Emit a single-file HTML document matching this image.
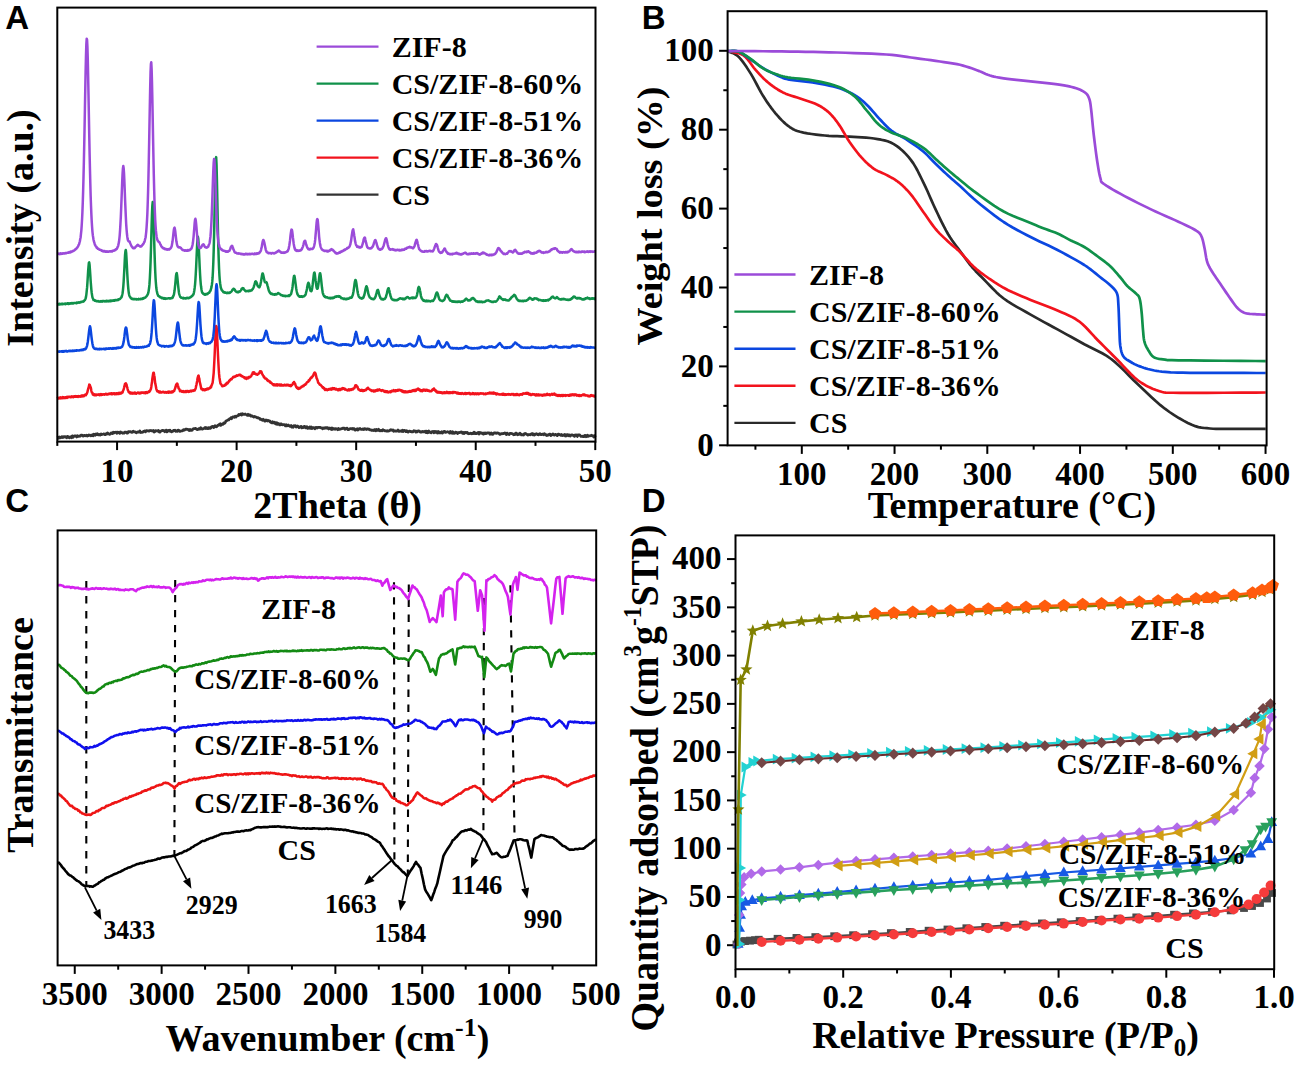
<!DOCTYPE html><html><head><meta charset="utf-8"><style>html,body{margin:0;padding:0;background:#fff;}svg{display:block;}</style></head><body>
<svg width="1299" height="1065" viewBox="0 0 1299 1065">
<rect width="1299" height="1065" fill="#fff"/>
<g id="A">
<line x1="57.3" y1="441.6" x2="57.3" y2="445.9" stroke="#000" stroke-width="2" />
<line x1="117.07" y1="441.6" x2="117.07" y2="450.1" stroke="#000" stroke-width="2" />
<line x1="176.85" y1="441.6" x2="176.85" y2="445.9" stroke="#000" stroke-width="2" />
<line x1="236.62" y1="441.6" x2="236.62" y2="450.1" stroke="#000" stroke-width="2" />
<line x1="296.4" y1="441.6" x2="296.4" y2="445.9" stroke="#000" stroke-width="2" />
<line x1="356.18" y1="441.6" x2="356.18" y2="450.1" stroke="#000" stroke-width="2" />
<line x1="415.95" y1="441.6" x2="415.95" y2="445.9" stroke="#000" stroke-width="2" />
<line x1="475.73" y1="441.6" x2="475.73" y2="450.1" stroke="#000" stroke-width="2" />
<line x1="535.5" y1="441.6" x2="535.5" y2="445.9" stroke="#000" stroke-width="2" />
<line x1="595.27" y1="441.6" x2="595.27" y2="450.1" stroke="#000" stroke-width="2" />
<text x="117.07" y="481.6" font-size="33" font-family="Liberation Serif" font-weight="bold" text-anchor="middle" >10</text>
<text x="236.62" y="481.6" font-size="33" font-family="Liberation Serif" font-weight="bold" text-anchor="middle" >20</text>
<text x="356.18" y="481.6" font-size="33" font-family="Liberation Serif" font-weight="bold" text-anchor="middle" >30</text>
<text x="475.73" y="481.6" font-size="33" font-family="Liberation Serif" font-weight="bold" text-anchor="middle" >40</text>
<text x="595.27" y="481.6" font-size="33" font-family="Liberation Serif" font-weight="bold" text-anchor="middle" >50</text>
<polyline fill="none" stroke="#333333" stroke-width="2.8" stroke-linejoin="round" points="57.3,437.68 58.02,437.31 58.73,438.15 59.45,437.05 60.17,437.82 60.89,437.46 61.6,436.84 62.32,437.59 63.04,436.69 63.76,437.34 64.47,436.63 65.19,436.6 65.91,437.14 66.62,437.81 67.34,436.48 68.06,436.6 68.78,437.27 69.49,437.79 70.21,437.06 70.93,436.67 71.65,437.66 72.36,435.92 73.08,437.33 73.8,436.24 74.52,435.92 75.23,435.81 75.95,436.1 76.67,436.95 77.38,435.75 78.1,436.41 78.82,436.45 79.54,435.91 80.25,436.17 80.97,435.23 81.69,435.17 82.41,435.37 83.12,436.16 83.84,435.65 84.56,435.39 85.27,435.81 85.99,435.52 86.71,435.18 87.43,436.01 88.14,435.77 88.86,434.89 89.58,435.42 90.3,435.26 91.01,435.83 91.73,435.5 92.45,434.64 93.16,435.82 93.88,434.21 94.6,434.68 95.32,435.23 96.03,434.07 96.75,434.62 97.47,433.74 98.19,434.81 98.9,434.92 99.62,434.51 100.34,434.99 101.06,433.91 101.77,434.53 102.49,434.29 103.21,434.2 103.92,433.91 104.64,434.54 105.36,434.66 106.08,433.75 106.79,434.02 107.51,432.87 108.23,433.96 108.95,433.8 109.66,434.36 110.38,433.98 111.1,432.95 111.81,433.07 112.53,433.51 113.25,432.29 113.97,433.01 114.68,432.42 115.4,432.26 116.12,432.09 116.84,433.3 117.55,432.11 118.27,432.29 118.99,432.52 119.71,433.35 120.42,431.9 121.14,432.53 121.86,432.68 122.57,433.25 123.29,433.1 124.01,433.15 124.73,432.07 125.44,432.28 126.16,432.15 126.88,433.07 127.6,433.17 128.31,431.68 129.03,431.7 129.75,431.77 130.46,431.74 131.18,432.16 131.9,432.32 132.62,431.7 133.33,431.2 134.05,431.92 134.77,431.8 135.49,432.12 136.2,432.78 136.92,432.28 137.64,431.93 138.35,432.09 139.07,432.16 139.79,431.01 140.51,432.5 141.22,432.25 141.94,432.39 142.66,432.22 143.38,431.46 144.09,431.44 144.81,430.88 145.53,431.8 146.25,430.74 146.96,430.72 147.68,430.96 148.4,430.86 149.11,431.16 149.83,430.63 150.55,430.52 151.27,430.77 151.98,430.67 152.7,431.12 153.42,430.49 154.14,432.01 154.85,431.52 155.57,430.67 156.29,430.84 157,430.99 157.72,431 158.44,430.55 159.16,431.84 159.87,432.09 160.59,431.12 161.31,431.13 162.03,430.4 162.74,430.41 163.46,430.83 164.18,430.67 164.9,431.67 165.61,430.45 166.33,430.19 167.05,431.84 167.76,431.06 168.48,430.36 169.2,431.06 169.92,430.11 170.63,431 171.35,431.79 172.07,431.57 172.79,431.25 173.5,430.45 174.22,430.62 174.94,430.25 175.65,431.32 176.37,430.87 177.09,431.28 177.81,430.4 178.52,430.14 179.24,431.13 179.96,431.38 180.68,431.07 181.39,430.92 182.11,430.87 182.83,430.66 183.54,429.67 184.26,430.13 184.98,429.77 185.7,429.11 186.41,429.04 187.13,429.42 187.85,429.32 188.57,430.03 189.28,430.44 190,429.45 190.72,430.27 191.44,430.29 192.15,430.16 192.87,429.03 193.59,428.7 194.3,428.65 195.02,428.52 195.74,428.47 196.46,429.16 197.17,429.59 197.89,429.41 198.61,428.69 199.33,428.94 200.04,429.13 200.76,427.78 201.48,428.74 202.19,429.13 202.91,428.83 203.63,428.7 204.35,428.14 205.06,427.54 205.78,428.57 206.5,427.68 207.22,428.45 207.93,428.69 208.65,427.59 209.37,427.53 210.08,428.44 210.8,427.97 211.52,426.91 212.24,426.6 212.95,426.41 213.67,427.53 214.39,427.12 215.11,425.7 215.82,426.69 216.54,426.73 217.26,425.92 217.98,425.13 218.69,425.25 219.41,424.27 220.13,423.83 220.84,425.31 221.56,424.5 222.28,424.05 223,424.31 223.71,422.95 224.43,423.27 225.15,422.72 225.87,421.15 226.58,420.75 227.3,420.36 228.02,419.8 228.73,419.96 229.45,418.9 230.17,418.72 230.89,417.74 231.6,418.67 232.32,417.2 233.04,416.92 233.76,416.95 234.47,417.33 235.19,416.26 235.91,416.95 236.62,416 237.34,415.86 238.06,415.64 238.78,414.53 239.49,415.09 240.21,414.43 240.93,413.91 241.65,415.14 242.36,413.81 243.08,414.15 243.8,414.41 244.52,414.27 245.23,414.02 245.95,414.53 246.67,414.77 247.38,415.35 248.1,414.29 248.82,415.28 249.54,414.88 250.25,415.1 250.97,416.16 251.69,415.85 252.41,416.11 253.12,416.63 253.84,417.08 254.56,416.4 255.27,416.97 255.99,417.04 256.71,417.32 257.43,417.91 258.14,417.75 258.86,418.16 259.58,418.33 260.3,419.43 261.01,419.26 261.73,419.84 262.45,420.23 263.17,419.27 263.88,420.07 264.6,421.03 265.32,421.11 266.03,420.02 266.75,420.17 267.47,420.93 268.19,420.44 268.9,420.92 269.62,420.79 270.34,422.04 271.06,422.42 271.77,422.8 272.49,421.64 273.21,422.83 273.92,422.91 274.64,422.15 275.36,423.66 276.08,423.99 276.79,422.82 277.51,424.32 278.23,423.5 278.95,423.83 279.66,424.92 280.38,424.81 281.1,423.78 281.81,424.44 282.53,424.77 283.25,424.63 283.97,424.55 284.68,424.94 285.4,425.85 286.12,424.76 286.84,425.9 287.55,425.75 288.27,425.05 288.99,425.68 289.71,426.26 290.42,426.12 291.14,425.38 291.86,427.09 292.57,426.8 293.29,427.19 294.01,425.69 294.73,426.04 295.44,425.69 296.16,427.08 296.88,426.23 297.6,426.03 298.31,426.62 299.03,427.56 299.75,427.45 300.46,426.51 301.18,426.37 301.9,427.81 302.62,427.25 303.33,427.54 304.05,426.5 304.77,426.5 305.49,427.7 306.2,427.29 306.92,426.71 307.64,428.33 308.35,427.84 309.07,428.18 309.79,426.92 310.51,428.34 311.22,426.95 311.94,428.42 312.66,427.72 313.38,427.54 314.09,427.96 314.81,428.67 315.53,427.52 316.25,427.3 316.96,428.05 317.68,427.56 318.4,427.36 319.11,427.49 319.83,427.32 320.55,427.63 321.27,427.86 321.98,427.88 322.7,428.73 323.42,427.92 324.14,428.33 324.85,427.79 325.57,428.12 326.29,427.57 327,428.02 327.72,427.63 328.44,428.95 329.16,428.66 329.87,428.04 330.59,428.57 331.31,429.42 332.03,427.94 332.74,429.24 333.46,428.56 334.18,428.69 334.9,429.32 335.61,428.54 336.33,428.76 337.05,429.1 337.76,429.65 338.48,428.51 339.2,429.41 339.92,429.2 340.63,429.09 341.35,428.69 342.07,428.6 342.79,428.09 343.5,428.24 344.22,428.15 344.94,429.38 345.65,428.52 346.37,428.37 347.09,428.24 347.81,429.62 348.52,429.69 349.24,429.35 349.96,428.67 350.68,428.61 351.39,428.72 352.11,429.03 352.83,428.51 353.54,429.04 354.26,428.73 354.98,430 355.7,430.04 356.41,429.29 357.13,428.78 357.85,430.11 358.57,428.95 359.28,429.07 360,428.46 360.72,429.17 361.44,429.37 362.15,429.44 362.87,428.93 363.59,429.51 364.3,428.64 365.02,429.13 365.74,428.85 366.46,429.43 367.17,428.82 367.89,428.81 368.61,429.35 369.33,429.25 370.04,429.91 370.76,429.84 371.48,430.27 372.19,430.13 372.91,430.26 373.63,430.58 374.35,429.73 375.06,429.65 375.78,430.86 376.5,429.39 377.22,430.45 377.93,430.33 378.65,429.28 379.37,430.73 380.08,430.87 380.8,430.42 381.52,430.64 382.24,430.81 382.95,429.63 383.67,430.35 384.39,430.34 385.11,430.96 385.82,430.94 386.54,431.01 387.26,430.6 387.98,431.18 388.69,430.83 389.41,430.88 390.13,430.08 390.84,429.75 391.56,429.96 392.28,430.4 393,429.97 393.71,431.31 394.43,430.84 395.15,430.99 395.87,431.02 396.58,431.15 397.3,430.83 398.02,429.99 398.73,431.44 399.45,431.38 400.17,430.97 400.89,431.06 401.6,431.31 402.32,430.27 403.04,431.51 403.76,430.66 404.47,430.37 405.19,430.75 405.91,431.61 406.63,430.69 407.34,431.69 408.06,432.14 408.78,431.3 409.49,431.13 410.21,431.33 410.93,431.73 411.65,431.91 412.36,431.67 413.08,431.74 413.8,430.75 414.52,430.91 415.23,431.13 415.95,432.04 416.67,431.27 417.38,431.76 418.1,430.78 418.82,430.88 419.54,431.27 420.25,432.02 420.97,432.07 421.69,432.06 422.41,431.39 423.12,431.81 423.84,431.73 424.56,431.76 425.27,431.15 425.99,432.56 426.71,431.33 427.43,432.75 428.14,432.69 428.86,431.06 429.58,431.87 430.3,432.54 431.01,432.82 431.73,431.91 432.45,431.6 433.17,431.51 433.88,432.85 434.6,431.55 435.32,432.23 436.03,431.46 436.75,432.17 437.47,432.95 438.19,431.5 438.9,432.75 439.62,432.21 440.34,432.91 441.06,432.6 441.77,431.76 442.49,432.98 443.21,432.26 443.92,431.45 444.64,431.43 445.36,432.32 446.08,432.27 446.79,432.02 447.51,431.75 448.23,432.13 448.95,432.1 449.66,433.06 450.38,431.57 451.1,432.93 451.81,433.11 452.53,431.83 453.25,433.3 453.97,432.94 454.68,433.29 455.4,432.21 456.12,432.38 456.84,432.43 457.55,433.54 458.27,432.82 458.99,432.43 459.71,432.57 460.42,432.31 461.14,431.92 461.86,432.04 462.57,433.37 463.29,432.4 464.01,433.59 464.73,432.37 465.44,432.42 466.16,432.88 466.88,432.32 467.6,432.67 468.31,433.74 469.03,433.62 469.75,433.51 470.46,433.2 471.18,433.73 471.9,433.8 472.62,433.11 473.33,433.44 474.05,432.25 474.77,433.49 475.49,433.01 476.2,433.57 476.92,433.39 477.64,432.76 478.36,432.35 479.07,433.95 479.79,432.53 480.51,433.17 481.22,432.96 481.94,432.89 482.66,433.7 483.38,434.15 484.09,432.88 484.81,433.61 485.53,432.99 486.25,433.47 486.96,433.19 487.68,432.8 488.4,432.81 489.11,432.9 489.83,434.18 490.55,433.45 491.27,432.97 491.98,434.22 492.7,434.4 493.42,433.43 494.14,432.89 494.85,433 495.57,432.83 496.29,433.3 497,432.86 497.72,433.14 498.44,433.19 499.16,433.77 499.87,434.35 500.59,434.12 501.31,433.53 502.03,433.54 502.74,433.76 503.46,433.51 504.18,433.45 504.9,432.97 505.61,433.37 506.33,434.63 507.05,433.13 507.76,433.83 508.48,434.07 509.2,434.5 509.92,433.35 510.63,433.47 511.35,433.44 512.07,433.73 512.79,433.83 513.5,434.76 514.22,434.58 514.94,434.64 515.65,433.12 516.37,433.16 517.09,434.39 517.81,434.74 518.52,434 519.24,434.22 519.96,433.18 520.68,433.89 521.39,434.87 522.11,434.71 522.83,434.77 523.55,435 524.26,433.71 524.98,433.48 525.7,433.57 526.41,434.25 527.13,434.55 527.85,435.03 528.57,434.65 529.28,434.54 530,434.76 530.72,434.22 531.44,434.41 532.15,433.5 532.87,434.85 533.59,433.88 534.3,435.13 535.02,434.65 535.74,434.05 536.46,433.75 537.17,433.99 537.89,434.7 538.61,434.82 539.33,433.78 540.04,433.72 540.76,434.55 541.48,434.67 542.19,434.34 542.91,434.06 543.63,434.75 544.35,433.7 545.06,434.24 545.78,434.54 546.5,435.46 547.22,434.91 547.93,435.35 548.65,434.63 549.37,434.21 550.09,434.25 550.8,435.55 551.52,435.1 552.24,434.4 552.95,433.9 553.67,434.78 554.39,435.11 555.11,434.67 555.82,434.39 556.54,435.14 557.26,435.62 557.98,434.38 558.69,434.05 559.41,434.61 560.13,434.79 560.84,435.28 561.56,434.44 562.28,435.55 563,435.47 563.71,435.08 564.43,434.57 565.15,435.97 565.87,434.81 566.58,435.76 567.3,434.72 568.02,434.73 568.73,435.73 569.45,434.92 570.17,436.13 570.89,435.34 571.6,434.81 572.32,434.91 573.04,435.28 573.76,435.76 574.47,436.3 575.19,434.88 575.91,435.35 576.63,435.06 577.34,436.45 578.06,434.98 578.78,434.85 579.49,434.89 580.21,435.52 580.93,436.46 581.65,436.46 582.36,436.21 583.08,436.72 583.8,436.63 584.52,435.57 585.23,435.34 585.95,436.72 586.67,436.41 587.38,435.15 588.1,436.32 588.82,435.83 589.54,435.85 590.25,435.8 590.97,435.54 591.69,435.27 592.41,435.79 593.12,435.95 593.84,437.06 594.56,435.59 595.28,437.14"/>
<polyline fill="none" stroke="#f2131d" stroke-width="2.5" stroke-linejoin="round" points="57.3,398.54 57.66,398.14 58.02,397.81 58.38,397.87 58.73,398.56 59.09,397.95 59.45,397.59 59.81,398.25 60.17,398.04 60.53,398.42 60.89,397.32 61.25,397.74 61.6,398.13 61.96,398.13 62.32,398.19 62.68,397.11 63.04,397.39 63.4,397.15 63.76,397.21 64.11,398.12 64.47,397.63 64.83,398.02 65.19,397.32 65.55,397.88 65.91,397.36 66.27,397.1 66.62,397.69 66.98,397.87 67.34,396.83 67.7,397.39 68.06,397.39 68.42,396.88 68.78,397.04 69.14,396.73 69.49,396.78 69.85,396.81 70.21,397.2 70.57,397.23 70.93,396.67 71.29,396.41 71.65,396.76 72,397.15 72.36,396.53 72.72,396.65 73.08,396.49 73.44,397.18 73.8,396.85 74.16,396.24 74.52,396.25 74.87,396.58 75.23,396.73 75.59,396.81 75.95,396.12 76.31,396.18 76.67,396.78 77.03,396.41 77.38,396.23 77.74,396.22 78.1,396.96 78.46,396.16 78.82,396.43 79.18,396.15 79.54,396.18 79.89,396.68 80.25,396.8 80.61,396 80.97,395.76 81.33,396.36 81.69,395.68 82.05,395.4 82.41,396.42 82.76,395.8 83.12,396.22 83.48,395.66 83.84,396.16 84.2,395.57 84.56,395.12 84.92,394.83 85.27,395.33 85.63,395.24 85.99,395.28 86.35,393.9 86.71,393.97 87.07,392.9 87.43,392.03 87.79,390.33 88.14,389.01 88.5,387.72 88.86,386.71 89.22,384.62 89.58,384.64 89.94,385.4 90.3,386.65 90.65,387.16 91.01,388.61 91.37,391.02 91.73,392.27 92.09,392.65 92.45,392.86 92.81,394.41 93.17,394.11 93.52,394.96 93.88,394.76 94.24,395.1 94.6,394.36 94.96,395.15 95.32,394.5 95.68,394.73 96.03,395.27 96.39,395.25 96.75,394.47 97.11,394.51 97.47,394.72 97.83,394.85 98.19,394.68 98.54,394.35 98.9,394.49 99.26,395.04 99.62,395.23 99.98,394.19 100.34,394.79 100.7,395.01 101.06,394.12 101.41,395.06 101.77,394.17 102.13,394.73 102.49,394.65 102.85,394.71 103.21,394.31 103.57,394.42 103.92,394.59 104.28,394.37 104.64,394.63 105,394.35 105.36,394.31 105.72,393.79 106.08,394.48 106.44,394.3 106.79,393.97 107.15,394.57 107.51,394.57 107.87,394.15 108.23,393.79 108.59,394.12 108.95,393.65 109.3,393.65 109.66,393.98 110.02,393.55 110.38,393.94 110.74,393.99 111.1,393.4 111.46,394.08 111.81,393.39 112.17,394.14 112.53,394.16 112.89,393.81 113.25,393.23 113.61,393.74 113.97,393.56 114.33,394.21 114.68,393.2 115.04,394.05 115.4,394.2 115.76,393.87 116.12,393.95 116.48,393.19 116.84,394.12 117.19,393.51 117.55,394.04 117.91,393.97 118.27,393.04 118.63,393.76 118.99,393.89 119.35,392.82 119.71,393.12 120.06,393.55 120.42,392.77 120.78,393.58 121.14,392.74 121.5,393.25 121.86,392.25 122.22,392.4 122.57,392.49 122.93,391.05 123.29,390.32 123.65,389.57 124.01,388.08 124.37,386.29 124.73,384.98 125.08,383.64 125.44,383.71 125.8,383.26 126.16,384.14 126.52,384.45 126.88,386.64 127.24,387.29 127.6,389.11 127.95,390.34 128.31,390.87 128.67,392.12 129.03,392.19 129.39,392.52 129.75,393.09 130.11,392.29 130.46,393.45 130.82,393.08 131.18,392.84 131.54,393.36 131.9,392.75 132.26,393.65 132.62,393.17 132.98,392.92 133.33,393.42 133.69,393.04 134.05,392.73 134.41,393.41 134.77,392.58 135.13,393.5 135.49,392.83 135.84,393.29 136.2,393.7 136.56,393.22 136.92,393.3 137.28,392.88 137.64,392.5 138,392.53 138.35,392.66 138.71,393.21 139.07,392.98 139.43,393.07 139.79,393.52 140.15,392.59 140.51,392.69 140.87,393.19 141.22,392.42 141.58,392.38 141.94,392.78 142.3,392.47 142.66,392.75 143.02,392.57 143.38,392.98 143.73,392.96 144.09,392.48 144.45,392.95 144.81,392.74 145.17,392.3 145.53,393.23 145.89,392.35 146.25,392.19 146.6,392.08 146.96,392.67 147.32,392.88 147.68,392.69 148.04,392.14 148.4,391.86 148.76,391.41 149.11,391.97 149.47,391.59 149.83,390.92 150.19,390.67 150.55,389.55 150.91,388.91 151.27,387.01 151.62,384.3 151.98,382.55 152.34,378.71 152.7,376.52 153.06,374.09 153.42,372.68 153.78,372.7 154.14,375.17 154.49,376.73 154.85,380.19 155.21,383.38 155.57,384.81 155.93,386.83 156.29,388.82 156.65,389.78 157,390.7 157.36,391.41 157.72,390.99 158.08,391.38 158.44,391.53 158.8,391.34 159.16,392.44 159.52,392.38 159.87,392.36 160.23,391.55 160.59,392.59 160.95,392.5 161.31,392.19 161.67,392.54 162.03,392.21 162.38,391.95 162.74,391.82 163.1,391.97 163.46,391.75 163.82,392.1 164.18,392.6 164.54,392.53 164.89,392.71 165.25,392.54 165.61,392 165.97,392.34 166.33,392.19 166.69,392.6 167.05,392.27 167.41,391.95 167.76,392.38 168.12,392.76 168.48,391.84 168.84,392.62 169.2,391.56 169.56,391.83 169.92,391.77 170.27,392.35 170.63,392.55 170.99,392.28 171.35,391.73 171.71,392.33 172.07,391.6 172.43,391.4 172.79,392.08 173.14,391.56 173.5,391.37 173.86,390.96 174.22,390.81 174.58,389.48 174.94,389.01 175.3,387.76 175.65,386.75 176.01,385.05 176.37,384.42 176.73,383.72 177.09,383.5 177.45,384.05 177.81,385.6 178.17,386.13 178.52,388.28 178.88,388.37 179.24,389.05 179.6,389.77 179.96,391.21 180.32,390.82 180.68,390.78 181.03,390.78 181.39,390.89 181.75,391.73 182.11,391.7 182.47,391.8 182.83,391.87 183.19,391.08 183.54,391.71 183.9,391.45 184.26,391.99 184.62,391.99 184.98,392.07 185.34,391.08 185.7,392.03 186.06,392.08 186.41,392.1 186.77,391.08 187.13,391.19 187.49,391.06 187.85,390.94 188.21,391.9 188.57,391.83 188.92,391.6 189.28,391.8 189.64,391.54 190,391.09 190.36,390.83 190.72,390.79 191.08,391.54 191.44,390.83 191.79,390.91 192.15,390.98 192.51,390.43 192.87,390.63 193.23,390.56 193.59,390.95 193.95,390.37 194.3,390.09 194.66,390.53 195.02,389.5 195.38,389.23 195.74,387.98 196.1,385.98 196.46,384.78 196.81,382.82 197.17,381.04 197.53,378.36 197.89,377.02 198.25,375.87 198.61,375.65 198.97,377.66 199.33,378.64 199.68,381.68 200.04,382.99 200.4,384.63 200.76,386.36 201.12,388.13 201.48,389.17 201.84,388.52 202.19,389.43 202.55,389.63 202.91,390.1 203.27,389.42 203.63,389.81 203.99,389.62 204.35,390.18 204.71,389.45 205.06,390.22 205.42,389.37 205.78,389.21 206.14,389.71 206.5,389.38 206.86,388.81 207.22,389.33 207.57,388.54 207.93,389.26 208.29,389 208.65,388.94 209.01,388.57 209.37,388.04 209.73,387.86 210.08,387.58 210.44,387.87 210.8,386.53 211.16,387.03 211.52,385.39 211.88,384.79 212.24,383.72 212.6,382.86 212.95,380.09 213.31,376.75 213.67,373.06 214.03,366.75 214.39,360.24 214.75,352.51 215.11,344.41 215.46,336.37 215.82,329.81 216.18,326.09 216.54,326.7 216.9,330.92 217.26,338.77 217.62,346.72 217.98,354.97 218.33,361.69 218.69,368.28 219.05,373.69 219.41,377.25 219.77,379.47 220.13,381.82 220.49,383.66 220.84,383.8 221.2,384.37 221.56,384.95 221.92,385.76 222.28,386.18 222.64,385.55 223,385.7 223.35,385.94 223.71,385.9 224.07,385.87 224.43,385.16 224.79,385.06 225.15,384.59 225.51,385.21 225.87,384.59 226.22,383.51 226.58,384.2 226.94,382.82 227.3,382.82 227.66,383.21 228.02,382.65 228.38,382.23 228.73,381.53 229.09,380.9 229.45,381.08 229.81,380.09 230.17,379.86 230.53,379.72 230.89,378.94 231.25,379.02 231.6,379.13 231.96,378.65 232.32,378.06 232.68,377.85 233.04,377.28 233.4,376.74 233.76,377.13 234.11,376.73 234.47,376.97 234.83,377.01 235.19,376.27 235.55,376.27 235.91,376.32 236.27,375.76 236.63,375.36 236.98,375.79 237.34,375.81 237.7,375.51 238.06,375.25 238.42,375.27 238.78,374.89 239.14,374.8 239.49,374.77 239.85,374.8 240.21,375.38 240.57,374.94 240.93,375.52 241.29,376.16 241.65,376.27 242,376.37 242.36,376.11 242.72,376.51 243.08,376.74 243.44,377.14 243.8,377.08 244.16,377.59 244.52,378.09 244.87,377.38 245.23,378.14 245.59,378.48 245.95,378.2 246.31,378.41 246.67,378.87 247.03,377.63 247.38,378.12 247.74,377.54 248.1,378.16 248.46,378.22 248.82,377.57 249.18,376.91 249.54,377.3 249.9,377.05 250.25,377 250.61,376.42 250.97,376.17 251.33,375.89 251.69,374.93 252.05,374.14 252.41,374.11 252.76,372.62 253.12,372.75 253.48,372.24 253.84,372.8 254.2,372.37 254.56,373.84 254.92,373.52 255.27,373.55 255.63,374.1 255.99,374.44 256.35,374.07 256.71,374.55 257.07,374.5 257.43,374.76 257.79,374.18 258.14,373.81 258.5,373.4 258.86,373.56 259.22,373.27 259.58,372.23 259.94,371.37 260.3,371.76 260.65,371.23 261.01,371.26 261.37,371.62 261.73,372.96 262.09,373.86 262.45,374.47 262.81,375 263.17,375.74 263.52,375.89 263.88,377.25 264.24,376.94 264.6,377.67 264.96,378.24 265.32,378.58 265.68,378.49 266.03,378.61 266.39,379.23 266.75,379.04 267.11,380.2 267.47,379.94 267.83,380.84 268.19,380.42 268.54,380.82 268.9,380.95 269.26,381.44 269.62,381.43 269.98,381.48 270.34,382.62 270.7,382.36 271.06,382.59 271.41,382.94 271.77,383.42 272.13,383.63 272.49,384.16 272.85,384.45 273.21,384.37 273.57,385.32 273.92,385.33 274.28,384.38 274.64,385.31 275,385.41 275.36,385.27 275.72,384.5 276.08,385.34 276.44,385.11 276.79,384.37 277.15,384.37 277.51,385.51 277.87,385.16 278.23,384.68 278.59,384.5 278.95,384.56 279.3,384.67 279.66,385.33 280.02,384.82 280.38,384.59 280.74,385.5 281.1,385.36 281.46,384.62 281.81,385.49 282.17,385.16 282.53,385.37 282.89,385.23 283.25,385.51 283.61,385.38 283.97,385.44 284.33,384.68 284.68,385.27 285.04,385.08 285.4,385.33 285.76,384.97 286.12,385.5 286.48,385.1 286.84,384.75 287.19,384.81 287.55,384.8 287.91,385.32 288.27,384.89 288.63,385.47 288.99,385.17 289.35,385.66 289.71,385.73 290.06,385.82 290.42,386.2 290.78,385.12 291.14,385.99 291.5,385.32 291.86,385.09 292.22,384.76 292.57,384.43 292.93,383.27 293.29,382.77 293.65,383.05 294.01,381.91 294.37,382.88 294.73,383.49 295.08,383.54 295.44,385.06 295.8,385.92 296.16,386.9 296.52,386.74 296.88,387.97 297.24,387.77 297.6,388.02 297.95,388.74 298.31,387.89 298.67,388.88 299.03,388.69 299.39,388.13 299.75,388.54 300.11,387.72 300.46,387.63 300.82,387.46 301.18,387.52 301.54,386.62 301.9,386.65 302.26,386.4 302.62,386.32 302.98,386.41 303.33,385.53 303.69,385.94 304.05,385.19 304.41,385.07 304.77,384.54 305.13,384.47 305.49,384.68 305.84,383.94 306.2,383.75 306.56,382.84 306.92,382.46 307.28,382.08 307.64,382.06 308,381.75 308.36,381.56 308.71,380.29 309.07,380.73 309.43,380.54 309.79,379.74 310.15,378.74 310.51,378.62 310.87,377.8 311.22,377.51 311.58,377.81 311.94,376.73 312.3,376.6 312.66,376.4 313.02,376 313.38,374.93 313.73,374.11 314.09,373.32 314.45,372.8 314.81,372.5 315.17,373 315.53,373.38 315.89,375.23 316.25,376.4 316.6,378.16 316.96,378.63 317.32,379.81 317.68,380.54 318.04,382.18 318.4,382.98 318.76,383.22 319.11,383.35 319.47,384.33 319.83,384.69 320.19,384.8 320.55,384.81 320.91,385.23 321.27,385.74 321.63,385.97 321.98,386.46 322.34,387.06 322.7,387.76 323.06,387.05 323.42,388.01 323.78,387.72 324.14,388.16 324.49,389.33 324.85,389.39 325.21,390.03 325.57,389.47 325.93,388.97 326.29,389.42 326.65,389.68 327,390.1 327.36,390.15 327.72,389.55 328.08,389.47 328.44,389.09 328.8,389.73 329.16,389.18 329.52,389.08 329.87,388.87 330.23,388.79 330.59,389.53 330.95,388.76 331.31,389.67 331.67,388.51 332.03,389.33 332.38,388.34 332.74,388.12 333.1,388.91 333.46,388.32 333.82,388.93 334.18,388.31 334.54,388.22 334.9,389.18 335.25,389.21 335.61,389.49 335.97,389.46 336.33,388.79 336.69,389.54 337.05,389.72 337.41,389.5 337.76,390.12 338.12,389.35 338.48,390.24 338.84,389.96 339.2,389.12 339.56,389.1 339.92,389.83 340.27,389.96 340.63,388.98 340.99,389.14 341.35,389.48 341.71,388.63 342.07,389.28 342.43,388.66 342.79,388.02 343.14,388.33 343.5,388.61 343.86,388.55 344.22,389 344.58,388.55 344.94,389.53 345.3,389.18 345.65,389.67 346.01,389.78 346.37,389.63 346.73,389.66 347.09,390.19 347.45,390.41 347.81,390.23 348.17,389.97 348.52,389.62 348.88,389.31 349.24,390.36 349.6,389.98 349.96,390.06 350.32,389.38 350.68,389.62 351.03,389.97 351.39,389.71 351.75,389.34 352.11,388.91 352.47,388.97 352.83,389.42 353.19,388.66 353.54,388.8 353.9,388.38 354.26,388.29 354.62,387.64 354.98,386.39 355.34,385.43 355.7,385.24 356.06,385.18 356.41,385.48 356.77,386.21 357.13,386.95 357.49,386.67 357.85,388.33 358.21,388.93 358.57,389.51 358.92,389.55 359.28,389.49 359.64,390.39 360,390.48 360.36,390.44 360.72,390.79 361.08,390.17 361.44,389.89 361.79,390.49 362.15,390.81 362.51,390.12 362.87,390.8 363.23,391.03 363.59,390.19 363.95,390.63 364.3,390.69 364.66,390.38 365.02,389.98 365.38,389.89 365.74,390.28 366.1,390.06 366.46,389.32 366.81,388.48 367.17,388.94 367.53,388.55 367.89,387.68 368.25,388.07 368.61,388.65 368.97,388.99 369.33,388.99 369.68,389.37 370.04,389.9 370.4,389.75 370.76,390.02 371.12,390.2 371.48,390.96 371.84,390.66 372.19,390.97 372.55,390.82 372.91,390.99 373.27,390.56 373.63,390.44 373.99,391.58 374.35,390.82 374.71,390.48 375.06,391.07 375.42,391.21 375.78,390.38 376.14,390.82 376.5,390.41 376.86,390.5 377.22,389.75 377.57,389.61 377.93,390.6 378.29,390.3 378.65,389.72 379.01,389.74 379.37,389.35 379.73,390.03 380.09,389.71 380.44,390.47 380.8,390.41 381.16,390.61 381.52,390.92 381.88,390.2 382.24,390.06 382.6,390.38 382.95,390.48 383.31,390.48 383.67,390.55 384.03,391.27 384.39,391.74 384.75,391.34 385.11,392 385.46,392.03 385.82,391.07 386.18,391.76 386.54,391.57 386.9,391.27 387.26,392.31 387.62,391.49 387.98,391.87 388.33,391.98 388.69,392.37 389.05,392.02 389.41,391.68 389.77,391.71 390.13,391.32 390.49,392.22 390.84,392.16 391.2,391.12 391.56,390.76 391.92,390.86 392.28,390.82 392.64,391.35 393,391.26 393.36,391.13 393.71,390.16 394.07,391.05 394.43,390.97 394.79,390.91 395.15,391.3 395.51,390.14 395.87,390.18 396.22,390.82 396.58,390.96 396.94,390.58 397.3,390.08 397.66,390.41 398.02,390.59 398.38,389.78 398.73,390.02 399.09,389.93 399.45,389.78 399.81,390.26 400.17,389.98 400.53,390.19 400.89,390.22 401.25,391.02 401.6,390.39 401.96,391.39 402.32,390.9 402.68,390.83 403.04,392 403.4,391.24 403.76,392.16 404.11,392.13 404.47,392.19 404.83,391.31 405.19,391.7 405.55,391.29 405.91,392.29 406.27,392.19 406.63,391.92 406.98,391.71 407.34,391.56 407.7,392.12 408.06,391.69 408.42,391.85 408.78,391.23 409.14,391.29 409.49,391.05 409.85,391.78 410.21,391.52 410.57,390.94 410.93,391.72 411.29,390.89 411.65,390.95 412,390.52 412.36,390.53 412.72,391.09 413.08,390.37 413.44,390.09 413.8,390.41 414.16,390.17 414.52,390.87 414.87,389.92 415.23,390.95 415.59,389.8 415.95,390.72 416.31,390.3 416.67,389.54 417.03,389.6 417.38,389.08 417.74,388.79 418.1,388.56 418.46,388.76 418.82,389.68 419.18,389.98 419.54,390.24 419.9,389.58 420.25,390.1 420.61,391.06 420.97,390.2 421.33,391.06 421.69,390.54 422.05,391.29 422.41,390.02 422.76,390.82 423.12,390.13 423.48,389.78 423.84,389.57 424.2,390.58 424.56,390.26 424.92,389.88 425.27,390.19 425.63,390.75 425.99,389.89 426.35,390.3 426.71,389.81 427.07,389.93 427.43,390.76 427.79,390.82 428.14,390.36 428.5,390.38 428.86,390.52 429.22,391.26 429.58,391.2 429.94,390.97 430.3,390.9 430.65,391.35 431.01,391.37 431.37,391.34 431.73,390.85 432.09,390.1 432.45,389.58 432.81,390 433.17,389.25 433.52,389.38 433.88,388.51 434.24,389.56 434.6,389.33 434.96,390.38 435.32,390.87 435.68,390.86 436.03,390.66 436.39,392.05 436.75,391.77 437.11,392.43 437.47,391.84 437.83,391.85 438.19,392.71 438.54,392.22 438.9,392.04 439.26,392.34 439.62,392.66 439.98,392 440.34,392.66 440.7,392.62 441.06,392.74 441.41,392.31 441.77,393.06 442.13,393.21 442.49,393.28 442.85,392.61 443.21,393.06 443.57,392.64 443.92,393.05 444.28,392.18 444.64,393.1 445,393.14 445.36,392.52 445.72,392.49 446.08,392.47 446.44,392.46 446.79,391.85 447.15,393.03 447.51,392.2 447.87,392.22 448.23,392.19 448.59,392.42 448.95,393.15 449.3,392.24 449.66,392.34 450.02,393.06 450.38,392.44 450.74,392.21 451.1,392.87 451.46,392.8 451.82,392.68 452.17,392.85 452.53,392.08 452.89,392.97 453.25,392.76 453.61,391.95 453.97,392.06 454.33,392.55 454.68,392.61 455.04,392.41 455.4,392.29 455.76,392.71 456.12,392.46 456.48,393.07 456.84,393.45 457.19,392.65 457.55,393.21 457.91,393.46 458.27,392.79 458.63,393.62 458.99,393.77 459.35,393.14 459.71,393.19 460.06,393.71 460.42,393.35 460.78,393.21 461.14,393.87 461.5,393.69 461.86,393.17 462.22,393.07 462.57,393.19 462.93,393.32 463.29,393.98 463.65,393.78 464.01,393.92 464.37,393.81 464.73,393.86 465.09,392.92 465.44,393.48 465.8,394.02 466.16,394 466.52,393.19 466.88,393.4 467.24,393.66 467.6,393.35 467.95,393.56 468.31,393.01 468.67,393.46 469.03,393.55 469.39,392.98 469.75,393.13 470.11,394.13 470.46,393.91 470.82,394.11 471.18,393.75 471.54,393.97 471.9,394.07 472.26,394.08 472.62,393.06 472.98,393.8 473.33,393.36 473.69,393.86 474.05,393.38 474.41,393.71 474.77,394.18 475.13,393.82 475.49,393.38 475.84,393.72 476.2,393.62 476.56,394.25 476.92,393.46 477.28,393.49 477.64,393.9 478,393.28 478.36,393.85 478.71,394.3 479.07,393.77 479.43,393.48 479.79,393.73 480.15,393.82 480.51,393.36 480.87,393.34 481.22,393.35 481.58,393.55 481.94,393.69 482.3,393.56 482.66,393.51 483.02,393.32 483.38,393.88 483.73,394.23 484.09,393.96 484.45,393.91 484.81,394.01 485.17,393.46 485.53,394.07 485.89,393.75 486.25,393.84 486.6,393.88 486.96,393.66 487.32,393.41 487.68,393.26 488.04,393.15 488.4,393.4 488.76,393.14 489.11,393.29 489.47,392.53 489.83,392.9 490.19,393.49 490.55,392.74 490.91,393.13 491.27,393.05 491.63,392.79 491.98,393.62 492.34,392.78 492.7,393.35 493.06,392.63 493.42,392.56 493.78,393.59 494.14,393.16 494.49,392.81 494.85,393.31 495.21,393.47 495.57,393.93 495.93,393.27 496.29,393.49 496.65,394.44 497,394.23 497.36,393.58 497.72,393.84 498.08,393.89 498.44,394.3 498.8,394.26 499.16,394.55 499.52,394.54 499.87,394.19 500.23,394.47 500.59,394.48 500.95,394.51 501.31,394.18 501.67,394.57 502.03,394.49 502.38,394.74 502.74,393.81 503.1,394.71 503.46,393.68 503.82,394.6 504.18,394.39 504.54,394.3 504.9,394.86 505.25,394.4 505.61,394.23 505.97,394.67 506.33,394.79 506.69,394.48 507.05,394.21 507.41,394.31 507.76,394.32 508.12,394.65 508.48,394.14 508.84,394.27 509.2,394.47 509.56,394.27 509.92,394.21 510.27,394.77 510.63,394.85 510.99,394.44 511.35,394.38 511.71,394.08 512.07,394.23 512.43,394.04 512.79,394.57 513.14,394.58 513.5,393.99 513.86,395 514.22,394.29 514.58,394.92 514.94,394.92 515.3,395.07 515.65,394.17 516.01,394.44 516.37,395.02 516.73,393.95 517.09,393.99 517.45,394.62 517.81,394.54 518.17,395.05 518.52,394.87 518.88,394.58 519.24,395.13 519.6,394.54 519.96,394.52 520.32,394.7 520.68,394.32 521.03,394.24 521.39,394.47 521.75,394.11 522.11,394.75 522.47,394.33 522.83,394.04 523.19,393.41 523.55,393.62 523.9,393.52 524.26,393.58 524.62,393.47 524.98,393.74 525.34,393.75 525.7,393.11 526.06,393.01 526.41,393.2 526.77,393.65 527.13,392.91 527.49,393.24 527.85,393.74 528.21,393.15 528.57,393.53 528.92,394.51 529.28,394.5 529.64,394.26 530,393.88 530.36,394.89 530.72,394.68 531.08,394.84 531.44,395.02 531.79,394.87 532.15,394.29 532.51,393.97 532.87,394.17 533.23,394.51 533.59,394.58 533.95,394.28 534.3,394.34 534.66,394.94 535.02,394.96 535.38,394.69 535.74,395.49 536.1,395.08 536.46,394.39 536.82,394.85 537.17,395.31 537.53,394.74 537.89,395.22 538.25,394.4 538.61,394.77 538.97,395.43 539.33,395.13 539.68,395.23 540.04,394.68 540.4,395.04 540.76,395.12 541.12,394.78 541.48,395.24 541.84,395.11 542.19,395.67 542.55,395.17 542.91,394.97 543.27,394.62 543.63,394.66 543.99,395.38 544.35,394.57 544.71,394.53 545.06,394.57 545.42,394.92 545.78,395.2 546.14,394.84 546.5,394.96 546.86,393.97 547.22,393.85 547.57,394.75 547.93,394.27 548.29,394.82 548.65,394.48 549.01,394.34 549.37,394.52 549.73,394.34 550.09,395.3 550.44,394.88 550.8,394.54 551.16,394.58 551.52,394.4 551.88,393.88 552.24,394.77 552.6,394.29 552.95,394.64 553.31,393.94 553.67,394.12 554.03,393.7 554.39,393.56 554.75,394.78 555.11,394.87 555.46,394.42 555.82,395.3 556.18,395.35 556.54,394.85 556.9,395.31 557.26,395.8 557.62,395.3 557.98,395.88 558.33,395.06 558.69,395.26 559.05,395.67 559.41,395.09 559.77,395.21 560.13,395.9 560.49,395.44 560.84,395.82 561.2,395.18 561.56,395.1 561.92,395.33 562.28,395.13 562.64,396.08 563,395.27 563.36,395.61 563.71,395.08 564.07,395.59 564.43,395.41 564.79,395.44 565.15,395.04 565.51,395.11 565.87,395.96 566.22,395.39 566.58,395.26 566.94,395.19 567.3,395.29 567.66,395.22 568.02,394.96 568.38,395.69 568.73,395.27 569.09,395 569.45,395.61 569.81,394.82 570.17,394.96 570.53,395.56 570.89,394.62 571.25,394.92 571.6,395.3 571.96,395.18 572.32,394.34 572.68,394.52 573.04,394.94 573.4,394.52 573.76,395.22 574.11,394.35 574.47,395.27 574.83,394.78 575.19,394.49 575.55,394.81 575.91,394.49 576.27,395.25 576.63,394.8 576.98,395.66 577.34,395.37 577.7,395.19 578.06,395.12 578.42,395.62 578.78,395.2 579.14,396.03 579.49,395.16 579.85,395.64 580.21,395.66 580.57,395.31 580.93,395.85 581.29,395.31 581.65,395.54 582,395.31 582.36,394.88 582.72,394.85 583.08,394.39 583.44,394.44 583.8,395.25 584.16,394.68 584.52,395.21 584.87,394.69 585.23,395.38 585.59,395.28 585.95,395.58 586.31,395.45 586.67,395.26 587.03,395.62 587.38,395.58 587.74,395.5 588.1,396.23 588.46,395.72 588.82,395.87 589.18,396.47 589.54,396.28 589.9,396.37 590.25,396.29 590.61,395.34 590.97,395.44 591.33,395.07 591.69,395.8 592.05,395.77 592.41,395.44 592.76,395.59 593.12,395.98 593.48,396.13 593.84,395.68 594.2,396.47 594.56,395.94 594.92,396.32 595.28,395.82"/>
<polyline fill="none" stroke="#0b47e0" stroke-width="2.5" stroke-linejoin="round" points="57.3,351.65 57.66,351.52 58.02,351.4 58.38,351.53 58.73,351.45 59.09,351.79 59.45,351.59 59.81,351.33 60.17,351.46 60.53,351.54 60.89,351.44 61.25,351.29 61.6,351.2 61.96,351.14 62.32,351.8 62.68,351.61 63.04,351.12 63.4,351.54 63.76,351.71 64.11,351.39 64.47,351.05 64.83,351.3 65.19,351.24 65.55,351.05 65.91,351.27 66.27,350.88 66.62,351.49 66.98,351.28 67.34,351.24 67.7,351.44 68.06,351.22 68.42,350.91 68.78,350.89 69.14,350.79 69.49,350.69 69.85,351.19 70.21,351.21 70.57,350.81 70.93,350.71 71.29,351 71.65,351.12 72,351.16 72.36,350.6 72.72,351.01 73.08,351.02 73.44,350.93 73.8,350.61 74.16,350.49 74.52,350.91 74.87,350.53 75.23,350.54 75.59,350.64 75.95,350.49 76.31,350.78 76.67,350.34 77.03,350.17 77.38,350.51 77.74,350.52 78.1,350.62 78.46,350.51 78.82,350.61 79.18,350.6 79.54,350.25 79.89,350.22 80.25,349.94 80.61,349.99 80.97,350.14 81.33,349.74 81.69,350.11 82.05,349.69 82.41,349.82 82.76,350.12 83.12,349.43 83.48,349.31 83.84,349.49 84.2,349.21 84.56,349.45 84.92,348.79 85.27,349.17 85.63,348.9 85.99,348.47 86.35,347.65 86.71,346.74 87.07,345.84 87.43,344.11 87.79,341.9 88.14,339.16 88.5,336.1 88.86,332.92 89.22,329.88 89.58,327.6 89.94,326.19 90.3,327.13 90.65,329.53 91.01,332.72 91.37,335.88 91.73,338.86 92.09,341.42 92.45,343.69 92.81,345.36 93.17,346.85 93.52,347.58 93.88,348.07 94.24,348.49 94.6,348.71 94.96,348.64 95.32,348.89 95.68,348.45 96.03,348.96 96.39,348.96 96.75,348.79 97.11,349.01 97.47,349.31 97.83,349 98.19,349.13 98.54,348.9 98.9,348.94 99.26,349.32 99.62,348.72 99.98,348.84 100.34,349.18 100.7,349.01 101.06,348.75 101.41,349.15 101.77,348.94 102.13,349.07 102.49,348.95 102.85,349.01 103.21,349.02 103.57,348.89 103.92,348.68 104.28,348.71 104.64,349.19 105,348.94 105.36,348.62 105.72,349.12 106.08,348.68 106.44,348.55 106.79,348.84 107.15,348.62 107.51,348.77 107.87,348.79 108.23,348.54 108.59,348.77 108.95,348.42 109.3,348.68 109.66,348.71 110.02,348.33 110.38,348.54 110.74,348.28 111.1,348.52 111.46,348.79 111.81,348.54 112.17,348.63 112.53,348.64 112.89,348.16 113.25,348.74 113.61,348.53 113.97,348.06 114.33,348.54 114.68,348.21 115.04,348.03 115.4,348.55 115.76,348.25 116.12,348.37 116.48,347.89 116.84,348.31 117.19,347.77 117.55,347.86 117.91,347.91 118.27,347.61 118.63,347.97 118.99,347.64 119.35,347.64 119.71,347.85 120.06,347.56 120.42,347.78 120.78,347.47 121.14,347.49 121.5,347.06 121.86,347 122.22,346.54 122.57,345.41 122.93,344.89 123.29,343.31 123.65,341.85 124.01,339.56 124.37,336.99 124.73,333.55 125.08,330.81 125.44,328.67 125.8,327.55 126.16,327.64 126.52,328.85 126.88,331.85 127.24,334.44 127.6,337.62 127.95,340.31 128.31,341.87 128.67,344.01 129.03,344.97 129.39,345.47 129.75,345.96 130.11,346.5 130.46,347.02 130.82,347.01 131.18,346.8 131.54,346.83 131.9,346.96 132.26,347.5 132.62,347.12 132.98,347.41 133.33,347.26 133.69,347.56 134.05,347.36 134.41,347.21 134.77,347.74 135.13,347.51 135.49,347.62 135.84,347.7 136.2,347.8 136.56,347.14 136.92,347.37 137.28,347.23 137.64,347.46 138,347.71 138.35,347.65 138.71,347.1 139.07,347.19 139.43,347.62 139.79,347.5 140.15,347.28 140.51,347.32 140.87,347.08 141.22,347.53 141.58,347.19 141.94,347.49 142.3,347.28 142.66,346.87 143.02,347.01 143.38,346.89 143.73,347.32 144.09,347.06 144.45,346.62 144.81,346.65 145.17,346.72 145.53,346.72 145.89,346.72 146.25,346.49 146.6,346.37 146.96,346.01 147.32,346.27 147.68,345.95 148.04,345.55 148.4,345.64 148.76,345.73 149.11,344.73 149.47,344.33 149.83,344.03 150.19,342.79 150.55,341.36 150.91,339.45 151.27,336.36 151.62,332.64 151.98,327.57 152.34,321.85 152.7,315.21 153.06,307.96 153.42,302.93 153.78,300.22 154.14,300.87 154.49,304.62 154.85,310.44 155.21,317.12 155.57,323.42 155.93,329.06 156.29,334.06 156.65,337.68 157,340.32 157.36,341.95 157.72,342.91 158.08,344.06 158.44,344.61 158.8,344.84 159.16,345.22 159.52,345.25 159.87,345.57 160.23,345.62 160.59,345.5 160.95,345.79 161.31,345.87 161.67,346.41 162.03,346.11 162.38,346.08 162.74,346.04 163.1,346.07 163.46,346.18 163.82,346.06 164.18,345.99 164.54,346.6 164.89,346.32 165.25,346.32 165.61,346.41 165.97,346.23 166.33,346.13 166.69,346.05 167.05,346.21 167.41,346.2 167.76,346.48 168.12,346.34 168.48,346.58 168.84,346.14 169.2,346.51 169.56,346.24 169.92,345.85 170.27,345.87 170.63,346.1 170.99,346.32 171.35,345.81 171.71,346.02 172.07,345.68 172.43,345.87 172.79,345.16 173.14,345.25 173.5,345.27 173.86,344.45 174.22,343.88 174.58,342.9 174.94,341.81 175.3,340.24 175.65,338.36 176.01,335.3 176.37,332.24 176.73,328.69 177.09,325.77 177.45,323.57 177.81,322.52 178.17,323.08 178.52,325.81 178.88,329.14 179.24,332.27 179.6,335.07 179.96,338.28 180.32,340.48 180.68,341.72 181.03,342.73 181.39,343.57 181.75,344.34 182.11,344.93 182.47,345.01 182.83,345.38 183.19,345 183.54,345.17 183.9,345.54 184.26,345.52 184.62,345.39 184.98,345.61 185.34,345.4 185.7,345.22 186.06,345.47 186.41,345.22 186.77,345.62 187.13,345.41 187.49,345.51 187.85,345.56 188.21,345.3 188.57,345.41 188.92,345.06 189.28,345.66 189.64,345.36 190,345.6 190.36,344.89 190.72,345.21 191.08,345.21 191.44,344.84 191.79,344.57 192.15,344.49 192.51,344.34 192.87,344.61 193.23,343.93 193.59,344.19 193.95,343.59 194.3,343.24 194.66,342.66 195.02,341.73 195.38,340.48 195.74,338.52 196.1,335.63 196.46,332.26 196.81,327.25 197.17,321.98 197.53,315.84 197.89,309.75 198.25,304.42 198.61,302.09 198.97,302.76 199.33,305.93 199.68,311.28 200.04,317.63 200.4,323.92 200.76,328.62 201.12,332.8 201.48,336.39 201.84,338.87 202.19,340.58 202.55,341.39 202.91,342.55 203.27,342.49 203.63,343.17 203.99,342.93 204.35,343.04 204.71,343.22 205.06,343.25 205.42,343.61 205.78,343.68 206.14,343.42 206.5,343.95 206.86,343.53 207.22,343.34 207.57,343.31 207.93,343.63 208.29,343.68 208.65,343.06 209.01,342.85 209.37,343.24 209.73,342.72 210.08,343.05 210.44,342.51 210.8,342.35 211.16,341.85 211.52,341.79 211.88,341.06 212.24,340.29 212.6,339.73 212.95,337.77 213.31,336.15 213.67,332.72 214.03,329.01 214.39,323.38 214.75,316.88 215.11,308.35 215.46,300.18 215.82,292.06 216.18,286.47 216.54,284.23 216.9,286.19 217.26,291.79 217.62,299.75 217.98,308.21 218.33,316.23 218.69,322.84 219.05,328.21 219.41,332.65 219.77,335.46 220.13,337.21 220.49,339.04 220.84,339.39 221.2,340.25 221.56,340.39 221.92,341.2 222.28,341.45 222.64,341.15 223,341.58 223.35,341.68 223.71,341.34 224.07,341.39 224.43,341.5 224.79,341.77 225.15,341.23 225.51,341.56 225.87,341.46 226.22,341.31 226.58,341.34 226.94,341.48 227.3,340.94 227.66,341.34 228.02,340.89 228.38,341.09 228.73,341.06 229.09,340.48 229.45,340.85 229.81,340.82 230.17,340.2 230.53,339.84 230.89,339.76 231.25,340.19 231.6,339.28 231.96,339.58 232.32,338.63 232.68,338.53 233.04,337.53 233.4,337.02 233.76,336.93 234.11,336.27 234.47,336.5 234.83,337.22 235.19,337.58 235.55,338.25 235.91,338.87 236.27,338.68 236.63,339.21 236.98,339.89 237.34,340.04 237.7,339.73 238.06,340.15 238.42,340.03 238.78,340.21 239.14,340.01 239.49,339.97 239.85,340.66 240.21,340.19 240.57,340.59 240.93,340.07 241.29,340.32 241.65,340.08 242,340.28 242.36,340.11 242.72,340.46 243.08,340.08 243.44,340.48 243.8,340.31 244.16,340.03 244.52,340.2 244.87,340.29 245.23,340.58 245.59,340.17 245.95,340.07 246.31,340.59 246.67,340.52 247.03,340.4 247.38,340.07 247.74,339.99 248.1,340.04 248.46,339.9 248.82,339.89 249.18,340.23 249.54,340.18 249.9,340.3 250.25,340.19 250.61,339.96 250.97,340.45 251.33,340.44 251.69,340.38 252.05,340.4 252.41,340.52 252.76,340.74 253.12,340.68 253.48,340.58 253.84,340.38 254.2,340.33 254.56,340.42 254.92,340.82 255.27,340.42 255.63,340.43 255.99,340.46 256.35,340.28 256.71,340.89 257.07,340.2 257.43,340.63 257.79,340.85 258.14,340.39 258.5,340.64 258.86,340.47 259.22,340.37 259.58,340.33 259.94,340.26 260.3,340.74 260.65,340.69 261.01,340.78 261.37,340.17 261.73,340.58 262.09,340.24 262.45,340.31 262.81,339.98 263.17,339.4 263.52,339.25 263.88,337.73 264.24,337.15 264.6,335.9 264.96,334.19 265.32,332.79 265.68,331.89 266.03,330.77 266.39,331.25 266.75,332.28 267.11,333.46 267.47,335.31 267.83,336.66 268.19,338.14 268.54,339.35 268.9,340.28 269.26,340.71 269.62,341.41 269.98,341.7 270.34,341.74 270.7,342.21 271.06,342.13 271.41,342.71 271.77,342.53 272.13,342.81 272.49,342.78 272.85,342.78 273.21,342.64 273.57,342.62 273.92,343.19 274.28,342.94 274.64,342.96 275,342.98 275.36,343.2 275.72,342.82 276.08,342.79 276.44,343.26 276.79,343.02 277.15,343.16 277.51,343.31 277.87,343.37 278.23,343.36 278.59,342.79 278.95,343.04 279.3,343.37 279.66,343.36 280.02,342.89 280.38,342.92 280.74,342.99 281.1,342.89 281.46,343.08 281.81,343.4 282.17,343.2 282.53,343.16 282.89,342.91 283.25,343.12 283.61,343.55 283.97,343.33 284.33,343.16 284.68,343.18 285.04,343.39 285.4,343.35 285.76,342.91 286.12,343.26 286.48,343.02 286.84,343.11 287.19,342.89 287.55,342.95 287.91,342.9 288.27,342.89 288.63,342.58 288.99,342.66 289.35,342.85 289.71,342.4 290.06,342.37 290.42,342.58 290.78,342.04 291.14,341.73 291.5,341.17 291.86,340.85 292.22,339.31 292.57,338.33 292.93,336.79 293.29,334.35 293.65,332.38 294.01,330.64 294.37,329.04 294.73,328.31 295.08,328.63 295.44,330.39 295.8,332.33 296.16,334.69 296.52,336.38 296.88,338.16 297.24,339.68 297.6,340.81 297.95,341.22 298.31,341.74 298.67,342.21 299.03,342.68 299.39,342.33 299.75,342.98 300.11,342.88 300.46,342.7 300.82,342.95 301.18,342.75 301.54,342.6 301.9,343.09 302.26,342.84 302.62,342.95 302.98,342.92 303.33,343.2 303.69,343.07 304.05,342.52 304.41,342.86 304.77,342.68 305.13,342.55 305.49,342.61 305.84,342.02 306.2,341.65 306.56,341.39 306.92,340.38 307.28,339.61 307.64,338.76 308,338.16 308.36,337.43 308.71,337.22 309.07,337.16 309.43,337.43 309.79,338.59 310.15,339.22 310.51,339.97 310.87,340.38 311.22,340.07 311.58,340.01 311.94,339.5 312.3,339.36 312.66,338.01 313.02,337.09 313.38,336.71 313.73,336.03 314.09,335.57 314.45,336.41 314.81,337.19 315.17,337.94 315.53,338.54 315.89,339.75 316.25,340.13 316.6,340.58 316.96,340.92 317.32,340.53 317.68,339.96 318.04,338.44 318.4,337.14 318.76,335.42 319.11,332.87 319.47,331.2 319.83,328.48 320.19,326.82 320.55,326.26 320.91,326.87 321.27,328.98 321.63,331.05 321.98,333.44 322.34,335.64 322.7,337.32 323.06,339.04 323.42,340.6 323.78,341.39 324.14,342.01 324.49,341.99 324.85,342.22 325.21,342.3 325.57,342.77 325.93,342.75 326.29,342.89 326.65,343.01 327,343.16 327.36,343.08 327.72,343.44 328.08,343.06 328.44,343.59 328.8,343.34 329.16,342.97 329.52,343.11 329.87,343.21 330.23,343.05 330.59,343.07 330.95,342.8 331.31,342.68 331.67,342.97 332.03,342.58 332.38,342.88 332.74,343.01 333.1,342.98 333.46,343.05 333.82,343.57 334.18,343.44 334.54,343.95 334.9,343.58 335.25,344.03 335.61,344.34 335.97,344.08 336.33,344.79 336.69,344.35 337.05,344.81 337.41,344.61 337.76,345.2 338.12,345 338.48,345.21 338.84,345.03 339.2,345.18 339.56,345.18 339.92,344.91 340.27,344.82 340.63,345.22 340.99,344.67 341.35,345.14 341.71,344.55 342.07,344.38 342.43,344.28 342.79,344.68 343.14,344.73 343.5,344.33 343.86,344.51 344.22,344.28 344.58,344.77 344.94,344.67 345.3,344.35 345.65,344.32 346.01,344.79 346.37,344.34 346.73,344.88 347.09,344.48 347.45,344.43 347.81,344.69 348.17,344.57 348.52,344.83 348.88,344.65 349.24,345.3 349.6,345 349.96,345.45 350.32,345.04 350.68,345.52 351.03,345.65 351.39,345.19 351.75,344.83 352.11,344.89 352.47,344.78 352.83,344.03 353.19,343.59 353.54,342.33 353.9,341.33 354.26,339.93 354.62,337.87 354.98,336.06 355.34,333.8 355.7,332.91 356.06,331.89 356.41,332.95 356.77,334.35 357.13,336.14 357.49,337.78 357.85,339.39 358.21,340.91 358.57,342.31 358.92,342.9 359.28,343.64 359.64,343.23 360,343.48 360.36,343.59 360.72,343.17 361.08,342.89 361.44,342.39 361.79,342.35 362.15,342.47 362.51,343.02 362.87,343.15 363.23,342.89 363.59,343.48 363.95,342.85 364.3,343.07 364.66,342.93 365.02,341.85 365.38,341.4 365.74,340.14 366.1,338.59 366.46,337.78 366.81,337.23 367.17,337.05 367.53,337.99 367.89,338.66 368.25,340.37 368.61,341.31 368.97,342.31 369.33,343.63 369.68,344.06 370.04,344.93 370.4,345.49 370.76,345.61 371.12,345.68 371.48,345.48 371.84,345.86 372.19,345.57 372.55,345.93 372.91,345.51 373.27,345.74 373.63,345.47 373.99,345.37 374.35,345.46 374.71,344.99 375.06,344.88 375.42,345.29 375.78,344.67 376.14,344.74 376.5,344.34 376.86,343.5 377.22,342.58 377.57,341.77 377.93,341.59 378.29,340.51 378.65,340.59 379.01,340.87 379.37,341.18 379.73,342.24 380.09,342.88 380.44,343.93 380.8,344.58 381.16,345.02 381.52,345.29 381.88,345.69 382.24,345.7 382.6,345.72 382.95,345.79 383.31,346.17 383.67,345.81 384.03,345.93 384.39,345.14 384.75,345.6 385.11,345.08 385.46,345.09 385.82,344.69 386.18,344.43 386.54,343.6 386.9,343.27 387.26,341.97 387.62,341.03 387.98,339.85 388.33,339.26 388.69,338.91 389.05,338.89 389.41,339.98 389.77,340.42 390.13,341.91 390.49,342.77 390.84,343.98 391.2,344.89 391.56,345.43 391.92,345.39 392.28,345.77 392.64,346.15 393,346.47 393.36,345.79 393.71,346.13 394.07,346.08 394.43,346.05 394.79,345.58 395.15,345.79 395.51,345.45 395.87,345.73 396.22,345.09 396.58,345.79 396.94,345.49 397.3,345.56 397.66,345.4 398.02,345.54 398.38,345.89 398.73,345.84 399.09,345.42 399.45,345.5 399.81,345.29 400.17,345.26 400.53,345.23 400.89,345.28 401.25,345.74 401.6,345.79 401.96,345.71 402.32,345.57 402.68,345.66 403.04,345.94 403.4,346.1 403.76,346.05 404.11,346.01 404.47,345.72 404.83,346.01 405.19,346.14 405.55,346.06 405.91,345.5 406.27,345.85 406.63,345.47 406.98,345.2 407.34,345.58 407.7,345.16 408.06,344.96 408.42,344.24 408.78,344.42 409.14,344.19 409.49,343.93 409.85,343.71 410.21,343.86 410.57,344.09 410.93,344.3 411.29,344.59 411.65,345.23 412,345.52 412.36,345.84 412.72,345.62 413.08,346.21 413.44,345.99 413.8,346.31 414.16,345.71 414.52,346.26 414.87,346.02 415.23,345.47 415.59,345.59 415.95,344.74 416.31,344.1 416.67,343.44 417.03,342.2 417.38,341.07 417.74,339.91 418.1,338.3 418.46,337.09 418.82,336.14 419.18,336.4 419.54,337.08 419.9,338.15 420.25,339.7 420.61,341.02 420.97,342.02 421.33,342.91 421.69,344.21 422.05,345.04 422.41,345.23 422.76,345.81 423.12,346.28 423.48,346.47 423.84,346.09 424.2,346.56 424.56,346.33 424.92,346.48 425.27,347.03 425.63,346.81 425.99,346.99 426.35,346.93 426.71,346.88 427.07,346.82 427.43,346.95 427.79,347.31 428.14,347.17 428.5,346.95 428.86,346.81 429.22,346.92 429.58,347.2 429.94,346.99 430.3,347.09 430.65,347.13 431.01,346.58 431.37,346.9 431.73,346.38 432.09,346.88 432.45,346.41 432.81,346.49 433.17,347.01 433.52,346.65 433.88,346.59 434.24,347.07 434.6,346.85 434.96,346.95 435.32,346.42 435.68,346.19 436.03,346.06 436.39,345.14 436.75,344.72 437.11,343.3 437.47,342.85 437.83,341.58 438.19,341.33 438.54,340.89 438.9,341.41 439.26,342.69 439.62,343.26 439.98,344.42 440.34,344.85 440.7,345.61 441.06,345.97 441.41,346.67 441.77,347.15 442.13,347.07 442.49,347.05 442.85,347.45 443.21,347.37 443.57,347.09 443.92,346.46 444.28,346.52 444.64,345.95 445,345.74 445.36,344.64 445.72,344.09 446.08,343.32 446.44,342.52 446.79,342.28 447.15,342.43 447.51,343.01 447.87,343.43 448.23,344.15 448.59,345.4 448.95,345.5 449.3,346.67 449.66,347.05 450.02,347.34 450.38,347.53 450.74,347.94 451.1,348.18 451.46,348.16 451.82,348.25 452.17,347.8 452.53,348.03 452.89,347.93 453.25,348.52 453.61,348.49 453.97,347.98 454.33,348.31 454.68,348.31 455.04,347.95 455.4,348.19 455.76,348.45 456.12,348.38 456.48,348.13 456.84,348.47 457.19,348.14 457.55,348.32 457.91,348.23 458.27,348.62 458.63,348.39 458.99,348.5 459.35,348.4 459.71,348.19 460.06,348.59 460.42,348.41 460.78,348.38 461.14,348.08 461.5,347.99 461.86,348.25 462.22,348.4 462.57,348.33 462.93,347.95 463.29,347.7 463.65,347.83 464.01,347.9 464.37,347.17 464.73,347.31 465.09,346.63 465.44,346.46 465.8,346.08 466.16,346.17 466.52,346.3 466.88,346.91 467.24,347.17 467.6,346.91 467.95,347.25 468.31,347.92 468.67,347.58 469.03,347.8 469.39,347.97 469.75,347.81 470.11,347.96 470.46,348.08 470.82,348.09 471.18,348.51 471.54,348.03 471.9,347.99 472.26,348.49 472.62,348.17 472.98,348.44 473.33,348.3 473.69,348.4 474.05,348.07 474.41,347.95 474.77,348.37 475.13,348.17 475.49,348.23 475.84,348.3 476.2,348.35 476.56,348.01 476.92,348.06 477.28,348.43 477.64,348.14 478,347.95 478.36,348.15 478.71,347.84 479.07,348.13 479.43,347.53 479.79,347.96 480.15,347.63 480.51,347.31 480.87,347.52 481.22,346.86 481.58,346.67 481.94,346.42 482.3,346.72 482.66,346.92 483.02,347 483.38,346.98 483.73,347.44 484.09,347.11 484.45,347.39 484.81,347.72 485.17,348.01 485.53,347.81 485.89,347.85 486.25,347.88 486.6,347.55 486.96,347.86 487.32,347.62 487.68,347.23 488.04,347.14 488.4,347.3 488.76,346.85 489.11,346.62 489.47,347 489.83,346.68 490.19,346.63 490.55,346.71 490.91,346.87 491.27,346.35 491.63,346.53 491.98,346.41 492.34,346.76 492.7,346.95 493.06,347.33 493.42,347.32 493.78,347.36 494.14,347.3 494.49,347.44 494.85,347.2 495.21,347.51 495.57,347.31 495.93,347.13 496.29,346.35 496.65,346.36 497,346.01 497.36,345.41 497.72,345.27 498.08,344.85 498.44,344.32 498.8,343.96 499.16,343.49 499.52,343.46 499.87,342.99 500.23,343.69 500.59,344.17 500.95,344.68 501.31,345.03 501.67,345.43 502.03,346.28 502.38,346.83 502.74,346.75 503.1,346.94 503.46,347.12 503.82,347.16 504.18,347.66 504.54,347.94 504.9,347.86 505.25,347.59 505.61,347.85 505.97,347.43 506.33,347.97 506.69,347.62 507.05,347.39 507.41,347.82 507.76,347.46 508.12,347.54 508.48,347.36 508.84,347.59 509.2,347.62 509.56,347.73 509.92,347.11 510.27,347.55 510.63,346.91 510.99,346.82 511.35,346.89 511.71,346.43 512.07,346.11 512.43,345.91 512.79,345.24 513.14,345.18 513.5,344.27 513.86,344.21 514.22,343.72 514.58,343.15 514.94,342.55 515.3,343.01 515.65,342.59 516.01,343.16 516.37,343.42 516.73,343.5 517.09,344.2 517.45,344.52 517.81,344.65 518.17,344.74 518.52,345.05 518.88,345.36 519.24,345.37 519.6,346.1 519.96,346.49 520.32,346.66 520.68,347.06 521.03,346.87 521.39,347.53 521.75,347.05 522.11,347.45 522.47,347.3 522.83,347.58 523.19,347.78 523.55,347.83 523.9,347.68 524.26,347.62 524.62,347.52 524.98,347.68 525.34,347.61 525.7,347.55 526.06,347.93 526.41,347.78 526.77,347.72 527.13,347.55 527.49,347.89 527.85,347.52 528.21,347.54 528.57,347.72 528.92,347.77 529.28,347.91 529.64,347.69 530,347.76 530.36,347.66 530.72,347.44 531.08,347.36 531.44,346.83 531.79,346.87 532.15,346.71 532.51,347.31 532.87,347.24 533.23,347.24 533.59,347.06 533.95,347.2 534.3,347.15 534.66,347.55 535.02,347.87 535.38,347.45 535.74,347.32 536.1,347.45 536.46,347.61 536.82,348.01 537.17,347.96 537.53,347.73 537.89,347.49 538.25,347.5 538.61,347.54 538.97,347.97 539.33,347.76 539.68,348.12 540.04,348.07 540.4,347.99 540.76,347.76 541.12,348 541.48,347.51 541.84,347.5 542.19,347.81 542.55,347.77 542.91,347.55 543.27,347.58 543.63,347.41 543.99,348.03 544.35,347.88 544.71,348.03 545.06,348.05 545.42,347.65 545.78,347.85 546.14,347.58 546.5,347.85 546.86,347.83 547.22,347.27 547.57,347.1 547.93,347.13 548.29,347.23 548.65,346.9 549.01,346.42 549.37,346.76 549.73,346.51 550.09,346.12 550.44,345.75 550.8,346.38 551.16,346.25 551.52,346.1 551.88,346.47 552.24,346.85 552.6,347.17 552.95,346.96 553.31,347.09 553.67,346.74 554.03,346.66 554.39,346.97 554.75,346.42 555.11,346.04 555.46,346.25 555.82,345.88 556.18,345.99 556.54,346.32 556.9,346.61 557.26,346.86 557.62,347.11 557.98,347.09 558.33,346.96 558.69,347.52 559.05,347.11 559.41,347.45 559.77,347.42 560.13,347.62 560.49,347.65 560.84,347.3 561.2,347.57 561.56,347.56 561.92,347.36 562.28,347.08 562.64,347.54 563,347.25 563.36,346.79 563.71,346.83 564.07,347.27 564.43,346.68 564.79,346.76 565.15,347.03 565.51,347.09 565.87,347.01 566.22,347.16 566.58,346.74 566.94,346.85 567.3,347.54 567.66,347.47 568.02,346.98 568.38,347.02 568.73,347.16 569.09,347.64 569.45,347.12 569.81,347.38 570.17,347.48 570.53,347.15 570.89,347.18 571.25,346.51 571.6,346.2 571.96,345.86 572.32,346.16 572.68,345.57 573.04,346.15 573.4,346.03 573.76,345.79 574.11,346.36 574.47,346.01 574.83,346.32 575.19,346.05 575.55,346.49 575.91,346.49 576.27,346.41 576.63,345.65 576.98,346.13 577.34,345.81 577.7,345.89 578.06,345.59 578.42,345.64 578.78,345.63 579.14,345.83 579.49,345.4 579.85,345.47 580.21,345.9 580.57,345.8 580.93,345.95 581.29,345.77 581.65,346.39 582,346 582.36,346.68 582.72,346.79 583.08,346.67 583.44,346.54 583.8,347.02 584.16,346.81 584.52,347.04 584.87,346.89 585.23,347.56 585.59,347.31 585.95,347.21 586.31,347.06 586.67,347.54 587.03,347.64 587.38,347.65 587.74,347.14 588.1,347.34 588.46,347.3 588.82,347.63 589.18,347.2 589.54,347.52 589.9,347.79 590.25,347.64 590.61,347.11 590.97,347.16 591.33,347.19 591.69,347.59 592.05,347.53 592.41,347.47 592.76,347.43 593.12,347.39 593.48,347.54 593.84,347.56 594.2,347.75 594.56,347.62 594.92,347.66 595.28,347.74"/>
<polyline fill="none" stroke="#10914a" stroke-width="2.5" stroke-linejoin="round" points="57.3,304.26 57.66,304.44 58.02,303.97 58.38,304.54 58.73,304.1 59.09,304.42 59.45,303.84 59.81,304.38 60.17,303.93 60.53,304.35 60.89,304.29 61.25,304.18 61.6,303.88 61.96,303.67 62.32,303.77 62.68,304.25 63.04,303.7 63.4,304.03 63.76,303.96 64.11,303.98 64.47,303.63 64.83,303.58 65.19,303.52 65.55,304.12 65.91,303.67 66.27,303.84 66.62,303.75 66.98,303.49 67.34,303.35 67.7,303.29 68.06,303.85 68.42,303.32 68.78,303.88 69.14,303.44 69.49,303.66 69.85,303.23 70.21,303.65 70.57,303.25 70.93,303.31 71.29,303.39 71.65,303.07 72,303.14 72.36,303.5 72.72,303.11 73.08,303.15 73.44,303.38 73.8,302.98 74.16,302.92 74.52,302.91 74.87,302.99 75.23,302.94 75.59,303.1 75.95,302.95 76.31,303.19 76.67,302.58 77.03,302.96 77.38,303.04 77.74,302.58 78.1,302.39 78.46,302.63 78.82,302.35 79.18,302.53 79.54,302.65 79.89,302.16 80.25,302.11 80.61,302.29 80.97,301.99 81.33,301.95 81.69,302 82.05,301.66 82.41,301.51 82.76,301.57 83.12,301.49 83.48,301.63 83.84,301.14 84.2,300.52 84.56,300.26 84.92,300.11 85.27,299.26 85.63,298.4 85.99,296.91 86.35,294.62 86.71,291.07 87.07,287.7 87.43,282.58 87.79,276.89 88.14,271.17 88.5,266.65 88.86,262.94 89.22,262.33 89.58,264.83 89.94,269.8 90.3,274.99 90.65,280.76 91.01,285.34 91.37,289.81 91.73,293.01 92.09,295.36 92.45,297.39 92.81,298.35 93.17,298.96 93.52,300.09 93.88,300.11 94.24,300.16 94.6,300.23 94.96,300.84 95.32,300.86 95.68,300.62 96.03,301.01 96.39,301.27 96.75,301.18 97.11,301.01 97.47,301.24 97.83,301.34 98.19,301.4 98.54,301.06 98.9,301.54 99.26,301.65 99.62,301.51 99.98,301.6 100.34,301.26 100.7,301.63 101.06,301.12 101.41,301.15 101.77,301.4 102.13,301.6 102.49,301.02 102.85,301.1 103.21,300.96 103.57,301.23 103.92,301.01 104.28,301.03 104.64,301.4 105,301.27 105.36,301.5 105.72,301.1 106.08,301.28 106.44,300.79 106.79,301.42 107.15,300.9 107.51,301.05 107.87,301.05 108.23,301.33 108.59,300.98 108.95,301.31 109.3,301.02 109.66,300.71 110.02,301.11 110.38,300.64 110.74,301.16 111.1,300.75 111.46,300.56 111.81,301.04 112.17,300.55 112.53,300.57 112.89,300.49 113.25,300.67 113.61,300.18 113.97,300.38 114.33,300.18 114.68,300.59 115.04,299.97 115.4,300.34 115.76,300.05 116.12,300.13 116.48,300.14 116.84,300.17 117.19,299.69 117.55,299.68 117.91,299.5 118.27,299.98 118.63,299.29 118.99,299.15 119.35,299.26 119.71,299.11 120.06,299.11 120.42,298.26 120.78,298.04 121.14,297.54 121.5,297.21 121.86,296.21 122.22,294.84 122.57,293.23 122.93,290.28 123.29,286.61 123.65,281.7 124.01,275.14 124.37,268.69 124.73,261.17 125.08,254.61 125.44,251.12 125.8,249.91 126.16,252.86 126.52,258.76 126.88,265.73 127.24,273.25 127.6,279.56 127.95,284.57 128.31,288.81 128.67,292.11 129.03,294.25 129.39,295.63 129.75,296.53 130.11,296.93 130.46,297.49 130.82,298.11 131.18,298.32 131.54,298.67 131.9,298.9 132.26,299.08 132.62,298.65 132.98,298.65 133.33,299.3 133.69,299.14 134.05,298.92 134.41,299.31 134.77,299.04 135.13,299.05 135.49,299.16 135.84,299.28 136.2,299.4 136.56,298.98 136.92,299.44 137.28,299.35 137.64,299.23 138,299.36 138.35,299.42 138.71,298.85 139.07,299.14 139.43,299.25 139.79,299.23 140.15,299.15 140.51,298.77 140.87,299.26 141.22,299.08 141.58,298.63 141.94,298.69 142.3,298.98 142.66,298.36 143.02,298.4 143.38,298.67 143.73,298.5 144.09,297.89 144.45,298.08 144.81,297.64 145.17,297.66 145.53,297.5 145.89,296.79 146.25,296.55 146.6,296.18 146.96,295.78 147.32,295.07 147.68,294.43 148.04,293.66 148.4,292.34 148.76,290.19 149.11,287.8 149.47,284.15 149.83,278.49 150.19,271.15 150.55,262.25 150.91,251.05 151.27,238.45 151.62,225.78 151.98,213.67 152.34,205.6 152.7,202.08 153.06,205.37 153.42,214.31 153.78,225.94 154.14,238.86 154.49,251.13 154.85,262.13 155.21,271.31 155.57,278.67 155.93,283.52 156.29,287.81 156.65,290.21 157,292.08 157.36,293.8 157.72,294.59 158.08,295.46 158.44,296.01 158.8,296.24 159.16,296.31 159.52,296.48 159.87,297.1 160.23,297.45 160.59,297.32 160.95,297.34 161.31,297.44 161.67,297.68 162.03,298.16 162.38,297.77 162.74,298.01 163.1,298.11 163.46,298.49 163.82,298.74 164.18,298.11 164.54,298.22 164.89,298.83 165.25,298.88 165.61,298.33 165.97,298.49 166.33,298.63 166.69,298.5 167.05,298.57 167.41,298.62 167.76,298.46 168.12,298.3 168.48,298.31 168.84,298.34 169.2,298.26 169.56,298.6 169.92,298.6 170.27,298.24 170.63,298.54 170.99,298.42 171.35,298.04 171.71,298.01 172.07,297.62 172.43,297.89 172.79,297.28 173.14,296.38 173.5,295.63 173.86,294.78 174.22,292.78 174.58,290.57 174.94,287.09 175.3,283.78 175.65,279.82 176.01,275.7 176.37,273.64 176.73,272.98 177.09,275.13 177.45,278.5 177.81,282.41 178.17,285.85 178.52,289.09 178.88,292.15 179.24,294.06 179.6,295.15 179.96,296.11 180.32,296.99 180.68,297.05 181.03,297.69 181.39,297.59 181.75,297.74 182.11,297.95 182.47,298.1 182.83,298.3 183.19,297.86 183.54,298.37 183.9,298.05 184.26,298.11 184.62,298.36 184.98,298.4 185.34,298.34 185.7,298.52 186.06,298.02 186.41,298.07 186.77,298.28 187.13,297.96 187.49,297.85 187.85,297.84 188.21,298.17 188.57,298.14 188.92,297.97 189.28,298.03 189.64,297.78 190,297.3 190.36,297.14 190.72,297.24 191.08,296.58 191.44,296.73 191.79,296.1 192.15,295.76 192.51,295.7 192.87,294.97 193.23,294.88 193.59,293.96 193.95,292.43 194.3,290.49 194.66,287.95 195.02,284.79 195.38,280.26 195.74,274.38 196.1,267.69 196.46,259.74 196.81,251.8 197.17,243.91 197.53,238.5 197.89,236.69 198.25,238.67 198.61,243.78 198.97,251.38 199.33,259.06 199.68,266.83 200.04,273.75 200.4,279.57 200.76,284.03 201.12,287.05 201.48,289.46 201.84,291.43 202.19,292.54 202.55,293.06 202.91,293.2 203.27,293.79 203.63,294.15 203.99,294.06 204.35,294 204.71,294.73 205.06,294.71 205.42,294.16 205.78,294.36 206.14,294.41 206.5,294.1 206.86,293.83 207.22,294.16 207.57,294 207.93,293.56 208.29,293.08 208.65,293.01 209.01,292.47 209.37,292.69 209.73,291.59 210.08,291.2 210.44,290.86 210.8,289.57 211.16,288.43 211.52,286.87 211.88,284.78 212.24,281.94 212.6,277.72 212.95,271 213.31,262.45 213.67,251.64 214.03,237.37 214.39,220.77 214.75,202.42 215.11,184.28 215.46,169.1 215.82,158.55 216.18,157.1 216.54,164.75 216.9,178.94 217.26,196.6 217.62,214.68 217.98,232.19 218.33,246.81 218.69,258.7 219.05,268.18 219.41,275.27 219.77,280.22 220.13,283.24 220.49,285.67 220.84,287.87 221.2,288.46 221.56,289.85 221.92,290.2 222.28,290.68 222.64,291.09 223,291.57 223.35,292.21 223.71,291.85 224.07,292.53 224.43,292.31 224.79,292.33 225.15,292.83 225.51,292.63 225.87,292.58 226.22,292.79 226.58,293.1 226.94,293.14 227.3,292.95 227.66,292.55 228.02,293.06 228.38,292.92 228.73,293.09 229.09,293.07 229.45,292.56 229.81,292.82 230.17,292.66 230.53,292.08 230.89,291.92 231.25,291.62 231.6,291.2 231.96,290.73 232.32,289.98 232.68,289.49 233.04,289.45 233.4,288.76 233.76,288.84 234.11,289.23 234.47,289.57 234.83,289.73 235.19,290.73 235.55,291.13 235.91,291.64 236.27,291.75 236.63,291.97 236.98,292.14 237.34,291.82 237.7,292.13 238.06,291.92 238.42,292.2 238.78,291.63 239.14,291.8 239.49,291.48 239.85,291.58 240.21,290.93 240.57,290.86 240.93,290.35 241.29,289.79 241.65,288.68 242,288.71 242.36,288.21 242.72,288.08 243.08,288.26 243.44,288.26 243.8,289.35 244.16,289.64 244.52,290.04 244.87,290.34 245.23,290.94 245.59,291.14 245.95,291.32 246.31,290.94 246.67,291.06 247.03,291 247.38,290.88 247.74,291.01 248.1,290.77 248.46,291.27 248.82,290.82 249.18,290.66 249.54,290.6 249.9,291 250.25,290.55 250.61,290.66 250.97,290.52 251.33,290.54 251.69,290.36 252.05,289.58 252.41,289.4 252.76,289.08 253.12,288.15 253.48,287.67 253.84,286.61 254.2,285.22 254.56,284.42 254.92,283.03 255.27,281.69 255.63,281.38 255.99,281.62 256.35,282.05 256.71,282.98 257.07,283.98 257.43,285.31 257.79,286.02 258.14,286.36 258.5,286.92 258.86,287.13 259.22,287.49 259.58,286.95 259.94,285.86 260.3,285.33 260.65,283.21 261.01,281.71 261.37,279.39 261.73,277.3 262.09,275.05 262.45,273.48 262.81,273.54 263.17,274.66 263.52,276.32 263.88,277.97 264.24,279.66 264.6,281.37 264.96,282.21 265.32,282.1 265.68,282.5 266.03,282.44 266.39,282.16 266.75,282.72 267.11,284.05 267.47,285.63 267.83,286.65 268.19,288.18 268.54,289.5 268.9,290.86 269.26,291.35 269.62,292.28 269.98,292.76 270.34,293.23 270.7,293.1 271.06,293.85 271.41,294.03 271.77,293.84 272.13,294.12 272.49,293.78 272.85,294.38 273.21,294.21 273.57,294.42 273.92,294.56 274.28,294.26 274.64,294.69 275,294.2 275.36,294.07 275.72,294.36 276.08,294.55 276.44,294.41 276.79,294.27 277.15,293.75 277.51,293.82 277.87,293.36 278.23,292.97 278.59,293.34 278.95,293.63 279.3,293.64 279.66,294.09 280.02,294.18 280.38,294.5 280.74,294.86 281.1,295.14 281.46,295.27 281.81,295.14 282.17,295.18 282.53,295.5 282.89,295.83 283.25,295.91 283.61,295.61 283.97,295.67 284.33,295.89 284.68,295.68 285.04,296 285.4,296.22 285.76,295.73 286.12,296.01 286.48,296.1 286.84,296.11 287.19,296.07 287.55,296.05 287.91,295.72 288.27,296.07 288.63,296.08 288.99,295.39 289.35,295.91 289.71,295.4 290.06,294.93 290.42,294.57 290.78,294.56 291.14,293.7 291.5,292.2 291.86,290.87 292.22,288.96 292.57,286.71 292.93,283.4 293.29,280.77 293.65,277.81 294.01,276.1 294.37,275.84 294.73,277.29 295.08,279.84 295.44,282.55 295.8,285.41 296.16,288.13 296.52,290.27 296.88,292.11 297.24,293.5 297.6,294.55 297.95,294.97 298.31,295.61 298.67,295.88 299.03,296.47 299.39,296.28 299.75,296.73 300.11,296.48 300.46,296.34 300.82,296.66 301.18,296.37 301.54,296.4 301.9,296.33 302.26,296.75 302.62,296.91 302.98,296.47 303.33,296.37 303.69,296.32 304.05,296.13 304.41,296.15 304.77,295.62 305.13,294.97 305.49,294.77 305.84,293.6 306.2,291.91 306.56,290.89 306.92,288.92 307.28,286.64 307.64,284.91 308,283.67 308.36,282.71 308.71,283.16 309.07,284.32 309.43,286.21 309.79,288.05 310.15,289.66 310.51,290.96 310.87,291.02 311.22,291.2 311.58,290.89 311.94,289.49 312.3,287.29 312.66,284.65 313.02,281.24 313.38,278.34 313.73,275.1 314.09,273.05 314.45,272.56 314.81,273.89 315.17,277.05 315.53,280.14 315.89,282.71 316.25,285.56 316.6,287.62 316.96,288.72 317.32,288.81 317.68,288.44 318.04,286.45 318.4,284.19 318.76,281.54 319.11,278.2 319.47,275.29 319.83,273.4 320.19,273.26 320.55,274.96 320.91,277.89 321.27,280.92 321.63,284.42 321.98,287.53 322.34,290.11 322.7,292.53 323.06,293.78 323.42,294.68 323.78,295.47 324.14,296.33 324.49,296.23 324.85,296.86 325.21,296.59 325.57,296.87 325.93,296.9 326.29,297.53 326.65,297.17 327,297.32 327.36,297.29 327.72,297.5 328.08,297.9 328.44,297.95 328.8,298.14 329.16,298.21 329.52,297.98 329.87,298.27 330.23,297.72 330.59,298.33 330.95,298 331.31,297.84 331.67,298.22 332.03,298.28 332.38,297.91 332.74,297.64 333.1,298.11 333.46,297.93 333.82,297.7 334.18,297.83 334.54,297.03 334.9,296.89 335.25,296.79 335.61,296.58 335.97,296.95 336.33,296.8 336.69,296.36 337.05,296.32 337.41,296.27 337.76,296.5 338.12,296.48 338.48,296.63 338.84,296.18 339.2,296.64 339.56,296.38 339.92,296.57 340.27,296.77 340.63,297.08 340.99,297.93 341.35,298.25 341.71,298.31 342.07,298.16 342.43,298.33 342.79,298.44 343.14,298.68 343.5,299.02 343.86,298.6 344.22,298.97 344.58,299.09 344.94,298.65 345.3,298.93 345.65,299.17 346.01,299 346.37,298.88 346.73,299.14 347.09,298.88 347.45,298.62 347.81,298.57 348.17,298.84 348.52,298.66 348.88,298.57 349.24,298.2 349.6,297.8 349.96,297.73 350.32,297.8 350.68,297.94 351.03,297.36 351.39,297.73 351.75,297.41 352.11,296.7 352.47,295.56 352.83,294.96 353.19,293.11 353.54,291.24 353.9,288.71 354.26,286.09 354.62,283.15 354.98,281.29 355.34,280.04 355.7,280.15 356.06,281.36 356.41,283.44 356.77,286.1 357.13,288.6 357.49,291.34 357.85,293.17 358.21,294.67 358.57,295.82 358.92,296.76 359.28,297.14 359.64,297.31 360,297.92 360.36,297.8 360.72,298.21 361.08,298.01 361.44,298.56 361.79,298.32 362.15,298.13 362.51,298.47 362.87,297.65 363.23,297.87 363.59,297.16 363.95,295.89 364.3,295.17 364.66,293.59 365.02,292.12 365.38,290.07 365.74,288.23 366.1,287.29 366.46,286.19 366.81,287.11 367.17,287.87 367.53,289.65 367.89,291.29 368.25,293.45 368.61,294.54 368.97,295.84 369.33,296.34 369.68,297.29 370.04,297.69 370.4,297.65 370.76,298.2 371.12,298.58 371.48,298.41 371.84,298.86 372.19,298.7 372.55,298.84 372.91,299.26 373.27,299.27 373.63,299.25 373.99,298.71 374.35,298.56 374.71,298.33 375.06,297.72 375.42,296.71 375.78,295.96 376.14,294.4 376.5,293.4 376.86,291.7 377.22,290.33 377.57,290.19 377.93,289.9 378.29,291.09 378.65,291.91 379.01,293.97 379.37,295.03 379.73,296.37 380.09,296.92 380.44,298.02 380.8,298.38 381.16,298.66 381.52,299.3 381.88,298.9 382.24,299.3 382.6,299.07 382.95,299.61 383.31,299.61 383.67,298.95 384.03,299.15 384.39,298.99 384.75,298.91 385.11,298.55 385.46,297.74 385.82,297.42 386.18,295.91 386.54,294.63 386.9,293.64 387.26,291.56 387.62,290.04 387.98,289 388.33,288.24 388.69,288.31 389.05,289.81 389.41,290.96 389.77,292.84 390.13,294.08 390.49,295.97 390.84,296.66 391.2,298.06 391.56,298.54 391.92,299.28 392.28,299.49 392.64,299.63 393,299.73 393.36,300.08 393.71,299.89 394.07,299.71 394.43,300.33 394.79,300.29 395.15,300.23 395.51,300.28 395.87,299.92 396.22,300.05 396.58,300.26 396.94,300.29 397.3,300.16 397.66,299.51 398.02,299.72 398.38,299.46 398.73,299.16 399.09,298.79 399.45,298.58 399.81,298.64 400.17,298.53 400.53,298.3 400.89,298.38 401.25,298.57 401.6,298.81 401.96,298.79 402.32,298.59 402.68,299.16 403.04,298.84 403.4,299.26 403.76,299.26 404.11,298.64 404.47,298.91 404.83,299.12 405.19,298.62 405.55,298.58 405.91,298.2 406.27,297.71 406.63,297.51 406.98,297.15 407.34,297.05 407.7,297.25 408.06,297.33 408.42,297.85 408.78,297.94 409.14,297.95 409.49,298.51 409.85,298.34 410.21,298.24 410.57,298.36 410.93,298.1 411.29,297.76 411.65,297.87 412,297.64 412.36,298.14 412.72,297.68 413.08,298.24 413.44,297.63 413.8,297.59 414.16,297.96 414.52,297.68 414.87,297.86 415.23,297.51 415.59,297.84 415.95,297.38 416.31,296.79 416.67,296.04 417.03,294.82 417.38,293 417.74,291.2 418.1,288.88 418.46,287.41 418.82,286.91 419.18,287.51 419.54,288.22 419.9,290.18 420.25,291.79 420.61,294.01 420.97,296.05 421.33,297.22 421.69,298.46 422.05,298.67 422.41,299.36 422.76,299.72 423.12,300.43 423.48,300.1 423.84,300.81 424.2,300.45 424.56,300.96 424.92,300.76 425.27,300.68 425.63,301.18 425.99,300.83 426.35,301.06 426.71,300.65 427.07,301.21 427.43,301.34 427.79,300.75 428.14,301.2 428.5,300.88 428.86,300.8 429.22,300.96 429.58,301.17 429.94,301.37 430.3,301.39 430.65,301.38 431.01,301.1 431.37,301.1 431.73,300.72 432.09,301.06 432.45,300.86 432.81,300.61 433.17,300.82 433.52,300.11 433.88,299.65 434.24,299.12 434.6,298.38 434.96,297.74 435.32,296.76 435.68,295.05 436.03,294.05 436.39,293.09 436.75,292.54 437.11,292.56 437.47,293.38 437.83,294.13 438.19,295.43 438.54,296.92 438.9,297.86 439.26,299.11 439.62,299.42 439.98,300.31 440.34,300.24 440.7,300.35 441.06,300.76 441.41,300.78 441.77,300.78 442.13,301.08 442.49,300.67 442.85,300.9 443.21,300.86 443.57,300.36 443.92,300.04 444.28,299.84 444.64,298.97 445,297.88 445.36,296.91 445.72,296.01 446.08,295.39 446.44,294.71 446.79,295 447.15,295.13 447.51,295.6 447.87,296.43 448.23,297.45 448.59,297.69 448.95,298.31 449.3,299.05 449.66,299.61 450.02,300.47 450.38,300.69 450.74,300.79 451.1,300.83 451.46,300.91 451.82,301.09 452.17,301.69 452.53,301.62 452.89,301.32 453.25,301.69 453.61,301.32 453.97,301.66 454.33,301.56 454.68,301.42 455.04,301.88 455.4,301.88 455.76,301.74 456.12,301.51 456.48,301.87 456.84,301.71 457.19,301.88 457.55,301.48 457.91,302.05 458.27,301.42 458.63,301.58 458.99,301.7 459.35,301.56 459.71,301.47 460.06,301.89 460.42,302.09 460.78,301.62 461.14,301.56 461.5,301.82 461.86,301.47 462.22,301.55 462.57,301.68 462.93,301.4 463.29,301.05 463.65,300.79 464.01,300.84 464.37,300.81 464.73,300.36 465.09,299.35 465.44,299.22 465.8,298.9 466.16,298.56 466.52,298.98 466.88,299.12 467.24,299.69 467.6,299.68 467.95,300.45 468.31,300.59 468.67,300.49 469.03,300.28 469.39,300.46 469.75,300.06 470.11,300.23 470.46,299.96 470.82,299.56 471.18,299.5 471.54,298.51 471.9,298.69 472.26,298.53 472.62,297.9 472.98,298 473.33,297.9 473.69,298.5 474.05,298.96 474.41,299.15 474.77,299.87 475.13,300.08 475.49,300.72 475.84,300.74 476.2,301.49 476.56,301.31 476.92,301.15 477.28,301.31 477.64,301.83 478,301.98 478.36,301.85 478.71,301.55 479.07,302.07 479.43,301.98 479.79,301.57 480.15,301.77 480.51,301.98 480.87,301.52 481.22,301.55 481.58,301.77 481.94,302.13 482.3,302.2 482.66,301.71 483.02,302.1 483.38,301.99 483.73,301.99 484.09,301.74 484.45,301.92 484.81,301.6 485.17,301.69 485.53,301.28 485.89,300.86 486.25,300.92 486.6,300.74 486.96,300.49 487.32,300.42 487.68,300.47 488.04,300.55 488.4,300.37 488.76,300.54 489.11,300.86 489.47,301.02 489.83,301.12 490.19,301.44 490.55,301.23 490.91,301.58 491.27,301.49 491.63,301.89 491.98,301.88 492.34,301.95 492.7,301.77 493.06,301.58 493.42,302.05 493.78,301.74 494.14,301.62 494.49,301.53 494.85,301.56 495.21,301.72 495.57,301.72 495.93,301.37 496.29,301.38 496.65,300.79 497,300.63 497.36,300.13 497.72,299.55 498.08,298.93 498.44,298.47 498.8,297.73 499.16,296.75 499.52,296.42 499.87,296.8 500.23,297.02 500.59,297.56 500.95,298.11 501.31,298.69 501.67,298.83 502.03,298.98 502.38,299.37 502.74,299.21 503.1,299.85 503.46,299.5 503.82,299.56 504.18,299.75 504.54,299.67 504.9,299.36 505.25,299.56 505.61,299.56 505.97,300.21 506.33,300.32 506.69,300.28 507.05,300.31 507.41,300.3 507.76,300.47 508.12,300.58 508.48,300.61 508.84,300.41 509.2,300.2 509.56,299.6 509.92,299.25 510.27,298.78 510.63,298.83 510.99,297.85 511.35,297.43 511.71,297.12 512.07,297.18 512.43,296.74 512.79,295.97 513.14,295.94 513.5,295.63 513.86,295.07 514.22,294.82 514.58,295.29 514.94,295.27 515.3,295.58 515.65,296.8 516.01,297.26 516.37,298.01 516.73,298.85 517.09,299.21 517.45,299.52 517.81,300.13 518.17,300.38 518.52,300.3 518.88,300.67 519.24,301.03 519.6,300.79 519.96,301.07 520.32,301.06 520.68,300.77 521.03,300.67 521.39,301.13 521.75,301.09 522.11,300.87 522.47,300.8 522.83,301.26 523.19,301.29 523.55,300.81 523.9,301.04 524.26,301.01 524.62,300.82 524.98,300.59 525.34,300.75 525.7,300.92 526.06,300.82 526.41,300.65 526.77,300.23 527.13,300.09 527.49,299.89 527.85,299.63 528.21,299.21 528.57,299.17 528.92,298.22 529.28,298.51 529.64,297.82 530,298.25 530.36,297.98 530.72,298.48 531.08,298.64 531.44,298.7 531.79,299.46 532.15,299.62 532.51,299.29 532.87,299.6 533.23,299.25 533.59,299.4 533.95,298.51 534.3,298.51 534.66,298.21 535.02,298.38 535.38,298.46 535.74,298.55 536.1,298.45 536.46,298.5 536.82,298.98 537.17,298.71 537.53,299.04 537.89,299.6 538.25,299.59 538.61,300.15 538.97,299.68 539.33,300.07 539.68,300.01 540.04,299.95 540.4,300.09 540.76,300.14 541.12,300.37 541.48,300.45 541.84,300.52 542.19,300.37 542.55,300.67 542.91,300.54 543.27,300.86 543.63,300.29 543.99,300.52 544.35,300.49 544.71,300.39 545.06,300.72 545.42,300.25 545.78,300.69 546.14,300.3 546.5,300.26 546.86,300.41 547.22,300.33 547.57,300.07 547.93,299.85 548.29,300.36 548.65,299.83 549.01,299.49 549.37,299.67 549.73,299.33 550.09,298.89 550.44,298.52 550.8,298.47 551.16,297.67 551.52,297.29 551.88,297.29 552.24,296.64 552.6,296.63 552.95,296.62 553.31,297.27 553.67,297.61 554.03,297.78 554.39,297.99 554.75,298 555.11,298.4 555.46,298.08 555.82,298.16 556.18,297.62 556.54,297.68 556.9,297.1 557.26,297.31 557.62,298.06 557.98,298.18 558.33,298.52 558.69,298.72 559.05,298.98 559.41,298.99 559.77,299.11 560.13,299.51 560.49,299.57 560.84,299.25 561.2,299.47 561.56,299.06 561.92,299.33 562.28,298.95 562.64,299.14 563,298.97 563.36,299.13 563.71,298.86 564.07,299.15 564.43,299.31 564.79,299.04 565.15,299.24 565.51,299.58 565.87,299.55 566.22,299.66 566.58,299.83 566.94,299.72 567.3,299.51 567.66,299.68 568.02,299.96 568.38,299.77 568.73,299.89 569.09,299.59 569.45,299.61 569.81,299.92 570.17,299.73 570.53,299.49 570.89,298.94 571.25,299.08 571.6,298.4 571.96,298.7 572.32,298.34 572.68,297.76 573.04,297.04 573.4,297.12 573.76,296.46 574.11,296.89 574.47,296.81 574.83,296.68 575.19,297.56 575.55,297.52 575.91,298.03 576.27,298.11 576.63,298.14 576.98,298.45 577.34,298.02 577.7,298.52 578.06,298.12 578.42,297.9 578.78,298.13 579.14,297.98 579.49,298.05 579.85,298.52 580.21,298.27 580.57,298.41 580.93,298.62 581.29,298.71 581.65,299.26 582,299.33 582.36,299.38 582.72,299.51 583.08,299.16 583.44,299.41 583.8,299.03 584.16,299.44 584.52,299.27 584.87,299.1 585.23,298.59 585.59,298.31 585.95,298.69 586.31,298.22 586.67,298.08 587.03,298.14 587.38,297.6 587.74,298.06 588.1,298.03 588.46,298.43 588.82,298.37 589.18,298.33 589.54,298.98 589.9,298.57 590.25,298.91 590.61,298.95 590.97,298.49 591.33,298.73 591.69,298.44 592.05,298.25 592.41,298.21 592.76,298.73 593.12,298.37 593.48,298.55 593.84,298.65 594.2,298.42 594.56,299.03 594.92,299.11 595.28,299.28"/>
<polyline fill="none" stroke="#9b4bd9" stroke-width="2.5" stroke-linejoin="round" points="57.3,253.73 57.66,253.56 58.02,253.76 58.38,253.58 58.73,253.96 59.09,254 59.45,254.12 59.81,253.54 60.17,253.39 60.53,253.86 60.89,253.59 61.25,253.92 61.6,253.51 61.96,253.42 62.32,253.21 62.68,253.79 63.04,253.44 63.4,253.35 63.76,253.31 64.11,253.49 64.47,253.49 64.83,253.19 65.19,252.93 65.55,253.04 65.91,253.32 66.27,252.93 66.62,253.04 66.98,252.91 67.34,252.77 67.7,252.78 68.06,252.48 68.42,252.62 68.78,252.75 69.14,252.12 69.49,252.23 69.85,252.49 70.21,252.45 70.57,251.67 70.93,251.98 71.29,251.86 71.65,251.88 72,251.48 72.36,251.09 72.72,251.05 73.08,251.16 73.44,250.99 73.8,250.42 74.16,250.51 74.52,250.29 74.87,250.04 75.23,249.32 75.59,249.31 75.95,248.91 76.31,248.74 76.67,248.16 77.03,247.58 77.38,247.48 77.74,246.67 78.1,246.41 78.46,245.37 78.82,244.72 79.18,243.94 79.54,242.3 79.89,241.3 80.25,239.05 80.61,237.39 80.97,233.85 81.33,230.62 81.69,225.62 82.05,219.47 82.41,212.09 82.76,202.89 83.12,191.64 83.48,178.23 83.84,163.3 84.2,146.1 84.56,128.04 84.92,108.23 85.27,88.86 85.63,70.51 85.99,55.51 86.35,43.87 86.71,38.65 87.07,39.88 87.43,47.04 87.79,60.09 88.14,76.33 88.5,94.96 88.86,114.41 89.22,133.87 89.58,152.24 89.94,168.22 90.3,182.92 90.65,195.66 91.01,205.83 91.37,214.4 91.73,221.64 92.09,227.13 92.45,231.85 92.81,235.22 93.17,237.42 93.52,239.72 93.88,241.25 94.24,242.3 94.6,243.66 94.96,244.88 95.32,245.2 95.68,246.05 96.03,246.71 96.39,246.75 96.75,247.8 97.11,247.63 97.47,248.13 97.83,248.74 98.19,248.55 98.54,249.07 98.9,249.14 99.26,249.61 99.62,249.49 99.98,249.77 100.34,249.98 100.7,250.04 101.06,250.18 101.41,250.39 101.77,250.73 102.13,250.57 102.49,251.15 102.85,250.95 103.21,250.92 103.57,250.98 103.92,251.47 104.28,250.98 104.64,251.52 105,251.11 105.36,251.75 105.72,251.41 106.08,251.57 106.44,251.78 106.79,251.27 107.15,251.26 107.51,251.71 107.87,251.65 108.23,251.74 108.59,251.43 108.95,251.57 109.3,251.34 109.66,251.5 110.02,251.36 110.38,251.54 110.74,251.31 111.1,251.24 111.46,251.45 111.81,251 112.17,251.44 112.53,251.13 112.89,250.83 113.25,250.62 113.61,250.76 113.97,250.6 114.33,250.59 114.68,250.16 115.04,249.97 115.4,250.07 115.76,249.37 116.12,249.56 116.48,249.13 116.84,248.77 117.19,248.21 117.55,247.06 117.91,246.58 118.27,245.28 118.63,243.44 118.99,241.9 119.35,238.85 119.71,235.29 120.06,230.39 120.42,224.18 120.78,217.65 121.14,208.98 121.5,199.98 121.86,190.76 122.22,181.29 122.57,173.58 122.93,168.31 123.29,165.89 123.65,168.16 124.01,173.11 124.37,181.15 124.73,190.32 125.08,199.69 125.44,208.15 125.8,216.26 126.16,223.66 126.52,228.86 126.88,233.24 127.24,236.42 127.6,238.87 127.95,240.3 128.31,241.02 128.67,241.21 129.03,241.48 129.39,241.62 129.75,241.77 130.11,242.94 130.46,243.78 130.82,244.56 131.18,245.58 131.54,245.98 131.9,246.87 132.26,246.94 132.62,247.65 132.98,247.88 133.33,248.18 133.69,248.17 134.05,248.19 134.41,247.68 134.77,247.88 135.13,247.42 135.49,246.97 135.84,246.6 136.2,246.43 136.56,245.99 136.92,245.58 137.28,245.2 137.64,244.79 138,244.91 138.35,245.45 138.71,245.5 139.07,245.88 139.43,245.95 139.79,246.13 140.15,246.58 140.51,246.21 140.87,246.54 141.22,246.02 141.58,246.16 141.94,245.5 142.3,245.15 142.66,244.86 143.02,244.15 143.38,243.93 143.73,243.28 144.09,242.3 144.45,242.01 144.81,240.57 145.17,238.91 145.53,237.75 145.89,234.81 146.25,231.58 146.6,227.09 146.96,221.42 147.32,214.4 147.68,204.82 148.04,193.01 148.4,178.7 148.76,162.31 149.11,144.46 149.47,124.5 149.83,105.32 150.19,87.18 150.55,72.21 150.91,64.07 151.27,62.21 151.62,69.02 151.98,81.84 152.34,98.88 152.7,118.1 153.06,138.01 153.42,156.4 153.78,173.79 154.14,188.52 154.49,201.17 154.85,211.24 155.21,219.7 155.57,225.85 155.93,230.71 156.29,234.1 156.65,236.64 157,238.7 157.36,239.91 157.72,240.62 158.08,241.04 158.44,241.84 158.8,241.73 159.16,241.83 159.52,242.39 159.87,243.21 160.23,244.06 160.59,244.61 160.95,245.36 161.31,246.24 161.67,246.72 162.03,247 162.38,247.42 162.74,247.97 163.1,247.93 163.46,248.01 163.82,248.56 164.18,248.85 164.54,248.6 164.89,249.03 165.25,249.28 165.61,248.84 165.97,248.93 166.33,249.25 166.69,249.19 167.05,249.67 167.41,249.73 167.76,249.36 168.12,249.61 168.48,249.48 168.84,249.12 169.2,249.61 169.56,248.96 169.92,248.74 170.27,248.76 170.63,248.09 170.99,247.85 171.35,246.95 171.71,246.1 172.07,244.02 172.43,242.1 172.79,239.31 173.14,236.05 173.5,232.58 173.86,229.77 174.22,228.05 174.58,227.7 174.94,229.26 175.3,231.76 175.65,234.8 176.01,238.18 176.37,241.3 176.73,243.08 177.09,244.92 177.45,245.89 177.81,246.66 178.17,246.97 178.52,247.29 178.88,247.48 179.24,247.23 179.6,247.35 179.96,247.35 180.32,247.46 180.68,247.88 181.03,247.97 181.39,248.71 181.75,249.05 182.11,249.66 182.47,249.56 182.83,250.1 183.19,250.14 183.54,250.32 183.9,250.34 184.26,250.17 184.62,250.65 184.98,250.71 185.34,250.58 185.7,250.25 186.06,250.58 186.41,250.76 186.77,250.81 187.13,250.61 187.49,250.07 187.85,250.6 188.21,250.39 188.57,250.04 188.92,250.4 189.28,250.23 189.64,250.16 190,249.55 190.36,249.58 190.72,249.18 191.08,248.77 191.44,248.59 191.79,247.74 192.15,246.45 192.51,245.02 192.87,243.09 193.23,239.93 193.59,236.53 193.95,232.04 194.3,227.79 194.66,222.83 195.02,219.95 195.38,218.81 195.74,220.08 196.1,223.37 196.46,227.35 196.81,231.74 197.17,236.04 197.53,239.54 197.89,242.5 198.25,244.78 198.61,245.61 198.97,246.81 199.33,247.81 199.68,247.56 200.04,248.18 200.4,247.58 200.76,247.77 201.12,247.49 201.48,246.55 201.84,246.01 202.19,245.21 202.55,244.92 202.91,244.38 203.27,244.34 203.63,244.39 203.99,245.07 204.35,245.94 204.71,246.42 205.06,247.06 205.42,246.96 205.78,247.4 206.14,247.43 206.5,247.41 206.86,247.64 207.22,247.05 207.57,247.08 207.93,246.89 208.29,246.55 208.65,245.28 209.01,244.61 209.37,243.59 209.73,242.25 210.08,239.41 210.44,236.72 210.8,232.16 211.16,226.73 211.52,220.03 211.88,211.02 212.24,201.5 212.6,190.78 212.95,179.98 213.31,170.22 213.67,162.92 214.03,159.02 214.39,159.53 214.75,165.29 215.11,173.68 215.46,183.83 215.82,195.2 216.18,205.64 216.54,214.6 216.9,223.12 217.26,229.59 217.62,234.35 217.98,238.14 218.33,241.68 218.69,243.8 219.05,244.85 219.41,246.47 219.77,247.34 220.13,247.9 220.49,248.57 220.84,249.11 221.2,249.02 221.56,249.69 221.92,250.03 222.28,249.85 222.64,250.33 223,250.53 223.35,250.82 223.71,250.78 224.07,250.72 224.43,250.84 224.79,251.16 225.15,250.98 225.51,251.59 225.87,251.69 226.22,251.32 226.58,251.7 226.94,251.73 227.3,251.37 227.66,251.83 228.02,251.77 228.38,251.35 228.73,251.01 229.09,250.82 229.45,250.7 229.81,249.87 230.17,249.34 230.53,247.98 230.89,247.02 231.25,246.37 231.6,246.23 231.96,245.7 232.32,246.11 232.68,247.43 233.04,247.99 233.4,249.42 233.76,249.95 234.11,250.85 234.47,251.77 234.83,252.4 235.19,252.42 235.55,252.7 235.91,252.59 236.27,252.95 236.63,252.99 236.98,253.47 237.34,253.5 237.7,253.62 238.06,253.51 238.42,253.69 238.78,253.35 239.14,253.58 239.49,253.57 239.85,253.62 240.21,253.99 240.57,253.67 240.93,253.79 241.29,253.81 241.65,254.26 242,254.14 242.36,254.07 242.72,254.03 243.08,254.41 243.44,254.42 243.8,254.08 244.16,254.15 244.52,254.36 244.87,253.93 245.23,253.93 245.59,253.81 245.95,254.09 246.31,254.27 246.67,253.83 247.03,254.02 247.38,254.4 247.74,254.04 248.1,253.96 248.46,254.27 248.82,254.3 249.18,253.93 249.54,253.74 249.9,254.09 250.25,254.15 250.61,254.27 250.97,254.07 251.33,253.81 251.69,253.94 252.05,253.77 252.41,253.86 252.76,253.86 253.12,254.15 253.48,254.13 253.84,254.12 254.2,253.79 254.56,254.1 254.92,253.5 255.27,254.02 255.63,253.79 255.99,253.92 256.35,253.56 256.71,253.92 257.07,253.2 257.43,253.72 257.79,253.63 258.14,253.24 258.5,253.46 258.86,252.9 259.22,253.09 259.58,252.64 259.94,252.22 260.3,251.53 260.65,251.17 261.01,250.06 261.37,248.23 261.73,247.16 262.09,244.7 262.45,242.83 262.81,241.1 263.17,240.07 263.52,240.11 263.88,240.97 264.24,242.33 264.6,244.07 264.96,245.84 265.32,247.57 265.68,249.36 266.03,250.55 266.39,251.3 266.75,252.27 267.11,252.28 267.47,252.5 267.83,252.73 268.19,252.68 268.54,253.31 268.9,253.12 269.26,253.14 269.62,253.09 269.98,253 270.34,253.07 270.7,253.21 271.06,253.18 271.41,253.57 271.77,253.28 272.13,253.03 272.49,252.92 272.85,252.99 273.21,253.1 273.57,253.39 273.92,253.45 274.28,252.96 274.64,253.29 275,252.98 275.36,252.95 275.72,252.8 276.08,252.26 276.44,252.02 276.79,252.13 277.15,251.8 277.51,251.22 277.87,251.27 278.23,250.98 278.59,250.58 278.95,250.55 279.3,251.15 279.66,251.55 280.02,251.58 280.38,251.75 280.74,252.3 281.1,252.17 281.46,252.79 281.81,252.79 282.17,252.6 282.53,252.73 282.89,252.58 283.25,252.53 283.61,252.47 283.97,252.85 284.33,252.52 284.68,252.63 285.04,252.28 285.4,252.49 285.76,252.23 286.12,252.13 286.48,251.79 286.84,251.71 287.19,251.19 287.55,251.38 287.91,250.67 288.27,249.85 288.63,248.89 288.99,247.06 289.35,245.28 289.71,242.74 290.06,240.21 290.42,236.37 290.78,233.45 291.14,231.1 291.5,229.62 291.86,229.82 292.22,231.34 292.57,234.11 292.93,237.64 293.29,240.46 293.65,243.48 294.01,245.42 294.37,247.4 294.73,248.48 295.08,249.48 295.44,250.15 295.8,250.08 296.16,250.73 296.52,250.19 296.88,250.89 297.24,250.35 297.6,250.75 297.95,250.65 298.31,250.91 298.67,250.58 299.03,250.47 299.39,250.83 299.75,250.6 300.11,250.65 300.46,250.34 300.82,249.85 301.18,250.12 301.54,249.37 301.9,249.03 302.26,247.99 302.62,247.23 302.98,246.35 303.33,245.06 303.69,243.52 304.05,242.02 304.41,241.19 304.77,240.74 305.13,240.74 305.49,241.91 305.84,243.23 306.2,244.69 306.56,245.58 306.92,246.74 307.28,247.6 307.64,248.05 308,248.65 308.36,249.18 308.71,249.23 309.07,249.03 309.43,249.44 309.79,248.99 310.15,249.4 310.51,248.91 310.87,248.81 311.22,248.88 311.58,249 311.94,248.73 312.3,249.03 312.66,248.86 313.02,248.11 313.38,247.98 313.73,247.25 314.09,246.12 314.45,244.38 314.81,242.73 315.17,239.88 315.53,235.63 315.89,231.66 316.25,227.16 316.6,222.85 316.96,219.9 317.32,219.08 317.68,219.68 318.04,223.44 318.4,227.36 318.76,231.71 319.11,236.59 319.47,239.81 319.83,242.69 320.19,244.84 320.55,246.61 320.91,247.54 321.27,248.35 321.63,248.93 321.98,249.53 322.34,249.72 322.7,249.84 323.06,250.17 323.42,250.49 323.78,250.58 324.14,250.43 324.49,250.93 324.85,250.93 325.21,250.85 325.57,250.86 325.93,250.81 326.29,250.73 326.65,251.34 327,251.21 327.36,250.91 327.72,251.51 328.08,251.48 328.44,250.83 328.8,251.19 329.16,250.7 329.52,250.67 329.87,250.59 330.23,249.94 330.59,249.74 330.95,249.62 331.31,249.18 331.67,249.5 332.03,249.48 332.38,250.07 332.74,249.81 333.1,250.54 333.46,250.49 333.82,251.09 334.18,251.4 334.54,251.79 334.9,252.39 335.25,252.41 335.61,253.08 335.97,252.78 336.33,253.31 336.69,253.61 337.05,253.21 337.41,253.13 337.76,253.37 338.12,253.01 338.48,253.18 338.84,252.61 339.2,252.49 339.56,252.72 339.92,252.12 340.27,252.39 340.63,252.17 340.99,251.52 341.35,251.59 341.71,251.69 342.07,250.94 342.43,251.27 342.79,251.04 343.14,250.84 343.5,250.55 343.86,250.02 344.22,250.43 344.58,249.64 344.94,249.92 345.3,249.68 345.65,249.19 346.01,249.23 346.37,248.82 346.73,248.83 347.09,248.1 347.45,248.47 347.81,247.81 348.17,247.98 348.52,247.58 348.88,247.57 349.24,246.84 349.6,246.45 349.96,245.27 350.32,244.43 350.68,242.57 351.03,241.09 351.39,238.53 351.75,235.65 352.11,233.34 352.47,231.08 352.83,229.83 353.19,229.3 353.54,231.1 353.9,233.3 354.26,235.73 354.62,237.78 354.98,240.62 355.34,242.14 355.7,243.74 356.06,245.01 356.41,245.43 356.77,245.79 357.13,246.76 357.49,246.52 357.85,246.48 358.21,246.62 358.57,247.29 358.92,247.19 359.28,246.92 359.64,246.99 360,247.62 360.36,247.51 360.72,247.44 361.08,246.99 361.44,246.88 361.79,246.73 362.15,245.28 362.51,244.49 362.87,242.87 363.23,241.95 363.59,239.68 363.95,238.82 364.3,237.81 364.66,237.61 365.02,237.87 365.38,239.71 365.74,241.24 366.1,242.92 366.46,244.2 366.81,245.71 367.17,246.89 367.53,247.12 367.89,248.12 368.25,248.09 368.61,248.16 368.97,248.22 369.33,248.39 369.68,248.49 370.04,248.38 370.4,248.53 370.76,248.18 371.12,248.07 371.48,248.26 371.84,247.51 372.19,247.08 372.55,246.86 372.91,246.21 373.27,245.22 373.63,244.35 373.99,242.83 374.35,242.15 374.71,240.69 375.06,240.24 375.42,240.06 375.78,240.74 376.14,241.95 376.5,243.05 376.86,244.78 377.22,245.7 377.57,247.02 377.93,247.88 378.29,248.62 378.65,248.63 379.01,249.03 379.37,249.54 379.73,249.62 380.09,249.78 380.44,249.16 380.8,249.16 381.16,248.96 381.52,249.21 381.88,248.95 382.24,248.51 382.6,248.1 382.95,247.26 383.31,246.45 383.67,245.67 384.03,244.27 384.39,242.93 384.75,241.47 385.11,240.04 385.46,239.1 385.82,238.37 386.18,238.21 386.54,239.34 386.9,240.82 387.26,242.54 387.62,244.32 387.98,245.68 388.33,246.93 388.69,247.89 389.05,248.52 389.41,249.39 389.77,249.03 390.13,249.11 390.49,249.65 390.84,249.41 391.2,249.41 391.56,249.48 391.92,249.31 392.28,249.22 392.64,249.1 393,249.78 393.36,249.94 393.71,249.61 394.07,249.86 394.43,249.87 394.79,249.77 395.15,250.4 395.51,250.37 395.87,249.93 396.22,249.89 396.58,250.13 396.94,250.13 397.3,249.85 397.66,249.78 398.02,249.7 398.38,250.16 398.73,250.3 399.09,250.38 399.45,249.91 399.81,250.27 400.17,250.54 400.53,250.33 400.89,250.12 401.25,249.86 401.6,249.74 401.96,250.14 402.32,249.6 402.68,250.04 403.04,249.85 403.4,249.62 403.76,249.81 404.11,249.73 404.47,249.38 404.83,248.88 405.19,249.06 405.55,248.76 405.91,248.44 406.27,248.69 406.63,248.39 406.98,247.82 407.34,247.73 407.7,247.64 408.06,247.62 408.42,247.28 408.78,247.21 409.14,247.36 409.49,246.85 409.85,247.21 410.21,246.95 410.57,247.44 410.93,247.55 411.29,247.28 411.65,247.68 412,247.55 412.36,247.97 412.72,248.25 413.08,248.28 413.44,247.92 413.8,247.33 414.16,246.77 414.52,246.16 414.87,244.71 415.23,243.42 415.59,242.19 415.95,241.11 416.31,240.03 416.67,239.79 417.03,240.76 417.38,241.86 417.74,243.8 418.1,244.97 418.46,246.5 418.82,247.85 419.18,249.15 419.54,249.36 419.9,249.92 420.25,250.26 420.61,250.59 420.97,250.88 421.33,251.08 421.69,251.46 422.05,251.31 422.41,251.43 422.76,251.44 423.12,251.74 423.48,251.81 423.84,251.44 424.2,251.73 424.56,251.19 424.92,251.61 425.27,251.21 425.63,251.25 425.99,251.01 426.35,250.95 426.71,250.91 427.07,251.5 427.43,251.2 427.79,251.48 428.14,251.3 428.5,251.29 428.86,250.97 429.22,250.83 429.58,250.84 429.94,251.04 430.3,250.99 430.65,250.73 431.01,251.38 431.37,251.33 431.73,251.16 432.09,251.3 432.45,251.16 432.81,251.36 433.17,250.8 433.52,250.1 433.88,249.34 434.24,248.49 434.6,247.46 434.96,246.39 435.32,245.58 435.68,244.61 436.03,243.97 436.39,244.12 436.75,244.62 437.11,245.35 437.47,246.62 437.83,248.02 438.19,249.27 438.54,250.44 438.9,251.42 439.26,251.82 439.62,252.11 439.98,252.24 440.34,252.92 440.7,252.84 441.06,252.56 441.41,252.28 441.77,252.77 442.13,252 442.49,252.02 442.85,251.01 443.21,250.78 443.57,249.91 443.92,249.67 444.28,248.81 444.64,248.53 445,248.82 445.36,249.78 445.72,250.61 446.08,251.12 446.44,251.84 446.79,252.16 447.15,252.64 447.51,252.89 447.87,253.79 448.23,253.33 448.59,253.87 448.95,253.8 449.3,253.76 449.66,253.99 450.02,254.37 450.38,253.92 450.74,253.88 451.1,254.21 451.46,254.23 451.82,254.12 452.17,253.86 452.53,254.31 452.89,253.72 453.25,253.7 453.61,253.66 453.97,253.75 454.33,253.62 454.68,253.56 455.04,253.56 455.4,253.58 455.76,253.2 456.12,252.86 456.48,253.42 456.84,252.9 457.19,253.2 457.55,253.2 457.91,253.65 458.27,253.92 458.63,253.6 458.99,253.84 459.35,254.35 459.71,254.33 460.06,254 460.42,254.46 460.78,254.58 461.14,254.32 461.5,254.13 461.86,254.44 462.22,254.12 462.57,253.87 462.93,253.71 463.29,253.65 463.65,253.19 464.01,253.1 464.37,252.97 464.73,252.81 465.09,252.68 465.44,253.06 465.8,252.77 466.16,253.19 466.52,253.86 466.88,254.02 467.24,254.21 467.6,254.2 467.95,254.09 468.31,254.27 468.67,254.09 469.03,253.73 469.39,253.77 469.75,253.6 470.11,254.09 470.46,253.65 470.82,253.67 471.18,253.73 471.54,253.38 471.9,253.75 472.26,253.76 472.62,253.7 472.98,253.71 473.33,253.29 473.69,253.17 474.05,253.63 474.41,253.63 474.77,253.44 475.13,253.44 475.49,253.27 475.84,253.67 476.2,253.31 476.56,253.46 476.92,253.1 477.28,253.16 477.64,253.47 478,253.86 478.36,254.2 478.71,254.05 479.07,254.44 479.43,254.33 479.79,254.65 480.15,254.5 480.51,254.21 480.87,253.86 481.22,253.55 481.58,253.71 481.94,253.42 482.3,252.89 482.66,252.62 483.02,252.64 483.38,253.17 483.73,252.56 484.09,253.19 484.45,253.12 484.81,253.33 485.17,253.55 485.53,253.72 485.89,254.08 486.25,253.98 486.6,254.77 486.96,254.37 487.32,254.53 487.68,255.01 488.04,255.06 488.4,255.23 488.76,255.18 489.11,255.36 489.47,254.75 489.83,254.72 490.19,254.86 490.55,255.23 490.91,254.76 491.27,255 491.63,255.13 491.98,254.66 492.34,254.86 492.7,255.06 493.06,254.88 493.42,254.54 493.78,254.48 494.14,254.19 494.49,254.49 494.85,254.13 495.21,253.77 495.57,253.12 495.93,252.93 496.29,252.16 496.65,251.66 497,250.55 497.36,250.06 497.72,249.11 498.08,248.3 498.44,248.03 498.8,248.22 499.16,248.37 499.52,249.21 499.87,249.16 500.23,250.37 500.59,250.77 500.95,251.06 501.31,251.72 501.67,251.62 502.03,252.16 502.38,252.82 502.74,253.27 503.1,253.27 503.46,253.96 503.82,253.91 504.18,253.63 504.54,253.77 504.9,253.79 505.25,254.14 505.61,253.94 505.97,253.83 506.33,253.86 506.69,253.43 507.05,253.79 507.41,253.45 507.76,252.89 508.12,252.39 508.48,251.85 508.84,251.63 509.2,251.1 509.56,251.32 509.92,251.24 510.27,251.14 510.63,251.39 510.99,251.12 511.35,251.43 511.71,251.85 512.07,251.89 512.43,252.19 512.79,252.54 513.14,252.25 513.5,252.03 513.86,251.09 514.22,250.62 514.58,250.05 514.94,249.94 515.3,249.77 515.65,250.36 516.01,250.66 516.37,251.47 516.73,251.95 517.09,252.48 517.45,252.69 517.81,253.31 518.17,253.51 518.52,253.69 518.88,253.62 519.24,253.67 519.6,253.58 519.96,253.42 520.32,253.7 520.68,253.78 521.03,253.44 521.39,253.85 521.75,253.77 522.11,253.64 522.47,253.46 522.83,253.06 523.19,252.65 523.55,252.51 523.9,252.63 524.26,252.62 524.62,251.87 524.98,251.72 525.34,251.93 525.7,251.93 526.06,252.1 526.41,251.72 526.77,252.15 527.13,251.66 527.49,251.91 527.85,251.38 528.21,251.32 528.57,251.3 528.92,252.05 529.28,252.05 529.64,252.51 530,252.25 530.36,252.82 530.72,253.14 531.08,253.45 531.44,253.51 531.79,252.98 532.15,253.2 532.51,253.64 532.87,253.3 533.23,253.57 533.59,253.04 533.95,252.82 534.3,253.39 534.66,252.82 535.02,252.92 535.38,252.66 535.74,252.67 536.1,252.76 536.46,252.6 536.82,252.36 537.17,251.73 537.53,251.92 537.89,251.16 538.25,251.24 538.61,251.44 538.97,250.81 539.33,250.83 539.68,251.02 540.04,250.94 540.4,251.53 540.76,251.78 541.12,251.68 541.48,252.5 541.84,252.11 542.19,252.69 542.55,252.53 542.91,252.42 543.27,252.36 543.63,252.96 543.99,252.75 544.35,252.41 544.71,252.52 545.06,252.52 545.42,252.38 545.78,252.02 546.14,251.8 546.5,251.96 546.86,252.29 547.22,252.12 547.57,252.06 547.93,252.13 548.29,251.73 548.65,251.7 549.01,251.72 549.37,251.05 549.73,251.26 550.09,250.41 550.44,250.5 550.8,250.25 551.16,249.68 551.52,249.96 551.88,249.37 552.24,248.95 552.6,248.93 552.95,248.97 553.31,248.84 553.67,248.56 554.03,248.59 554.39,248.91 554.75,248.29 555.11,248.14 555.46,248.36 555.82,248.42 556.18,248.71 556.54,248.69 556.9,249.17 557.26,250.3 557.62,250.75 557.98,251.05 558.33,251.19 558.69,251.75 559.05,251.82 559.41,252.2 559.77,252.56 560.13,252.08 560.49,252.03 560.84,252.49 561.2,252.09 561.56,252.18 561.92,252.34 562.28,252.72 562.64,252.26 563,252.25 563.36,252.36 563.71,252.13 564.07,252.29 564.43,252.49 564.79,252.22 565.15,252.53 565.51,252.09 565.87,252.01 566.22,252.35 566.58,252.2 566.94,252.49 567.3,251.87 567.66,252.25 568.02,252.1 568.38,251.75 568.73,251.39 569.09,251.47 569.45,251.25 569.81,250.66 570.17,250.23 570.53,249.95 570.89,249.55 571.25,249.23 571.6,249.09 571.96,249.51 572.32,249.94 572.68,250.59 573.04,251.06 573.4,251.1 573.76,251.23 574.11,251.37 574.47,251.81 574.83,251.98 575.19,251.71 575.55,252.06 575.91,252.3 576.27,251.89 576.63,252.28 576.98,251.93 577.34,252.08 577.7,252.23 578.06,251.77 578.42,251.86 578.78,252.3 579.14,251.65 579.49,251.82 579.85,251.93 580.21,252.11 580.57,252.02 580.93,252.22 581.29,252.03 581.65,251.55 582,251.59 582.36,251.56 582.72,251.82 583.08,251.53 583.44,251.87 583.8,251.93 584.16,251.62 584.52,252.07 584.87,251.75 585.23,252.12 585.59,251.69 585.95,251.86 586.31,251.79 586.67,251.59 587.03,251.94 587.38,251.38 587.74,251.54 588.1,251.58 588.46,251.96 588.82,251.68 589.18,251.35 589.54,251.52 589.9,251.72 590.25,251.85 590.61,251.35 590.97,251.81 591.33,251.52 591.69,251.6 592.05,251.52 592.41,251.52 592.76,251.89 593.12,251.83 593.48,251.82 593.84,251.68 594.2,251.64 594.56,251.24 594.92,251.15 595.28,251.7"/>
<rect x="57.3" y="7.6" width="538.2" height="434" fill="none" stroke="#000" stroke-width="2"/>
<line x1="316.6" y1="46.6" x2="378.5" y2="46.6" stroke="#9b4bd9" stroke-width="2.4" />
<text x="391.7" y="56.9" font-size="30" font-family="Liberation Serif" font-weight="bold" text-anchor="start" >ZIF-8</text>
<line x1="316.6" y1="83.6" x2="378.5" y2="83.6" stroke="#10914a" stroke-width="2.4" />
<text x="391.7" y="93.9" font-size="30" font-family="Liberation Serif" font-weight="bold" text-anchor="start" >CS/ZIF-8-60%</text>
<line x1="316.6" y1="120.6" x2="378.5" y2="120.6" stroke="#0b47e0" stroke-width="2.4" />
<text x="391.7" y="130.9" font-size="30" font-family="Liberation Serif" font-weight="bold" text-anchor="start" >CS/ZIF-8-51%</text>
<line x1="316.6" y1="157.6" x2="378.5" y2="157.6" stroke="#f2131d" stroke-width="2.4" />
<text x="391.7" y="167.9" font-size="30" font-family="Liberation Serif" font-weight="bold" text-anchor="start" >CS/ZIF-8-36%</text>
<line x1="316.6" y1="194.6" x2="378.5" y2="194.6" stroke="#333333" stroke-width="2.4" />
<text x="391.7" y="204.9" font-size="30" font-family="Liberation Serif" font-weight="bold" text-anchor="start" >CS</text>
<text x="337.7" y="518" font-size="38" font-family="Liberation Serif" font-weight="bold" text-anchor="middle" >2Theta (&#952;)</text>
<text transform="translate(33,228) rotate(-90)" font-size="38" font-family="Liberation Serif" font-weight="bold" text-anchor="middle" >Intensity (a.u.)</text>
<text x="5.2" y="28.9" font-size="33" font-family="Liberation Sans" font-weight="bold" text-anchor="start" >A</text>
</g>
<g id="B">
<line x1="755.42" y1="445.4" x2="755.42" y2="449.7" stroke="#000" stroke-width="2" />
<line x1="801.8" y1="445.4" x2="801.8" y2="453.9" stroke="#000" stroke-width="2" />
<line x1="848.17" y1="445.4" x2="848.17" y2="449.7" stroke="#000" stroke-width="2" />
<line x1="894.55" y1="445.4" x2="894.55" y2="453.9" stroke="#000" stroke-width="2" />
<line x1="940.92" y1="445.4" x2="940.92" y2="449.7" stroke="#000" stroke-width="2" />
<line x1="987.3" y1="445.4" x2="987.3" y2="453.9" stroke="#000" stroke-width="2" />
<line x1="1033.67" y1="445.4" x2="1033.67" y2="449.7" stroke="#000" stroke-width="2" />
<line x1="1080.05" y1="445.4" x2="1080.05" y2="453.9" stroke="#000" stroke-width="2" />
<line x1="1126.42" y1="445.4" x2="1126.42" y2="449.7" stroke="#000" stroke-width="2" />
<line x1="1172.8" y1="445.4" x2="1172.8" y2="453.9" stroke="#000" stroke-width="2" />
<line x1="1219.17" y1="445.4" x2="1219.17" y2="449.7" stroke="#000" stroke-width="2" />
<line x1="1265.55" y1="445.4" x2="1265.55" y2="453.9" stroke="#000" stroke-width="2" />
<text x="801.8" y="485.3" font-size="33" font-family="Liberation Serif" font-weight="bold" text-anchor="middle" >100</text>
<text x="894.55" y="485.3" font-size="33" font-family="Liberation Serif" font-weight="bold" text-anchor="middle" >200</text>
<text x="987.3" y="485.3" font-size="33" font-family="Liberation Serif" font-weight="bold" text-anchor="middle" >300</text>
<text x="1080.05" y="485.3" font-size="33" font-family="Liberation Serif" font-weight="bold" text-anchor="middle" >400</text>
<text x="1172.8" y="485.3" font-size="33" font-family="Liberation Serif" font-weight="bold" text-anchor="middle" >500</text>
<text x="1265.55" y="485.3" font-size="33" font-family="Liberation Serif" font-weight="bold" text-anchor="middle" >600</text>
<line x1="719.1" y1="445.3" x2="727.6" y2="445.3" stroke="#000" stroke-width="2" />
<line x1="723.3" y1="405.85" x2="727.6" y2="405.85" stroke="#000" stroke-width="2" />
<line x1="719.1" y1="366.4" x2="727.6" y2="366.4" stroke="#000" stroke-width="2" />
<line x1="723.3" y1="326.95" x2="727.6" y2="326.95" stroke="#000" stroke-width="2" />
<line x1="719.1" y1="287.5" x2="727.6" y2="287.5" stroke="#000" stroke-width="2" />
<line x1="723.3" y1="248.05" x2="727.6" y2="248.05" stroke="#000" stroke-width="2" />
<line x1="719.1" y1="208.6" x2="727.6" y2="208.6" stroke="#000" stroke-width="2" />
<line x1="723.3" y1="169.15" x2="727.6" y2="169.15" stroke="#000" stroke-width="2" />
<line x1="719.1" y1="129.7" x2="727.6" y2="129.7" stroke="#000" stroke-width="2" />
<line x1="723.3" y1="90.25" x2="727.6" y2="90.25" stroke="#000" stroke-width="2" />
<line x1="719.1" y1="50.8" x2="727.6" y2="50.8" stroke="#000" stroke-width="2" />
<text x="713.7" y="455.5" font-size="33" font-family="Liberation Serif" font-weight="bold" text-anchor="end" >0</text>
<text x="713.7" y="376.6" font-size="33" font-family="Liberation Serif" font-weight="bold" text-anchor="end" >20</text>
<text x="713.7" y="297.7" font-size="33" font-family="Liberation Serif" font-weight="bold" text-anchor="end" >40</text>
<text x="713.7" y="218.8" font-size="33" font-family="Liberation Serif" font-weight="bold" text-anchor="end" >60</text>
<text x="713.7" y="139.9" font-size="33" font-family="Liberation Serif" font-weight="bold" text-anchor="end" >80</text>
<text x="713.7" y="61" font-size="33" font-family="Liberation Serif" font-weight="bold" text-anchor="end" >100</text>
<polyline fill="none" stroke="#2a2a2a" stroke-width="2.7" stroke-linejoin="round" points="727.6,51.2 728.77,51.66 730.37,52.19 732.28,52.88 734.35,53.8 736.47,55.04 738.5,56.7 740.48,58.83 742.53,61.38 744.61,64.26 746.72,67.36 748.82,70.61 750.9,73.9 752.96,77.37 755.01,81.11 757.06,85 759.1,88.89 761.15,92.63 763.2,96.1 765.25,99.31 767.3,102.39 769.35,105.32 771.4,108.11 773.45,110.77 775.5,113.3 777.55,115.7 779.6,117.99 781.65,120.14 783.7,122.13 785.75,123.96 787.8,125.6 789.71,127.02 791.44,128.21 793.17,129.24 795.08,130.14 797.33,130.98 800.1,131.8 803.5,132.59 807.42,133.31 811.68,133.96 816.11,134.54 820.55,135.06 824.8,135.5 828.91,135.84 833.01,136.06 837.11,136.22 841.2,136.35 845.3,136.49 849.4,136.7 853.56,136.92 857.78,137.11 862,137.32 866.16,137.6 870.18,137.97 874,138.5 877.61,139.09 881.05,139.7 884.36,140.41 887.57,141.32 890.71,142.52 893.8,144.1 896.87,146.09 899.91,148.43 902.87,151.06 905.73,153.92 908.45,156.95 911,160.1 913.33,163.38 915.46,166.86 917.46,170.51 919.38,174.31 921.31,178.24 923.3,182.3 925.35,186.56 927.4,191.06 929.44,195.7 931.49,200.37 933.54,204.97 935.6,209.4 937.67,213.73 939.74,218.07 941.82,222.33 943.89,226.46 945.96,230.37 948,234 950.02,237.28 952.03,240.27 954.02,243.04 956.01,245.69 958,248.31 960,251 962,253.77 964,256.54 966,259.28 968,261.96 970,264.55 972,267 973.91,269.21 975.71,271.19 977.52,273.06 979.43,274.98 981.55,277.08 984,279.5 986.75,282.32 989.73,285.46 992.92,288.78 996.31,292.14 999.91,295.43 1003.7,298.5 1007.77,301.37 1012.13,304.13 1016.7,306.81 1021.37,309.44 1026.03,312.03 1030.6,314.6 1035.08,317.14 1039.57,319.63 1044.06,322.08 1048.54,324.51 1053.02,326.95 1057.5,329.4 1061.97,331.87 1066.44,334.33 1070.9,336.8 1075.36,339.27 1079.83,341.73 1084.3,344.2 1088.78,346.54 1093.26,348.74 1097.74,350.93 1102.23,353.27 1106.72,355.91 1111.2,359 1115.68,362.65 1120.17,366.76 1124.66,371.16 1129.14,375.7 1133.62,380.2 1138.1,384.5 1142.57,388.7 1147.04,392.96 1151.5,397.19 1155.96,401.28 1160.43,405.15 1164.9,408.7 1169.48,412 1174.18,415.13 1178.89,418.03 1183.47,420.65 1187.82,422.93 1191.8,424.8 1195.32,426.17 1198.44,427.08 1201.33,427.64 1204.12,427.98 1206.96,428.22 1210,428.5 1213.05,428.75 1215.95,428.86 1218.91,428.88 1222.1,428.85 1225.74,428.81 1230,428.8 1235.45,428.82 1242.06,428.82 1249.1,428.82 1255.86,428.81 1261.63,428.8 1265.7,428.8"/>
<polyline fill="none" stroke="#f2131d" stroke-width="2.7" stroke-linejoin="round" points="727.6,51.2 729.37,51.53 731.86,51.9 734.78,52.38 737.88,53.06 740.87,54.04 743.5,55.4 745.76,57.28 747.87,59.64 749.87,62.29 751.83,65.06 753.79,67.76 755.8,70.2 757.82,72.42 759.81,74.57 761.79,76.66 763.81,78.67 765.91,80.62 768.1,82.5 770.39,84.33 772.76,86.12 775.19,87.84 777.7,89.47 780.27,91 782.9,92.4 785.63,93.64 788.45,94.71 791.34,95.68 794.27,96.6 797.2,97.52 800.1,98.5 803.04,99.5 806.04,100.47 809.06,101.44 812,102.45 814.8,103.53 817.4,104.7 819.77,105.95 821.96,107.25 824.01,108.62 825.96,110.07 827.85,111.62 829.7,113.3 831.49,115.09 833.18,116.99 834.81,118.98 836.4,121.08 837.98,123.29 839.6,125.6 841.21,128.06 842.78,130.69 844.35,133.42 845.95,136.2 847.62,138.98 849.4,141.7 851.31,144.43 853.31,147.22 855.39,150.01 857.51,152.73 859.62,155.32 861.7,157.7 863.75,159.89 865.8,161.95 867.84,163.87 869.89,165.65 871.94,167.3 874,168.8 876.06,170.09 878.13,171.16 880.2,172.08 882.27,172.96 884.34,173.87 886.4,174.9 888.46,176 890.51,177.09 892.56,178.21 894.6,179.42 896.65,180.77 898.7,182.3 900.75,184.01 902.8,185.85 904.85,187.83 906.9,189.95 908.95,192.2 911,194.6 913.05,197.2 915.1,200 917.15,202.95 919.2,205.96 921.25,208.97 923.3,211.9 925.35,214.81 927.4,217.79 929.44,220.75 931.49,223.65 933.54,226.42 935.6,229 937.67,231.37 939.74,233.58 941.82,235.66 943.89,237.65 945.96,239.59 948,241.5 949.97,243.28 951.85,244.89 953.72,246.44 955.65,248.06 957.72,249.87 960,252 962.42,254.5 964.9,257.29 967.52,260.26 970.35,263.35 973.45,266.46 976.9,269.5 980.79,272.58 985.1,275.77 989.68,278.99 994.39,282.13 999.11,285.1 1003.7,287.8 1008.18,290.19 1012.66,292.34 1017.14,294.32 1021.63,296.2 1026.12,298.04 1030.6,299.9 1035.15,301.76 1039.77,303.57 1044.39,305.34 1048.93,307.09 1053.33,308.83 1057.5,310.6 1061.43,312.29 1065.17,313.86 1068.76,315.44 1072.23,317.13 1075.64,319.04 1079,321.3 1082.29,323.98 1085.47,327 1088.57,330.24 1091.63,333.6 1094.7,336.96 1097.8,340.2 1100.9,343.31 1103.97,346.37 1107.03,349.44 1110.13,352.54 1113.31,355.71 1116.6,359 1120.03,362.55 1123.57,366.37 1127.18,370.26 1130.83,374.03 1134.49,377.51 1138.1,380.5 1141.7,383.01 1145.31,385.2 1148.92,387.09 1152.51,388.71 1156.08,390.07 1159.6,391.2 1162.31,392.02 1164.06,392.48 1165.79,392.69 1168.4,392.74 1172.83,392.75 1180,392.8 1191.5,392.86 1206.9,392.83 1224.12,392.75 1241.06,392.65 1255.62,392.55 1265.7,392.5"/>
<polyline fill="none" stroke="#0b47e0" stroke-width="2.7" stroke-linejoin="round" points="727.6,51.2 728.77,51.16 730.37,51.02 732.28,50.9 734.35,50.89 736.47,51.09 738.5,51.6 740.48,52.49 742.53,53.68 744.61,55.09 746.72,56.61 748.82,58.14 750.9,59.6 752.96,61.03 755.01,62.51 757.06,64.01 759.1,65.48 761.15,66.89 763.2,68.2 765.25,69.4 767.3,70.53 769.35,71.59 771.4,72.6 773.45,73.56 775.5,74.5 777.41,75.41 779.14,76.27 780.87,77.09 782.78,77.87 785.03,78.61 787.8,79.3 791.2,79.91 795.12,80.42 799.39,80.89 803.82,81.36 808.25,81.88 812.5,82.5 816.68,83.2 820.95,83.94 825.21,84.74 829.37,85.59 833.34,86.51 837,87.5 840.36,88.57 843.48,89.7 846.41,90.9 849.16,92.17 851.78,93.5 854.3,94.9 856.65,96.35 858.8,97.85 860.81,99.41 862.76,101.06 864.7,102.82 866.7,104.7 868.76,106.76 870.81,109 872.86,111.34 874.9,113.72 876.95,116.06 879,118.3 881.02,120.47 883.01,122.63 885,124.76 887.02,126.82 889.11,128.78 891.3,130.6 893.58,132.2 895.93,133.6 898.34,134.9 900.82,136.2 903.37,137.6 906,139.2 908.79,141.04 911.76,143.03 914.8,145.12 917.81,147.26 920.68,149.41 923.3,151.5 925.64,153.56 927.77,155.62 929.76,157.69 931.68,159.74 933.6,161.78 935.6,163.8 937.67,165.8 939.74,167.79 941.82,169.76 943.89,171.71 945.96,173.63 948,175.5 949.97,177.26 951.85,178.9 953.72,180.51 955.65,182.17 957.72,183.97 960,186 962.42,188.24 964.9,190.61 967.52,193.12 970.35,195.78 973.45,198.57 976.9,201.5 980.79,204.69 985.1,208.17 989.68,211.78 994.39,215.39 999.11,218.84 1003.7,222 1008.18,224.84 1012.66,227.48 1017.14,229.97 1021.63,232.35 1026.12,234.68 1030.6,237 1035.08,239.26 1039.57,241.41 1044.06,243.5 1048.54,245.59 1053.02,247.74 1057.5,250 1062.1,252.42 1066.85,254.96 1071.6,257.56 1076.19,260.15 1080.48,262.65 1084.3,265 1087.62,267.22 1090.57,269.37 1093.2,271.44 1095.6,273.41 1097.84,275.27 1100,277 1102.03,278.56 1103.87,279.96 1105.56,281.25 1107.11,282.48 1108.58,283.71 1110,285 1111.38,286.29 1112.7,287.52 1113.92,288.75 1115.04,290.04 1116,291.44 1116.8,293 1117.37,294.62 1117.74,296.22 1117.96,297.94 1118.1,299.89 1118.23,302.2 1118.4,305 1118.6,308.52 1118.78,312.7 1118.94,317.25 1119.1,321.85 1119.25,326.2 1119.4,330 1119.53,333.25 1119.63,336.21 1119.73,338.92 1119.85,341.42 1120.03,343.77 1120.3,346 1120.64,348.11 1121.01,350.04 1121.44,351.83 1121.95,353.46 1122.56,354.94 1123.3,356.3 1124.19,357.47 1125.21,358.45 1126.33,359.28 1127.53,360.03 1128.76,360.75 1130,361.5 1131.22,362.26 1132.46,362.99 1133.73,363.69 1135.07,364.37 1136.51,365.03 1138.1,365.7 1139.83,366.37 1141.67,367.05 1143.62,367.71 1145.67,368.35 1147.8,368.95 1150,369.5 1152.19,370 1154.37,370.46 1156.63,370.88 1159.07,371.26 1161.79,371.6 1164.9,371.9 1167.91,372.14 1170.64,372.34 1173.65,372.49 1177.51,372.61 1182.77,372.71 1190,372.8 1200.56,372.88 1214.29,372.93 1229.42,372.96 1244.2,372.97 1256.88,372.99 1265.7,373"/>
<polyline fill="none" stroke="#10914a" stroke-width="2.7" stroke-linejoin="round" points="727.6,51.2 728.77,51.16 730.37,51.04 732.28,50.93 734.35,50.93 736.47,51.12 738.5,51.6 740.48,52.42 742.53,53.5 744.61,54.79 746.72,56.2 748.82,57.66 750.9,59.1 752.96,60.6 755.01,62.24 757.06,63.93 759.1,65.59 761.15,67.14 763.2,68.5 765.25,69.65 767.3,70.67 769.35,71.58 771.4,72.4 773.45,73.16 775.5,73.9 777.41,74.59 779.14,75.2 780.87,75.75 782.78,76.27 785.03,76.78 787.8,77.3 791.2,77.79 795.12,78.22 799.39,78.64 803.82,79.1 808.25,79.64 812.5,80.3 816.68,81.07 820.95,81.9 825.21,82.82 829.37,83.83 833.34,84.95 837,86.2 840.36,87.57 843.48,89.04 846.41,90.62 849.16,92.32 851.78,94.14 854.3,96.1 856.65,98.24 858.8,100.57 860.81,103.02 862.76,105.54 864.7,108.05 866.7,110.5 868.76,112.97 870.81,115.52 872.86,118.07 874.9,120.53 876.95,122.8 879,124.8 881.02,126.49 883.01,127.94 885,129.2 887.02,130.34 889.11,131.42 891.3,132.5 893.58,133.49 895.93,134.34 898.34,135.12 900.82,135.93 903.37,136.86 906,138 908.79,139.37 911.76,140.9 914.8,142.55 917.81,144.28 920.68,146.04 923.3,147.8 925.64,149.57 927.77,151.4 929.76,153.27 931.68,155.15 933.6,157.03 935.6,158.9 937.67,160.76 939.74,162.64 941.82,164.52 943.89,166.38 945.96,168.21 948,170 949.97,171.69 951.85,173.29 953.72,174.86 955.65,176.46 957.72,178.15 960,180 962.42,181.98 964.9,184.04 967.52,186.19 970.35,188.46 973.45,190.86 976.9,193.4 980.79,196.22 985.1,199.33 989.68,202.57 994.39,205.78 999.11,208.81 1003.7,211.5 1008.33,213.87 1013.16,216.04 1017.99,218.04 1022.63,219.86 1026.9,221.51 1030.6,223 1033.61,224.27 1036.06,225.3 1038.14,226.16 1040.03,226.93 1041.92,227.68 1044,228.5 1046.25,229.34 1048.5,230.13 1050.75,230.91 1053,231.7 1055.25,232.56 1057.5,233.5 1059.74,234.56 1061.97,235.7 1064.21,236.91 1066.44,238.13 1068.67,239.34 1070.9,240.5 1073.13,241.58 1075.36,242.59 1077.59,243.59 1079.83,244.63 1082.06,245.75 1084.3,247 1086.56,248.41 1088.84,249.94 1091.12,251.56 1093.39,253.22 1095.62,254.88 1097.8,256.5 1099.93,258.07 1102.04,259.61 1104.12,261.16 1106.14,262.72 1108.11,264.33 1110,266 1111.83,267.77 1113.6,269.63 1115.31,271.53 1116.95,273.43 1118.52,275.27 1120,277 1121.36,278.63 1122.58,280.2 1123.73,281.72 1124.86,283.19 1126.03,284.61 1127.3,286 1128.73,287.37 1130.29,288.7 1131.88,290 1133.43,291.24 1134.83,292.41 1136,293.5 1136.91,294.38 1137.64,295.04 1138.22,295.62 1138.71,296.3 1139.15,297.2 1139.6,298.5 1140.03,300.21 1140.41,302.2 1140.74,304.44 1141.04,306.85 1141.32,309.39 1141.6,312 1141.87,314.81 1142.11,317.89 1142.33,321.09 1142.55,324.28 1142.77,327.3 1143,330 1143.21,332.38 1143.39,334.56 1143.57,336.56 1143.79,338.44 1144.09,340.24 1144.5,342 1145.04,343.7 1145.69,345.32 1146.41,346.85 1147.18,348.3 1147.99,349.69 1148.8,351 1149.57,352.27 1150.32,353.48 1151.09,354.63 1151.96,355.67 1152.97,356.61 1154.2,357.4 1155.66,358.03 1157.3,358.5 1159.1,358.86 1161.01,359.13 1162.99,359.37 1165,359.6 1166.23,359.8 1166.54,359.94 1166.92,360.04 1168.36,360.11 1171.86,360.19 1178.4,360.3 1189.68,360.44 1205.26,360.59 1222.89,360.74 1240.33,360.89 1255.35,361.01 1265.7,361.1"/>
<polyline fill="none" stroke="#9b4bd9" stroke-width="2.7" stroke-linejoin="round" points="727.6,51.2 728.65,51.17 729.76,51.12 731.24,51.06 733.4,51.01 736.55,50.99 741,51 747.13,51.05 754.77,51.13 763.4,51.23 772.5,51.35 781.54,51.47 790,51.6 797.92,51.72 805.73,51.84 813.48,51.96 821.23,52.11 829.05,52.28 837,52.5 845.38,52.76 854.21,53.05 863.1,53.37 871.68,53.72 879.57,54.1 886.4,54.5 891.88,54.93 896.27,55.39 899.97,55.88 903.39,56.39 906.93,56.93 911,57.5 915.68,58.12 920.67,58.79 925.79,59.48 930.84,60.18 935.64,60.86 940,61.5 943.89,62.07 947.45,62.57 950.76,63.06 953.9,63.57 956.95,64.14 960,64.8 963.04,65.58 966,66.45 968.88,67.37 971.66,68.33 974.34,69.28 976.9,70.2 979.3,71.12 981.53,72.07 983.65,73.01 985.73,73.92 987.83,74.76 990,75.5 992.1,76.11 994.03,76.61 995.99,77.04 998.13,77.44 1000.65,77.84 1003.7,78.3 1007.42,78.8 1011.69,79.31 1016.33,79.84 1021.14,80.36 1025.96,80.89 1030.6,81.4 1035.2,81.9 1039.95,82.4 1044.7,82.89 1049.3,83.39 1053.62,83.89 1057.5,84.4 1060.92,84.9 1063.97,85.39 1066.74,85.88 1069.29,86.4 1071.69,86.97 1074,87.6 1076.23,88.3 1078.32,89.05 1080.26,89.84 1082.03,90.69 1083.62,91.57 1085,92.5 1086.13,93.44 1087.02,94.38 1087.72,95.37 1088.29,96.44 1088.8,97.64 1089.3,99 1089.75,100.42 1090.09,101.84 1090.36,103.39 1090.61,105.18 1090.88,107.34 1091.2,110 1091.57,113.25 1091.95,117.02 1092.35,121.16 1092.77,125.51 1093.22,129.95 1093.7,134.3 1094.23,138.74 1094.8,143.43 1095.4,148.19 1096.01,152.85 1096.62,157.24 1097.2,161.2 1097.76,164.78 1098.31,168.11 1098.85,171.19 1099.39,173.96 1099.94,176.41 1100.5,178.5 1100.87,180.02 1101.02,180.96 1101.17,181.57 1101.56,182.11 1102.42,182.84 1104,184 1106.37,185.62 1109.37,187.49 1112.84,189.55 1116.63,191.72 1120.6,193.93 1124.6,196.1 1128.72,198.29 1133.1,200.55 1137.66,202.85 1142.3,205.15 1146.94,207.41 1151.5,209.6 1156.09,211.74 1160.81,213.86 1165.53,215.94 1170.12,217.96 1174.45,219.89 1178.4,221.7 1182.01,223.39 1185.4,224.98 1188.54,226.48 1191.37,227.9 1193.87,229.23 1196,230.5 1197.65,231.6 1198.82,232.5 1199.66,233.33 1200.3,234.2 1200.87,235.21 1201.5,236.5 1202.15,238.07 1202.7,239.83 1203.17,241.75 1203.61,243.78 1204.05,245.88 1204.5,248 1204.94,250.24 1205.34,252.65 1205.74,255.12 1206.16,257.57 1206.63,259.9 1207.2,262 1207.86,263.84 1208.57,265.48 1209.35,267 1210.18,268.46 1211.07,269.94 1212,271.5 1212.96,273.07 1213.94,274.59 1214.98,276.11 1216.1,277.73 1217.33,279.5 1218.7,281.5 1220.28,283.84 1222.07,286.49 1223.96,289.3 1225.88,292.12 1227.72,294.8 1229.4,297.2 1230.91,299.35 1232.31,301.38 1233.65,303.27 1234.94,305.01 1236.21,306.59 1237.5,308 1238.76,309.21 1239.95,310.24 1241.13,311.1 1242.34,311.83 1243.61,312.45 1245,313 1246.51,313.43 1248.12,313.71 1249.8,313.89 1251.52,314 1253.26,314.09 1255,314.2 1256.87,314.32 1258.91,314.41 1260.97,314.48 1262.9,314.53 1264.53,314.57 1265.7,314.6"/>
<rect x="727.6" y="11.2" width="539" height="434.2" fill="none" stroke="#000" stroke-width="2"/>
<line x1="734.4" y1="274.5" x2="795.5" y2="274.5" stroke="#9b4bd9" stroke-width="2.4" />
<text x="809" y="284.8" font-size="30" font-family="Liberation Serif" font-weight="bold" text-anchor="start" >ZIF-8</text>
<line x1="734.4" y1="311.6" x2="795.5" y2="311.6" stroke="#10914a" stroke-width="2.4" />
<text x="809" y="321.9" font-size="30" font-family="Liberation Serif" font-weight="bold" text-anchor="start" >CS/ZIF-8-60%</text>
<line x1="734.4" y1="348.7" x2="795.5" y2="348.7" stroke="#0b47e0" stroke-width="2.4" />
<text x="809" y="359" font-size="30" font-family="Liberation Serif" font-weight="bold" text-anchor="start" >CS/ZIF-8-51%</text>
<line x1="734.4" y1="385.8" x2="795.5" y2="385.8" stroke="#f2131d" stroke-width="2.4" />
<text x="809" y="396.1" font-size="30" font-family="Liberation Serif" font-weight="bold" text-anchor="start" >CS/ZIF-8-36%</text>
<line x1="734.4" y1="422.9" x2="795.5" y2="422.9" stroke="#2a2a2a" stroke-width="2.4" />
<text x="809" y="433.2" font-size="30" font-family="Liberation Serif" font-weight="bold" text-anchor="start" >CS</text>
<text x="1012" y="517.5" font-size="38" font-family="Liberation Serif" font-weight="bold" text-anchor="middle" >Temperature (&#176;C)</text>
<text transform="translate(662.3,215.9) rotate(-90)" font-size="36.8" font-family="Liberation Serif" font-weight="bold" text-anchor="middle" textLength="259" lengthAdjust="spacingAndGlyphs">Weight loss (%)</text>
<text x="641.8" y="28.9" font-size="33" font-family="Liberation Sans" font-weight="bold" text-anchor="start" >B</text>
</g>
<g id="C">
<line x1="552.56" y1="965.4" x2="552.56" y2="969.7" stroke="#000" stroke-width="2" />
<line x1="509.12" y1="965.4" x2="509.12" y2="973.9" stroke="#000" stroke-width="2" />
<line x1="465.69" y1="965.4" x2="465.69" y2="969.7" stroke="#000" stroke-width="2" />
<line x1="422.25" y1="965.4" x2="422.25" y2="973.9" stroke="#000" stroke-width="2" />
<line x1="378.81" y1="965.4" x2="378.81" y2="969.7" stroke="#000" stroke-width="2" />
<line x1="335.38" y1="965.4" x2="335.38" y2="973.9" stroke="#000" stroke-width="2" />
<line x1="291.94" y1="965.4" x2="291.94" y2="969.7" stroke="#000" stroke-width="2" />
<line x1="248.5" y1="965.4" x2="248.5" y2="973.9" stroke="#000" stroke-width="2" />
<line x1="205.06" y1="965.4" x2="205.06" y2="969.7" stroke="#000" stroke-width="2" />
<line x1="161.63" y1="965.4" x2="161.63" y2="973.9" stroke="#000" stroke-width="2" />
<line x1="118.19" y1="965.4" x2="118.19" y2="969.7" stroke="#000" stroke-width="2" />
<line x1="74.75" y1="965.4" x2="74.75" y2="973.9" stroke="#000" stroke-width="2" />
<text x="596" y="1005.4" font-size="33" font-family="Liberation Serif" font-weight="bold" text-anchor="middle" >500</text>
<text x="509.12" y="1005.4" font-size="33" font-family="Liberation Serif" font-weight="bold" text-anchor="middle" >1000</text>
<text x="422.25" y="1005.4" font-size="33" font-family="Liberation Serif" font-weight="bold" text-anchor="middle" >1500</text>
<text x="335.38" y="1005.4" font-size="33" font-family="Liberation Serif" font-weight="bold" text-anchor="middle" >2000</text>
<text x="248.5" y="1005.4" font-size="33" font-family="Liberation Serif" font-weight="bold" text-anchor="middle" >2500</text>
<text x="161.63" y="1005.4" font-size="33" font-family="Liberation Serif" font-weight="bold" text-anchor="middle" >3000</text>
<text x="74.75" y="1005.4" font-size="33" font-family="Liberation Serif" font-weight="bold" text-anchor="middle" >3500</text>
<line x1="86.3" y1="581.1" x2="86.3" y2="886" stroke="#000" stroke-width="2.1" stroke-dasharray="7.3,7.7"/>
<line x1="175.2" y1="580" x2="174.4" y2="855.6" stroke="#000" stroke-width="2.1" stroke-dasharray="7.3,7.7"/>
<line x1="394" y1="582.2" x2="394.4" y2="860.5" stroke="#000" stroke-width="2.1" stroke-dasharray="7.3,7.7"/>
<line x1="408.8" y1="584.6" x2="407.8" y2="875.8" stroke="#000" stroke-width="2.1" stroke-dasharray="7.3,7.7"/>
<line x1="483.9" y1="598" x2="483.4" y2="839.2" stroke="#000" stroke-width="2.1" stroke-dasharray="7.3,7.7"/>
<line x1="510.4" y1="585.2" x2="514.6" y2="840.7" stroke="#000" stroke-width="2.1" stroke-dasharray="7.3,7.7"/>
<polyline fill="none" stroke="#000000" stroke-width="2.6" stroke-linejoin="round" points="58,861.7 59.02,862.96 60.04,864.04 61.07,865.29 62.09,866.96 63.11,868.01 64.13,868.98 65.16,870.45 66.18,871.73 67.2,872.84 68.21,874.15 69.22,874.86 70.24,875.57 71.25,875.84 72.26,876.84 73.27,877.42 74.28,878.55 75.29,879.36 76.31,880.1 77.32,880.86 78.33,881.22 79.34,881.91 80.35,882.72 81.36,883.93 82.38,884.68 83.39,885.25 84.4,885.84 85.46,886.28 86.53,885.9 87.59,886.08 88.65,885.95 89.71,886.6 90.78,886.32 91.84,886.6 92.9,886.68 93.93,885.9 94.96,885.49 95.99,884.71 97.01,884.16 98.04,883.53 99.07,882.35 100.1,882.1 101.13,881.14 102.16,880.54 103.19,879.9 104.21,879.64 105.24,878.44 106.27,878.01 107.3,877.18 108.32,877.24 109.34,876.48 110.36,876.14 111.39,875.57 112.41,875.26 113.43,874.54 114.45,874.12 115.47,873.86 116.49,873.38 117.51,873.03 118.54,872.22 119.56,872.08 120.58,871.55 121.6,870.99 122.62,870.43 123.64,870.07 124.66,869.31 125.69,868.87 126.71,868.53 127.73,867.96 128.75,867.45 129.77,867.39 130.79,866.94 131.81,866.41 132.84,865.71 133.86,865.55 134.88,865.16 135.9,864.57 136.92,864.08 137.94,864.02 138.96,863.67 139.99,863.33 141.01,863 142.03,863.18 143.05,862.78 144.07,862.7 145.09,861.99 146.11,861.79 147.14,861.68 148.16,861.15 149.18,861.04 150.2,860.92 151.22,860.63 152.24,860.63 153.26,860.18 154.29,859.95 155.31,859.67 156.33,859.53 157.35,859.02 158.37,858.54 159.39,858.87 160.41,858.5 161.44,857.85 162.46,857.58 163.48,857.39 164.5,857.39 165.5,856.94 166.5,856.73 167.5,856.88 168.5,856.44 169.5,856.46 170.5,856.39 171.5,856.14 172.5,855.88 173.5,855.9 174.5,855.75 175.57,855.32 176.65,854.9 177.72,854.39 178.8,853.89 179.88,853.24 180.95,853.25 182.03,852.72 183.1,852.1 184.18,851.33 185.25,850.99 186.33,850.92 187.4,850.17 188.42,849.41 189.44,849.16 190.46,848.59 191.49,847.52 192.51,847.13 193.53,846.55 194.55,845.67 195.57,845.18 196.59,844.74 197.61,844.16 198.64,843.52 199.66,842.9 200.68,842.14 201.7,841.34 202.7,840.92 203.71,841.03 204.72,840.66 205.72,840.3 206.72,839.42 207.73,839.45 208.73,838.71 209.74,838.43 210.75,837.96 211.75,837.97 212.75,837.56 213.76,837.18 214.77,836.52 215.77,836.47 216.78,835.68 217.78,835.48 218.78,835.16 219.79,834.51 220.8,834.21 221.8,833.66 222.82,833.94 223.84,833.44 224.86,833.27 225.89,833.22 226.91,833.31 227.93,833.17 228.95,832.96 229.97,833.03 230.99,832.83 232.01,832.37 233.04,832.43 234.06,832.07 235.08,831.98 236.1,831.79 237.12,831.61 238.14,831.64 239.16,831.82 240.19,831.55 241.21,831.07 242.23,831.02 243.25,831.1 244.27,830.93 245.29,830.49 246.31,830.4 247.34,830.55 248.36,830.43 249.38,829.98 250.4,830.26 251.54,829.38 252.68,829.03 253.82,828.44 254.96,827.76 256.1,827.57 257.14,827.2 258.18,827.17 259.22,827.2 260.26,827.34 261.3,827.39 262.35,827.22 263.39,827.04 264.43,827.1 265.47,827.01 266.51,827.17 267.55,827.13 268.59,826.97 269.63,826.6 270.67,826.77 271.71,826.65 272.75,826.48 273.8,826.77 274.84,826.4 275.88,826.65 276.92,826.48 277.96,826.4 279,826.52 280,826.63 281,826.89 282,827 283,826.98 284,826.76 285,827.1 286,827.1 287,827.46 288,827.27 289,827.31 290,827.22 291,827.58 292,827.72 293,827.68 294,827.66 295,827.99 296,827.84 297,828 298,828.27 299,828.31 300,828.5 301,828.52 302,828.45 303,828.3 304,828.24 305,828.57 306,828.82 307,828.42 308,828.46 309,828.45 310,828.71 311,828.57 312,828.76 313,828.29 314,828.37 315,828.42 316,828.53 317,828.55 318,828.55 319,828.91 320,828.6 321,828.69 322,828.92 323,828.74 324,828.72 325,828.86 326,828.57 327,828.4 328,828.96 329,828.71 330,828.75 331.05,828.53 332.11,829.02 333.16,828.88 334.21,829.13 335.27,829 336.32,829.47 337.37,829.23 338.43,829.26 339.48,829.72 340.53,829.4 341.59,829.52 342.64,829.73 343.69,830.12 344.75,829.68 345.8,829.83 346.81,830.4 347.83,830.18 348.84,830.61 349.86,831.05 350.87,831.22 351.89,831.49 352.9,831.3 353.91,831.99 354.93,831.89 355.94,832.38 356.96,832.39 357.97,832.86 358.99,832.83 360,832.92 361.01,833.08 362.03,833.5 363.04,833.45 364.06,833.74 365.07,834.39 366.09,834.43 367.1,834.82 368.12,835.02 369.13,835.85 370.15,836.48 371.17,836.9 372.18,837.62 373.2,838.65 374.22,839.17 375.23,839.67 376.25,840.37 377.27,841.15 378.28,841.84 379.3,842.26 380.32,843.46 381.34,845.49 382.37,846.6 383.39,848.18 384.41,849.65 385.43,851.41 386.46,852.98 387.48,854.44 388.5,855.98 389.52,857.05 390.53,858.66 391.55,859.82 392.57,860.95 393.58,862.53 394.6,863.86 395.62,864.87 396.63,865.92 397.65,866.39 398.67,867.6 399.68,868.65 400.7,869.55 401.82,870.86 402.93,871.98 404.05,872.53 405.17,873.77 406.28,875.06 407.4,876.03 408.62,873.87 409.85,871.76 411.07,870.07 412.3,868.21 413.53,866.34 414.77,863.94 416,861.97 417.12,863.92 418.25,864.86 419.38,866.74 420.5,867.96 421.65,873.68 422.8,878.8 423.95,884.43 425.1,889.33 426.12,891.51 427.13,892.9 428.15,894.58 429.17,896.39 430.18,898.16 431.2,900.13 432.22,897.68 433.23,894.51 434.25,891.93 435.27,888.72 436.28,886.21 437.3,883.42 438.32,878.59 439.33,874.31 440.35,869.67 441.37,865.03 442.38,860.76 443.4,856.11 444.42,854.07 445.44,852.36 446.47,850.63 447.49,849.06 448.51,847.58 449.53,846.08 450.56,844.38 451.58,842.62 452.6,840.47 453.61,839.85 454.62,838.81 455.63,837.62 456.64,836.91 457.66,835.65 458.67,834.34 459.68,833.37 460.69,832.3 461.7,831.57 462.72,831.31 463.74,831.18 464.77,830.41 465.79,830.14 466.81,830.45 467.83,829.76 468.86,829.49 469.88,829.59 470.9,828.87 471.91,829.89 472.92,830.56 473.93,830.97 474.94,831.61 475.96,831.86 476.97,832.83 477.98,833.45 478.99,834.15 480,834.61 481.02,835.64 482.03,836.97 483.05,838.49 484.07,839.41 485.08,840.7 486.1,842.05 487.12,844.41 488.13,846.29 489.15,848.21 490.17,850.61 491.18,852.42 492.2,854.24 493.35,854.06 494.5,853.86 495.65,853.2 496.8,852.86 497.95,854.1 499.1,855.49 500.25,856.43 501.4,857.31 502.42,857.3 503.43,856.89 504.45,856.73 505.47,856.63 506.48,855.96 507.5,856 508.52,853.34 509.53,850.96 510.55,848.54 511.57,845.78 512.58,843.33 513.6,840.57 514.62,840.3 515.63,840.21 516.65,839.97 517.67,839.53 518.68,839.61 519.7,839.2 520.79,839.33 521.87,839.48 522.96,840.04 524.04,840.3 525.13,840.53 526.21,840.33 527.3,840.44 528.3,844.98 529.3,848.81 530.3,853.51 531.3,857.61 532.33,851.3 533.37,845.26 534.4,839.31 535.52,838.33 536.63,837.79 537.75,837.37 538.87,836.64 539.98,835.92 541.1,834.96 542.12,835.24 543.13,835.47 544.15,835.54 545.17,836.12 546.18,836.29 547.2,836.7 548.22,836.69 549.23,837.12 550.25,837.06 551.27,837.29 552.28,837.36 553.3,837.68 554.31,838.81 555.32,839.38 556.33,839.93 557.34,840.99 558.36,841.74 559.37,842.84 560.38,843.62 561.39,844.44 562.4,845.56 563.49,846.11 564.57,846.37 565.66,846.99 566.74,848.05 567.83,848.64 568.91,849.33 570,849.9 571.06,849.5 572.12,849.62 573.18,849.73 574.25,849.47 575.31,849.01 576.37,848.94 577.43,849.28 578.49,848.94 579.55,848.59 580.62,848.79 581.68,848.8 582.74,848.64 583.8,848.39 584.83,847.73 585.87,846.54 586.9,846 587.93,845.45 588.97,844.41 590,843.54 591.03,843.21 592.07,842.36 593.1,841.18 594.13,840.45 595.17,839.99 596.2,839.2"/>
<polyline fill="none" stroke="#ee1515" stroke-width="2.6" stroke-linejoin="round" points="58,793.44 59,794.05 60,795.37 61,795.45 62,797.02 63,797.56 64,798.75 65,799.54 66,800.92 67,801.43 68,803.17 69,804.17 70,805.49 71.03,805.99 72.06,805.83 73.09,807.46 74.11,807.74 75.14,808.88 76.17,809.02 77.2,809.2 78.23,810.62 79.26,810.65 80.29,812.3 81.31,812.43 82.34,813.54 83.37,813.72 84.4,814.19 85.54,814.71 86.68,814.89 87.82,814.71 88.96,814.61 90.1,814.9 91.11,814.72 92.12,813.59 93.14,812.97 94.15,812.82 95.16,812.48 96.17,811.23 97.18,810.94 98.19,811.24 99.21,809.85 100.22,809.91 101.23,808.81 102.24,808.01 103.25,807.95 104.26,807.87 105.28,807.21 106.29,805.8 107.3,806.04 108.32,805.54 109.34,804.96 110.36,804.78 111.39,804.2 112.41,803.38 113.43,803.59 114.45,802.5 115.47,802.31 116.49,802.56 117.51,801.81 118.54,801.33 119.56,801.17 120.58,800.5 121.6,799.96 122.62,799.76 123.64,798.71 124.66,798.7 125.69,797.92 126.71,798.66 127.73,798.15 128.75,797.43 129.77,796.43 130.79,796.86 131.81,795.77 132.84,795.99 133.86,795.4 134.88,794.93 135.9,794.69 136.92,793.71 137.94,793.98 138.96,793.22 139.99,793.07 141.01,792.75 142.03,791.64 143.05,791.42 144.07,790.95 145.09,790.2 146.11,790.74 147.14,790.1 148.16,789.46 149.18,789.12 150.2,789.11 151.22,787.72 152.24,787.66 153.26,787.64 154.29,787.05 155.31,786.59 156.33,785.9 157.35,785.44 158.37,785.57 159.39,784.76 160.41,785.07 161.44,784.61 162.46,784.29 163.48,783.04 164.5,782.92 165.6,782.65 166.7,783.17 167.8,783.05 168.9,783.78 170,784.55 171.12,785.34 172.25,785.89 173.38,786.81 174.5,788.62 175.67,786.2 176.83,785.78 178,784.43 179.03,783.15 180.05,783.87 181.07,783.18 182.1,782.53 183.12,782.24 184.15,782.13 185.18,781.7 186.2,781.77 187.23,781.47 188.25,780.46 189.28,779.74 190.3,780.33 191.32,780.01 192.33,779.86 193.35,779 194.36,778.83 195.38,779.66 196.4,778.85 197.41,778.82 198.43,779.25 199.45,778.15 200.46,778.52 201.48,777.66 202.49,778.1 203.51,778.15 204.53,777.29 205.54,777.84 206.56,777.93 207.57,777.59 208.59,777.39 209.61,777.41 210.62,776.97 211.64,776.6 212.65,776.77 213.67,776.58 214.69,776.21 215.7,776.09 216.72,775.34 217.74,775.36 218.75,775.18 219.77,775.66 220.78,775.4 221.8,774.65 222.81,775.45 223.83,774.29 224.84,774.25 225.85,774.53 226.86,774.18 227.88,775.19 228.89,774.44 229.9,774.43 230.91,774.95 231.93,774.52 232.94,774.6 233.95,774.33 234.96,774.31 235.97,774.87 236.99,774.01 238,774.26 239.01,774.17 240.03,773.72 241.04,773.68 242.05,774.07 243.06,774.38 244.07,773.9 245.09,773.41 246.1,774.42 247.11,773.42 248.12,774.28 249.14,773.23 250.15,773.91 251.16,773.27 252.17,773.36 253.19,773.51 254.2,773.87 255.21,773.45 256.22,773.39 257.24,773.32 258.25,773.42 259.26,773.1 260.27,773.86 261.29,772.9 262.3,772.79 263.31,773.25 264.32,772.97 265.34,773.37 266.35,772.51 267.36,773.24 268.38,772.82 269.39,773.45 270.4,772.66 271.42,772.95 272.44,772.94 273.46,773.32 274.48,773.15 275.5,773.74 276.52,773.56 277.54,774.04 278.57,773.67 279.59,774 280.61,774.24 281.63,774.57 282.65,774.61 283.67,774.47 284.69,774.19 285.71,774.35 286.73,774.52 287.75,774.69 288.77,774.82 289.79,775.52 290.81,775.26 291.83,776.07 292.86,775.39 293.88,775.53 294.9,775.58 295.92,775.66 296.94,776.44 297.96,776.44 298.98,776.17 300,776.97 301,776.86 302,776.61 303,776.87 304,776.97 305,776.76 306,776.39 307,776.76 308,777.51 309,776.87 310,777.23 311,776.62 312,777.49 313,777.64 314,777.1 315,777.15 316,777.36 317,777.1 318,777.09 319,777.04 320,777.76 321,777.59 322,778.17 323,778.23 324,778.17 325,778.3 326,778.22 327,777.29 328,777.46 329,778.52 330,778.45 331,778.17 332,778.21 333,778.03 334,778.05 335,777.75 336,778.27 337,777.98 338,777.83 339,778.76 340,778.44 341,778.84 342,778.18 343,778.55 344,778.23 345,778.93 346,778.22 347,778.78 348,778.7 349,778.46 350,778.21 351,778.73 352,778.81 353,779.2 354,778.5 355,778.51 356,778.69 357,779.32 358,778.67 359,779.19 360,778.5 361,778.6 362.02,779.59 363.04,779.58 364.06,779.36 365.08,780.04 366.1,780.84 367.11,780.43 368.13,780.87 369.15,780.95 370.17,781.29 371.19,780.98 372.21,782.23 373.23,782.11 374.25,782.07 375.27,782.24 376.29,782.37 377.3,783.51 378.32,783.64 379.34,783.33 380.36,783.84 381.38,784.02 382.4,783.84 383.41,785.01 384.42,787.22 385.43,787.9 386.44,789.74 387.46,790.45 388.47,791.83 389.48,793.36 390.49,795.32 391.5,796.64 392.53,797.84 393.57,798.19 394.6,798.78 395.63,798.92 396.67,800.8 397.7,800.99 398.71,801.94 399.72,801.47 400.73,802.94 401.74,803.02 402.76,803.22 403.77,803.95 404.78,804.07 405.79,805.19 406.8,805.26 407.82,804.83 408.83,803.18 409.85,802.78 410.87,801.67 411.88,800.77 412.9,800.04 414.05,797.35 415.2,795.92 416.35,793.68 417.5,792.37 418.65,793.44 419.8,794.52 420.95,795.47 422.1,796.21 423.11,797.49 424.12,798.06 425.13,798.54 426.14,798.31 427.16,799.39 428.17,799.71 429.18,800.41 430.19,800.86 431.2,800.95 432.27,801.24 433.34,802.09 434.41,802.3 435.48,802.53 436.55,803.3 437.62,802.66 438.69,803.01 439.76,803.92 440.83,803.85 441.9,805.11 442.97,803.54 444.04,803.82 445.11,802.36 446.18,801.58 447.25,801.65 448.32,800.89 449.39,799.9 450.46,799.46 451.53,798.73 452.6,798.54 453.62,797.38 454.63,796.78 455.65,796.05 456.67,795.36 457.68,795.06 458.7,793.73 459.72,793.8 460.73,793.45 461.75,792.61 462.77,791.72 463.78,790.86 464.8,789.92 465.81,789.4 466.82,789.42 467.83,789.32 468.84,788.79 469.86,787.46 470.87,787.63 471.88,787.19 472.89,786.29 473.9,786.23 474.92,785.92 475.93,786.6 476.95,787.32 477.97,788.07 478.98,788.24 480,788.56 481.15,790.77 482.3,791.72 483.45,793.28 484.6,794.57 485.69,795.75 486.77,796.89 487.86,797.35 488.94,798.58 490.03,799.25 491.11,799.54 492.2,801.55 493.22,800.07 494.24,799.7 495.27,799.52 496.29,797.94 497.31,797.09 498.33,796.58 499.36,795.84 500.38,796 501.4,794.92 502.42,793.46 503.43,792.84 504.45,792.24 505.47,790.94 506.48,790.21 507.5,790.04 508.52,788.59 509.53,787.45 510.55,786.99 511.57,785.52 512.58,785.12 513.6,784.38 514.62,783.33 515.63,783.51 516.65,782.85 517.67,782.99 518.68,782.46 519.7,782.44 520.72,781.7 521.73,780.82 522.75,780.45 523.77,780.69 524.78,780.45 525.8,779.18 526.82,779.39 527.83,779.03 528.85,779.04 529.87,779.32 530.88,778.74 531.9,778.76 532.92,778.58 533.93,777.79 534.95,777.99 535.97,777.49 536.98,777.41 538,777.27 539.02,777.23 540.03,776.42 541.05,777.02 542.07,776 543.08,775.98 544.1,776.42 545.12,776.89 546.13,776.46 547.15,777.47 548.17,776.68 549.18,778.09 550.2,777.49 551.22,777.6 552.23,778.78 553.25,778.37 554.27,779.39 555.28,778.8 556.3,779.25 557.37,780.14 558.44,780.42 559.51,781.5 560.58,781.96 561.65,783.04 562.72,783.35 563.79,784.53 564.86,784.99 565.93,784.8 567,786.3 568.07,785.81 569.14,784.96 570.21,784.45 571.28,783.56 572.35,783.29 573.42,782.7 574.49,782.22 575.56,782.26 576.63,781.45 577.7,781.52 578.71,780.94 579.72,780.9 580.73,779.67 581.74,780.24 582.76,779.49 583.77,779.29 584.78,778.48 585.79,778.68 586.8,777.99 587.84,778.03 588.89,777.53 589.93,776.67 590.98,776.53 592.02,776.74 593.07,775.52 594.11,775.92 595.16,775.49 596.2,775.1"/>
<polyline fill="none" stroke="#1010ee" stroke-width="2.6" stroke-linejoin="round" points="58,730.61 59.03,730.93 60.07,731.77 61.1,732.47 62.14,733.43 63.17,733.45 64.21,734.59 65.24,735.03 66.28,736.06 67.31,736.42 68.35,737.07 69.38,737.79 70.42,739.15 71.45,739.31 72.48,740.53 73.52,741.08 74.55,741.31 75.59,742.29 76.62,742.44 77.66,744.06 78.69,744.45 79.73,744.63 80.76,745.73 81.8,746.41 82.83,747.28 83.87,747.59 84.9,748.91 85.95,748.39 87.01,747.6 88.06,748.11 89.12,747.94 90.17,747.12 91.23,747.29 92.28,747.21 93.34,746.99 94.39,745.94 95.45,746.47 96.5,745.65 97.51,745.62 98.51,744.93 99.52,744.13 100.52,743.99 101.53,743.31 102.53,742.93 103.54,742.31 104.54,741.35 105.55,740.93 106.56,740.29 107.56,739.44 108.57,738.97 109.57,738.4 110.58,737.53 111.58,736.99 112.59,737 113.59,736.42 114.6,735.7 115.63,735.48 116.66,735.1 117.7,734.96 118.73,734.85 119.76,733.99 120.79,734.22 121.82,734.54 122.86,733.57 123.89,733.63 124.92,733.04 125.95,733.01 126.98,733.38 128.02,732.38 129.05,732.94 130.08,732.74 131.11,732.6 132.14,731.79 133.18,732.26 134.21,731.5 135.24,731.37 136.27,731.67 137.3,731.06 138.34,730.99 139.37,730.21 140.4,729.9 141.41,730.05 142.43,729.78 143.44,730.38 144.45,729.7 145.47,730.29 146.48,729.9 147.49,729.3 148.5,729.71 149.52,729.2 150.53,729.3 151.54,728.73 152.56,729.38 153.57,729.22 154.58,728.9 155.6,728.89 156.61,728.43 157.62,728.11 158.63,728.19 159.65,728.49 160.66,728.2 161.67,727.66 162.69,727.65 163.7,727.78 164.75,727.43 165.8,727.58 166.85,728.1 167.9,727.9 168.95,728.77 170,728.13 171.06,729.39 172.12,730.07 173.18,730.24 174.24,731.1 175.3,732.19 176.48,730.89 177.65,729.74 178.82,729.4 180,727.76 181.01,728.33 182.02,727.56 183.03,727.55 184.03,727.32 185.04,727.53 186.05,727.63 187.06,727.31 188.07,726.68 189.07,727.37 190.08,726.97 191.09,726.63 192.1,726.85 193.12,726 194.14,726.39 195.16,726.48 196.17,726.37 197.19,726.16 198.21,725.45 199.23,725.76 200.25,725.45 201.27,725.68 202.28,725.37 203.3,725.33 204.32,725.31 205.34,725.25 206.36,725.45 207.38,724.74 208.39,724.63 209.41,724.44 210.43,724.27 211.45,724.9 212.47,724.87 213.49,723.97 214.51,724.1 215.52,724.54 216.54,724.4 217.56,724.41 218.58,724.32 219.6,723.53 220.62,723.19 221.63,723.27 222.65,723.42 223.67,722.83 224.69,722.97 225.71,723.09 226.73,723.19 227.74,722.56 228.76,722.43 229.78,722.53 230.8,722.19 231.8,722.19 232.8,722.14 233.81,722.8 234.81,722.85 235.81,721.98 236.81,722.7 237.81,722.71 238.82,722.48 239.82,722.1 240.82,722.59 241.82,721.81 242.82,721.75 243.83,722.62 244.83,721.85 245.83,722.52 246.83,722.32 247.83,721.58 248.84,721.59 249.84,722.11 250.84,721.58 251.84,722.07 252.84,722.04 253.85,721.56 254.85,721.78 255.85,721.48 256.85,722.1 257.85,721.83 258.86,721.86 259.86,721.75 260.86,721.16 261.86,721.95 262.86,721.81 263.87,721.51 264.87,721.56 265.87,721.43 266.87,721.66 267.87,721.4 268.88,721.11 269.88,721.32 270.88,720.98 271.88,720.74 272.88,721.22 273.89,721.54 274.89,721.35 275.89,720.81 276.89,721.07 277.89,721.12 278.9,721.08 279.9,720.93 280.9,720.94 281.9,721.09 282.91,721.25 283.91,720.85 284.91,721.08 285.91,720.95 286.91,720.35 287.92,720.46 288.92,720.48 289.92,720.49 290.92,720.59 291.92,720.36 292.93,721.03 293.93,720.73 294.93,720.34 295.93,720.63 296.93,720.82 297.94,720.03 298.94,720.46 299.94,720.76 300.94,720.14 301.94,720.61 302.95,720.5 303.95,719.99 304.95,719.78 305.95,720.41 306.95,719.98 307.96,719.88 308.96,719.96 309.96,720.19 310.96,720.33 311.96,720.32 312.97,720.13 313.97,719.51 314.97,719.67 315.97,719.27 316.97,719.43 317.98,719.54 318.98,719.34 319.98,719.61 320.98,719.23 321.98,719.72 322.99,719.44 323.99,719.25 324.99,719.65 325.99,719.26 326.99,718.92 328,719.71 329,719.59 330,719.68 331,719.04 332,718.96 333,719.34 334,718.73 335,719.5 336,719.13 337,718.98 338,718.42 339,718.6 340,718.69 341,719.19 342,718.3 343,718.7 344,718.13 345,718.97 346,718.69 347,718.71 348,718.59 349,717.97 350,717.97 351,717.72 352,718.18 353,717.65 354,717.71 355,717.64 356,718.33 357,718.15 358,717.59 359,718.22 360,717.36 361.03,717.42 362.07,717.74 363.1,718.25 364.14,717.62 365.17,718.39 366.21,718.23 367.24,718.56 368.28,718.18 369.31,717.97 370.35,718.11 371.38,718.81 372.42,718.68 373.45,719.01 374.48,718.53 375.52,718.69 376.55,718.7 377.59,719.42 378.62,719.36 379.66,718.89 380.69,719.54 381.73,718.93 382.76,719.44 383.8,719.31 384.83,719.9 385.87,719.94 386.9,719.98 387.92,720.52 388.95,721.39 389.98,723.02 391,724.09 392.02,724.43 393.05,726.29 394.08,727.37 395.1,727.86 396.14,727.63 397.18,727.38 398.21,727.26 399.25,726.6 400.29,726.08 401.32,725.94 402.36,725.28 403.4,724.43 404.43,724.78 405.47,724.48 406.5,724.24 407.53,724.13 408.57,723.79 409.6,723.71 410.63,723.46 411.67,722.92 412.7,721.81 413.73,721.51 414.77,720.11 415.8,719.82 416.83,720.38 417.87,720.75 418.9,720.69 419.93,720.8 420.97,721.93 422,721.91 423.03,722.82 424.07,723.38 425.1,724.01 426.13,725.34 427.17,726.04 428.2,727.39 429.22,727.41 430.25,727.76 431.27,727.82 432.3,728.25 433.32,727.88 434.35,729 435.38,728.83 436.4,729.1 437.43,727.49 438.47,726.19 439.5,725.61 440.53,724.43 441.57,723.17 442.6,721.55 443.64,721.54 444.68,721.57 445.71,721.19 446.75,721.21 447.79,720.14 448.82,720.57 449.86,719.56 450.9,719.93 452.05,721.38 453.2,722.47 454.35,724.37 455.5,726.17 456.73,724.3 457.97,721.44 459.2,719.81 460.23,720.1 461.26,719.42 462.29,720.19 463.31,720.24 464.34,719.64 465.37,719.51 466.4,719.45 467.43,719.52 468.46,719.72 469.49,720.01 470.51,720.24 471.54,719.86 472.57,720.25 473.6,719.73 474.63,720.64 475.67,720.67 476.7,721.77 477.73,722.06 478.77,722.85 479.8,724.21 480.85,725.84 481.9,728.35 482.95,730.9 484,733.23 485,729.63 486,726.61 487.04,727.9 488.08,728.34 489.12,728.75 490.16,729.86 491.2,730.47 492.24,731.82 493.28,731.59 494.32,732.44 495.36,733.05 496.4,734.25 497.42,734.4 498.45,733.95 499.48,733.02 500.5,733.19 501.52,732.75 502.55,733.1 503.58,732.57 504.6,732.2 505.63,731.69 506.67,731.7 507.7,731.63 508.73,731.31 509.77,731.33 510.8,730.69 511.85,728.7 512.9,726.94 513.95,724.02 515,721.81 516.03,721.8 517.06,721.6 518.09,721.27 519.12,720.66 520.16,720.73 521.19,719.96 522.22,720.12 523.25,719.27 524.28,719.19 525.31,718.91 526.34,718.83 527.38,718.96 528.41,717.99 529.44,718.59 530.47,717.55 531.5,718.15 532.54,718.3 533.57,718.11 534.61,718.49 535.64,718.74 536.68,718.4 537.71,718.96 538.75,718.28 539.79,719.18 540.82,719.2 541.86,719.48 542.89,719 543.93,719.08 544.96,719.67 546,719.91 547.02,721.43 548.04,722.36 549.06,724.19 550.08,726.03 551.1,726.75 552.14,726.54 553.17,725.91 554.21,724.85 555.25,723.84 556.29,723.04 557.33,722.32 558.36,721.2 559.4,720.37 560.43,721.28 561.47,721.87 562.5,723.3 563.52,724.04 564.55,725.83 565.58,726.79 566.6,728.4 567.65,725.3 568.7,722.01 569.72,721.79 570.74,721.63 571.76,721.99 572.77,721.77 573.79,722.33 574.81,721.59 575.83,722.22 576.85,721.96 577.87,722.09 578.89,722.25 579.9,722.73 580.92,722.78 581.94,722.19 582.96,722.83 583.98,722.87 585,722.48 586.01,722.56 587.03,722.23 588.05,722.86 589.07,722.6 590.09,722.92 591.11,723.12 592.13,722.86 593.14,722.97 594.16,722.87 595.18,722.49 596.2,722.9"/>
<polyline fill="none" stroke="#138a13" stroke-width="2.6" stroke-linejoin="round" points="58,664.46 59.05,665.02 60.09,666.04 61.14,667.67 62.19,668.04 63.24,668.73 64.28,669.91 65.33,670.49 66.38,671.89 67.42,672.46 68.47,673.36 69.52,674.65 70.56,675.82 71.61,675.92 72.66,677.46 73.71,678.25 74.75,679.08 75.8,679.93 76.84,680.85 77.88,682.45 78.92,683.89 79.96,685.01 81,686.89 82.04,687.6 83.08,689.34 84.12,690.6 85.16,691.88 86.2,692.89 87.3,692.9 88.4,693.21 89.5,692.56 90.6,692.65 91.7,692.46 92.8,692.89 93.9,692.86 94.98,692.56 96.05,691.79 97.12,690.57 98.2,689.9 99.28,688.79 100.35,688.63 101.42,687.67 102.5,686.6 103.58,686.49 104.65,684.99 105.72,684.37 106.8,683.88 107.83,684.02 108.87,682.92 109.91,682.71 110.94,682.86 111.97,682.13 113.01,682.34 114.05,681.19 115.08,681.06 116.11,680.8 117.15,680.96 118.19,679.97 119.22,680.16 120.25,680.02 121.29,679.78 122.33,679.3 123.36,678.3 124.39,678.36 125.43,677.8 126.47,677.38 127.5,677.17 128.57,677.18 129.65,676.6 130.72,675.77 131.8,675.47 132.88,674.84 133.95,675.18 135.03,674.6 136.1,673.91 137.18,673.92 138.25,673.5 139.33,672.37 140.4,671.98 141.41,671.64 142.43,671.76 143.44,671.45 144.45,671.1 145.47,671.06 146.48,670.56 147.49,670.09 148.5,670.13 149.52,670.1 150.53,669.01 151.54,669.13 152.56,668.54 153.57,668.81 154.58,668.24 155.6,668.33 156.61,667.9 157.62,667.88 158.63,667.26 159.65,667 160.66,667.06 161.67,666.63 162.69,665.93 163.7,665.44 164.75,666.38 165.8,665.81 166.85,666.78 167.9,666.99 168.95,666.95 170,667.4 171.06,668.14 172.12,669.3 173.18,670.21 174.24,670.91 175.3,671.82 176.48,671.37 177.65,670.06 178.82,668.71 180,668.05 181.01,667.61 182.02,667.42 183.03,667.79 184.03,667.37 185.04,667.31 186.05,667.19 187.06,666.66 188.07,666.49 189.07,666.29 190.08,666.04 191.09,666.23 192.1,666.15 193.12,665.38 194.14,665.51 195.16,664.83 196.17,664.4 197.19,664.77 198.21,664.61 199.23,663.97 200.25,664.33 201.27,663.84 202.28,663.24 203.3,663.4 204.32,663.24 205.34,662.36 206.36,662.82 207.38,662.15 208.39,661.77 209.41,661.62 210.43,661.52 211.45,661.27 212.47,660.83 213.49,660.38 214.51,660.65 215.52,660.49 216.54,660.23 217.56,659.72 218.58,659.9 219.6,658.9 220.62,658.76 221.63,658.42 222.65,658.66 223.67,658.4 224.69,657.89 225.71,657.92 226.73,657.21 227.74,657 228.76,657.6 229.78,657.29 230.8,656.31 231.82,656.71 232.84,656.44 233.86,656.33 234.88,656.47 235.91,656.16 236.93,656.29 237.95,655.92 238.97,656 239.99,655.15 241.01,655.65 242.03,655.06 243.05,655.47 244.07,655.22 245.09,655.24 246.12,654.92 247.14,654.45 248.16,654.44 249.18,654.54 250.2,653.75 251.22,654.05 252.24,653.94 253.26,653.94 254.28,653.47 255.31,653.57 256.33,653.56 257.35,653.1 258.37,653.24 259.39,653.31 260.41,652.69 261.43,652.7 262.45,652.53 263.47,652.71 264.49,652.06 265.52,651.94 266.54,651.91 267.56,652.01 268.58,651.42 269.6,652.03 270.61,651.57 271.61,651.75 272.62,651.43 273.63,651.05 274.63,651.35 275.64,651.48 276.65,651.02 277.65,651.79 278.66,651.41 279.67,651.26 280.67,650.85 281.68,651.01 282.69,651.06 283.69,651.31 284.7,650.86 285.71,651.11 286.71,650.88 287.72,651.12 288.73,651.2 289.73,651.02 290.74,651.2 291.75,651.05 292.75,650.54 293.76,651.02 294.77,650.84 295.77,651.05 296.78,651.18 297.79,650.63 298.79,651.05 299.8,650.46 300.81,650.81 301.81,650.19 302.82,650.9 303.83,650.53 304.83,650.51 305.84,650.52 306.85,650.38 307.85,650.22 308.86,650.6 309.87,650.51 310.87,649.97 311.88,650.13 312.89,650.7 313.89,650.08 314.9,650.06 315.91,650.29 316.91,650.08 317.92,650.56 318.93,650.56 319.93,649.77 320.94,649.82 321.95,649.74 322.95,649.96 323.96,649.79 324.97,650.11 325.97,650.27 326.98,649.5 327.99,649.43 328.99,649.48 330,649.63 331,649.39 332,649.58 333,649.44 334,649.68 335,649.82 336,649.75 337,649.17 338,649.29 339,648.75 340,649.1 341,649.27 342,649.19 343,648.44 344,648.38 345,648.96 346,648.7 347,648.68 348,647.97 349,648.39 350,647.77 351,648.33 352,648.31 353,647.8 354,647.43 355,648.01 356,648.17 357,647.75 358,647.44 359,647.33 360,647.68 361.03,647.87 362.07,647.37 363.1,647.29 364.13,648.03 365.17,647.56 366.2,647.62 367.23,647.55 368.27,647.97 369.3,648.25 370.33,647.83 371.37,648.22 372.4,647.86 373.43,647.93 374.47,648.31 375.5,648.51 376.53,648.36 377.57,648.36 378.6,648.52 379.63,648.65 380.67,648.72 381.7,648.39 382.73,648.31 383.77,648.01 384.8,648.52 385.82,649.28 386.84,649.87 387.87,651.68 388.89,651.97 389.91,653.44 390.93,653.53 391.96,654.75 392.98,656.04 394,656.86 395.07,657.31 396.15,657.59 397.23,657.68 398.3,658.8 399.33,658.74 400.37,658.48 401.4,658.56 402.43,658.77 403.47,658.49 404.5,658.48 405.57,658.96 406.65,659.66 407.73,660.14 408.8,660.25 409.93,658.9 411.07,656.79 412.2,655.31 413.33,653.29 414.47,652.01 415.6,650.3 416.62,650.57 417.63,650.63 418.65,651.02 419.67,651.51 420.68,652.08 421.7,651.98 422.73,654.27 423.77,656.45 424.8,657.51 425.83,660.09 426.87,661.63 427.9,663.85 429.1,667.65 430.3,671.7 431.55,670.48 432.8,668.93 433.83,670.49 434.87,672.99 435.9,674.84 436.93,669.37 437.97,663.58 439,658.5 440.2,656.66 441.4,654.68 442.4,654.43 443.4,654.04 444.4,654.15 445.4,653.47 446.4,653.43 447.42,652.75 448.43,651.48 449.45,651.39 450.47,650.43 451.48,650 452.5,649.36 453.85,657.22 455.2,664.52 456.3,656.86 457.4,648.58 458.43,648.64 459.47,648.06 460.5,647.88 461.53,647.88 462.57,646.92 463.6,646.35 464.61,647.16 465.62,646.82 466.63,646.93 467.64,647.1 468.65,647.15 469.65,646.7 470.66,647.24 471.67,646.7 472.68,647 473.69,647.1 474.7,646.68 475.93,649.83 477.17,652.88 478.4,655.96 479.63,656.42 480.87,657.21 482.1,656.9 483.2,667.59 484.3,677.26 485.35,667.2 486.4,657.43 487.53,658.55 488.67,660.4 489.8,661.94 490.93,662.93 492.07,664.47 493.2,665.65 494.4,666.71 495.6,668.28 496.8,669.13 497.8,668.21 498.8,667.65 499.8,666.5 500.8,665.59 501.8,665.17 503.03,665.57 504.27,665.42 505.5,665.94 506.73,664.91 507.97,664.02 509.2,663.62 511,671.37 512.25,662.77 513.5,653.82 514.58,652.41 515.65,651.03 516.72,650.68 517.8,649.35 518.87,649.1 519.94,648.92 521.01,648.53 522.09,648.58 523.16,647.5 524.23,648.09 525.3,647.5 526.33,647.32 527.36,647.77 528.39,647.76 529.42,647.49 530.46,646.96 531.49,647.51 532.52,647.32 533.55,647.47 534.58,647.7 535.61,647.07 536.64,647.71 537.67,647.23 538.71,647.18 539.74,646.98 540.77,647.05 541.8,647.19 542.83,648.46 543.87,649.86 544.9,650.2 545.93,651.34 546.97,652.45 548,653.73 549.03,657.97 550.07,662.75 551.1,666.79 552.15,663.31 553.2,660.42 554.25,657.18 555.3,653.27 556.47,652.17 557.65,651.7 558.83,650.13 560,649.88 561.02,652 562.05,653.84 563.08,656.39 564.1,658.4 565.25,657.13 566.4,656.07 567.55,655.24 568.7,653.97 569.72,653.83 570.74,653.72 571.76,653.68 572.77,653.61 573.79,653.74 574.81,653.6 575.83,653.51 576.85,653.9 577.87,653.42 578.89,653.52 579.9,653.76 580.92,654.02 581.94,653.46 582.96,653.54 583.98,653.51 585,653.34 586.01,653.47 587.03,653.86 588.05,653.32 589.07,653.58 590.09,653.41 591.11,653.67 592.13,653.85 593.14,653.25 594.16,653.59 595.18,653.32 596.2,653.6"/>
<polyline fill="none" stroke="#d422ee" stroke-width="2.6" stroke-linejoin="round" points="58,585.08 59,585.34 60,585.02 61,585.26 62,585.58 63,585.84 64,586.74 65,586.95 66,586.99 67,586.66 68,586.88 69,586.71 70,587.17 71,587.9 72,587.01 73.01,587.49 74.03,587.36 75.04,588.26 76.06,587.72 77.07,588.06 78.09,587.65 79.1,588.53 80.11,588.43 81.13,588.89 82.14,588.91 83.16,589.05 84.17,588.59 85.19,588.69 86.2,589.22 87.23,588.51 88.27,589.52 89.3,589.2 90.33,588.88 91.37,588.67 92.4,588.27 93.43,588.79 94.47,589 95.5,588.16 96.53,588.09 97.57,588.74 98.6,588.42 99.63,588.76 100.67,588.25 101.7,588.88 102.72,588.82 103.75,588.22 104.77,588.55 105.79,588.68 106.82,588.59 107.84,589.1 108.86,589.03 109.88,589.24 110.91,588.63 111.93,589 112.95,589.11 113.98,589.23 115,588.62 116.04,589.65 117.08,589.29 118.12,589.02 119.17,589.93 120.21,589.64 121.25,589.94 122.29,590.01 123.33,589.95 124.38,590.37 125.42,589.42 126.46,589.82 127.5,589.7 128.6,590.16 129.7,589.56 130.8,589.23 131.9,589.26 133,589.21 134,590.18 135,590.61 136,591.16 137.8,589.01 138.84,589.32 139.88,588.68 140.92,588.18 141.96,587.83 143,587.63 144.04,587.62 145.08,587.03 146.12,587.08 147.16,586.41 148.2,586.78 149.23,586.98 150.27,586.36 151.3,586.09 152.33,587.19 153.37,586.17 154.4,586.88 155.43,587.04 156.47,586.75 157.5,587.27 158.53,586.41 159.57,587.13 160.6,587.39 161.63,587.41 162.67,587.39 163.7,586.92 164.75,587.21 165.8,587.82 166.85,587.46 167.9,587.51 168.95,587.44 170,587.84 171.35,589.47 172.7,592.12 173.85,590.07 175,588.82 176.45,587.52 177.9,585.13 178.9,584.66 179.91,584.1 180.91,584.25 181.91,584 182.92,584.62 183.92,583.83 184.93,584.33 185.93,583.32 186.93,582.89 187.94,583.75 188.94,582.6 189.94,583.29 190.95,582.9 191.95,582.36 192.96,582.86 193.96,582.21 194.96,582.71 195.97,582.04 196.97,582.34 197.97,582.16 198.98,581.33 199.98,581.54 200.99,581.43 201.99,581.17 202.99,580.25 204,580.89 205,580.81 206.03,580.03 207.06,579.81 208.1,579.68 209.13,580.15 210.16,579.53 211.19,580.32 212.22,579.7 213.26,580.29 214.29,579.88 215.32,579.41 216.35,579.02 217.38,579.21 218.42,579.33 219.45,579.53 220.48,579.47 221.51,578.69 222.54,578.23 223.58,578.9 224.61,578.82 225.64,578.68 226.67,578.76 227.7,578.67 228.74,578.35 229.77,578.49 230.8,577.55 231.84,578.56 232.87,578.26 233.91,577.6 234.94,577.71 235.98,578.31 237.02,577.94 238.05,578.72 239.09,577.96 240.12,578.24 241.16,578.28 242.2,578.84 243.23,578.1 244.27,578.83 245.3,578.66 246.34,578.5 247.38,578.98 248.41,578.94 249.45,578.8 250.48,578.59 251.52,578.01 252.56,578.25 253.59,578.8 254.63,578.18 255.66,578.84 256.7,578.52 258,580.66 259,580.04 260,578.91 261.02,578.72 262.05,578.27 263.07,578.3 264.09,578.76 265.11,578.6 266.14,578.14 267.16,577.42 268.18,578.33 269.2,577.22 270.23,577.22 271.25,577.79 272.27,577.15 273.3,577.74 274.32,577.58 275.34,576.87 276.36,577.68 277.39,577.71 278.41,577.22 279.43,577.52 280.45,577.23 281.48,576.75 282.5,577.09 283.52,577.26 284.54,576.99 285.56,576.29 286.57,576.67 287.59,577.09 288.61,576.72 289.63,576.51 290.65,576.88 291.67,576.54 292.69,576.97 293.7,576.54 294.72,577.33 295.74,576.74 296.76,577.64 297.78,576.67 298.8,577.33 299.81,577.38 300.83,576.87 301.85,577.42 302.87,577.35 303.89,577.46 304.91,576.97 305.93,577.35 306.94,577.81 307.96,577.58 308.98,577.16 310,577.3 311,577.98 312,577.01 313,577.55 314,577.62 315,577.54 316,577.05 317,577.2 318,578.11 319,577.67 320,577.5 321,577.72 322,577.26 323,577.32 324,578.24 325,578.19 326,577.54 327,577.71 328,577.44 329,577.76 330,578.03 331,578.3 332,578.01 333,578.42 334,578.6 335,578.08 336,577.45 337,577.56 338,578.21 339,577.56 340,578.48 341,577.47 342,577.47 343,578.59 344,577.89 345,578.07 346,578.13 347,577.57 348,577.84 349,577.9 350,578.35 351,578.42 352,578.33 353,577.72 354,578.07 355,578.63 356,577.76 357,577.98 358,578.31 359,578.78 360,577.63 361,578.52 362,578.33 363,578.5 364,578.97 365,578.17 366,578.86 367,578.61 368,579.23 369,579.27 370,579 371.07,578.9 372.14,579.86 373.21,580 374.28,580.06 375.35,580.49 376.42,580.96 377.49,580.33 378.56,581.09 379.63,581.45 380.7,581.02 382.3,585.68 383.52,583.3 384.75,582.4 385.98,580.27 387.2,579.07 388.23,582.86 389.27,586.64 390.3,590.04 391.33,588.48 392.37,586.97 393.4,585.57 394.46,585.73 395.51,586.94 396.57,586.75 397.63,587.74 398.69,587.92 399.74,588.58 400.8,589.35 401.86,590.37 402.91,592.31 403.97,593.69 405.03,594.73 406.09,596.53 407.14,597.54 408.2,599.02 409.27,595.08 410.35,592.15 411.43,588.55 412.5,585.49 413.57,587.24 414.65,587.31 415.73,588.79 416.8,589.45 418.02,591.63 419.25,593.7 420.48,595.47 421.7,597.46 422.7,600.18 423.7,602.22 424.7,605.65 425.7,608.1 426.7,610.23 427.7,613.99 428.7,617.93 429.7,622.01 430.73,619.89 431.77,619.6 432.8,618.1 434.03,619.44 435.27,620.66 436.5,622.06 437.75,614.39 439,607.06 440.8,595.63 442.7,616.26 443.9,592.45 445.12,590.43 446.35,589.27 447.57,589.3 448.8,587.33 450.03,588.71 451.27,588.85 452.5,589.27 453.85,604.06 455.2,619.61 456.3,601.07 457.4,581.67 458.43,580.16 459.47,579.04 460.5,578.31 461.53,576.7 462.57,574.66 463.6,573.38 464.83,573.87 466.05,574.7 467.27,574.67 468.5,575.23 469.53,576.44 470.57,577.15 471.6,578.42 472.63,579.83 473.67,580.57 474.7,581.07 475.73,591.25 476.77,601.35 477.8,610.78 479,600.52 480.2,590.27 482.1,595.54 483.3,612.57 484.5,630.65 486.4,580.38 487.4,580.7 488.4,579.04 489.4,578.9 490.4,578.2 491.4,577.35 492.4,576.93 493.4,576.55 494.4,575.18 495.47,575.95 496.55,577.19 497.62,579.08 498.7,579.82 499.77,581.08 500.85,581.72 501.93,582.71 503,584.23 504.23,587.31 505.45,590.95 506.67,593.27 507.9,596.71 509.15,605.78 510.4,614.69 511.65,599.36 512.9,584.95 513.9,581.66 514.9,579.83 515.9,577 517.5,589.83 518.55,581.01 519.6,572.52 520.64,573.12 521.68,574.17 522.72,574.65 523.76,575.4 524.8,575.3 525.84,575.38 526.88,576.77 527.92,576.61 528.96,577.66 530,577.89 531.12,578.11 532.24,577.9 533.36,578.41 534.48,579.32 535.6,579.25 536.63,579.76 537.67,579.67 538.7,579.34 539.73,579.88 540.77,578.7 541.8,579.18 542.84,580.98 543.88,582.04 544.92,584.67 545.96,585.44 547,587.6 548.02,596.28 549.05,605.46 550.08,614.61 551.1,623.45 552.14,614.21 553.18,605.7 554.22,596.55 555.26,586.8 556.3,578.77 557.33,577.39 558.37,577.2 559.4,576.94 560.43,589.07 561.47,601.26 562.5,613.78 563.53,601.12 564.57,589.99 565.6,578.35 566.63,577.24 567.67,576.69 568.7,576.13 569.72,576.82 570.74,576.84 571.76,576.63 572.77,576.29 573.79,576.79 574.81,577.49 575.83,577.18 576.85,577.28 577.87,577.73 578.89,577.17 579.9,578.05 580.92,578.24 581.94,577.71 582.96,578.23 583.98,578.9 585,578.34 586.01,578.82 587.03,578.75 588.05,579.15 589.07,579.11 590.09,579.2 591.11,580.05 592.13,579.92 593.14,580.44 594.16,579.8 595.18,580.11 596.2,580.3"/>
<rect x="57.6" y="530.4" width="538.6" height="435" fill="none" stroke="#000" stroke-width="2"/>
<line x1="84.9" y1="887.3" x2="96.67" y2="910.63" stroke="#000" stroke-width="1.8" />
<polygon points="101.4,920 93.1,912.43 100.24,908.82" fill="#000"/>
<line x1="174.2" y1="855.6" x2="186.56" y2="879.38" stroke="#000" stroke-width="1.8" />
<polygon points="191.4,888.7 183.01,881.23 190.11,877.54" fill="#000"/>
<line x1="391.5" y1="860.5" x2="371.93" y2="878" stroke="#000" stroke-width="1.8" />
<polygon points="364.1,885 369.26,875.02 374.59,880.98" fill="#000"/>
<line x1="407.4" y1="875.8" x2="402.24" y2="900.62" stroke="#000" stroke-width="1.8" />
<polygon points="400.1,910.9 398.32,899.81 406.15,901.43" fill="#000"/>
<line x1="483.1" y1="839.2" x2="474.97" y2="858.52" stroke="#000" stroke-width="1.8" />
<polygon points="470.9,868.2 471.28,856.97 478.66,860.07" fill="#000"/>
<line x1="515.1" y1="840.7" x2="525.14" y2="888.42" stroke="#000" stroke-width="1.8" />
<polygon points="527.3,898.7 521.22,889.25 529.05,887.6" fill="#000"/>
<text x="129.3" y="939.4" font-size="27.5" font-family="Liberation Serif" font-weight="bold" text-anchor="middle" textLength="51.8" lengthAdjust="spacingAndGlyphs">3433</text>
<text x="211.7" y="914.4" font-size="27.5" font-family="Liberation Serif" font-weight="bold" text-anchor="middle" textLength="51.8" lengthAdjust="spacingAndGlyphs">2929</text>
<text x="350.8" y="912.6" font-size="27.5" font-family="Liberation Serif" font-weight="bold" text-anchor="middle" textLength="51.8" lengthAdjust="spacingAndGlyphs">1663</text>
<text x="400.4" y="941.6" font-size="27.5" font-family="Liberation Serif" font-weight="bold" text-anchor="middle" textLength="51.8" lengthAdjust="spacingAndGlyphs">1584</text>
<text x="476.5" y="894.3" font-size="27.5" font-family="Liberation Serif" font-weight="bold" text-anchor="middle" textLength="51.8" lengthAdjust="spacingAndGlyphs">1146</text>
<text x="543" y="927.9" font-size="27.5" font-family="Liberation Serif" font-weight="bold" text-anchor="middle" textLength="38.6" lengthAdjust="spacingAndGlyphs">990</text>
<text x="298.4" y="619.1" font-size="30" font-family="Liberation Serif" font-weight="bold" text-anchor="middle" >ZIF-8</text>
<text x="194.3" y="688.6" font-size="30" font-family="Liberation Serif" font-weight="bold" text-anchor="start" textLength="186.3" lengthAdjust="spacingAndGlyphs">CS/ZIF-8-60%</text>
<text x="194.3" y="754.9" font-size="30" font-family="Liberation Serif" font-weight="bold" text-anchor="start" textLength="186.3" lengthAdjust="spacingAndGlyphs">CS/ZIF-8-51%</text>
<text x="194.3" y="813.1" font-size="30" font-family="Liberation Serif" font-weight="bold" text-anchor="start" textLength="186.3" lengthAdjust="spacingAndGlyphs">CS/ZIF-8-36%</text>
<text x="296.8" y="860.3" font-size="30" font-family="Liberation Serif" font-weight="bold" text-anchor="middle" >CS</text>
<text x="327.5" y="1051" font-size="38" font-family="Liberation Serif" font-weight="bold" text-anchor="middle" >Wavenumber (cm<tspan dy="-15.5" font-size="26">-1</tspan><tspan dy="15.5">)</tspan></text>
<text transform="translate(33,735) rotate(-90)" font-size="38" font-family="Liberation Serif" font-weight="bold" text-anchor="middle" >Transmittance</text>
<text x="5.2" y="511.5" font-size="33" font-family="Liberation Sans" font-weight="bold" text-anchor="start" >C</text>
</g>
<g id="D">
<line x1="735.5" y1="969.2" x2="735.5" y2="977.7" stroke="#000" stroke-width="2" />
<line x1="789.35" y1="969.2" x2="789.35" y2="973.5" stroke="#000" stroke-width="2" />
<line x1="843.2" y1="969.2" x2="843.2" y2="977.7" stroke="#000" stroke-width="2" />
<line x1="897.05" y1="969.2" x2="897.05" y2="973.5" stroke="#000" stroke-width="2" />
<line x1="950.9" y1="969.2" x2="950.9" y2="977.7" stroke="#000" stroke-width="2" />
<line x1="1004.75" y1="969.2" x2="1004.75" y2="973.5" stroke="#000" stroke-width="2" />
<line x1="1058.6" y1="969.2" x2="1058.6" y2="977.7" stroke="#000" stroke-width="2" />
<line x1="1112.45" y1="969.2" x2="1112.45" y2="973.5" stroke="#000" stroke-width="2" />
<line x1="1166.3" y1="969.2" x2="1166.3" y2="977.7" stroke="#000" stroke-width="2" />
<line x1="1220.15" y1="969.2" x2="1220.15" y2="973.5" stroke="#000" stroke-width="2" />
<line x1="1274" y1="969.2" x2="1274" y2="977.7" stroke="#000" stroke-width="2" />
<text x="735.5" y="1008.3" font-size="33" font-family="Liberation Serif" font-weight="bold" text-anchor="middle" >0.0</text>
<text x="843.2" y="1008.3" font-size="33" font-family="Liberation Serif" font-weight="bold" text-anchor="middle" >0.2</text>
<text x="950.9" y="1008.3" font-size="33" font-family="Liberation Serif" font-weight="bold" text-anchor="middle" >0.4</text>
<text x="1058.6" y="1008.3" font-size="33" font-family="Liberation Serif" font-weight="bold" text-anchor="middle" >0.6</text>
<text x="1166.3" y="1008.3" font-size="33" font-family="Liberation Serif" font-weight="bold" text-anchor="middle" >0.8</text>
<text x="1274" y="1008.3" font-size="33" font-family="Liberation Serif" font-weight="bold" text-anchor="middle" >1.0</text>
<line x1="727" y1="945.2" x2="735.5" y2="945.2" stroke="#000" stroke-width="2" />
<line x1="731.2" y1="921.07" x2="735.5" y2="921.07" stroke="#000" stroke-width="2" />
<line x1="727" y1="896.94" x2="735.5" y2="896.94" stroke="#000" stroke-width="2" />
<line x1="731.2" y1="872.8" x2="735.5" y2="872.8" stroke="#000" stroke-width="2" />
<line x1="727" y1="848.67" x2="735.5" y2="848.67" stroke="#000" stroke-width="2" />
<line x1="731.2" y1="824.54" x2="735.5" y2="824.54" stroke="#000" stroke-width="2" />
<line x1="727" y1="800.4" x2="735.5" y2="800.4" stroke="#000" stroke-width="2" />
<line x1="731.2" y1="776.27" x2="735.5" y2="776.27" stroke="#000" stroke-width="2" />
<line x1="727" y1="752.14" x2="735.5" y2="752.14" stroke="#000" stroke-width="2" />
<line x1="731.2" y1="728.01" x2="735.5" y2="728.01" stroke="#000" stroke-width="2" />
<line x1="727" y1="703.88" x2="735.5" y2="703.88" stroke="#000" stroke-width="2" />
<line x1="731.2" y1="679.74" x2="735.5" y2="679.74" stroke="#000" stroke-width="2" />
<line x1="727" y1="655.61" x2="735.5" y2="655.61" stroke="#000" stroke-width="2" />
<line x1="731.2" y1="631.48" x2="735.5" y2="631.48" stroke="#000" stroke-width="2" />
<line x1="727" y1="607.35" x2="735.5" y2="607.35" stroke="#000" stroke-width="2" />
<line x1="731.2" y1="583.21" x2="735.5" y2="583.21" stroke="#000" stroke-width="2" />
<line x1="727" y1="559.08" x2="735.5" y2="559.08" stroke="#000" stroke-width="2" />
<text x="721.5" y="955.5" font-size="33" font-family="Liberation Serif" font-weight="bold" text-anchor="end" >0</text>
<text x="721.5" y="907.24" font-size="33" font-family="Liberation Serif" font-weight="bold" text-anchor="end" >50</text>
<text x="721.5" y="858.97" font-size="33" font-family="Liberation Serif" font-weight="bold" text-anchor="end" >100</text>
<text x="721.5" y="810.7" font-size="33" font-family="Liberation Serif" font-weight="bold" text-anchor="end" >150</text>
<text x="721.5" y="762.44" font-size="33" font-family="Liberation Serif" font-weight="bold" text-anchor="end" >200</text>
<text x="721.5" y="714.17" font-size="33" font-family="Liberation Serif" font-weight="bold" text-anchor="end" >250</text>
<text x="721.5" y="665.91" font-size="33" font-family="Liberation Serif" font-weight="bold" text-anchor="end" >300</text>
<text x="721.5" y="617.64" font-size="33" font-family="Liberation Serif" font-weight="bold" text-anchor="end" >350</text>
<text x="721.5" y="569.38" font-size="33" font-family="Liberation Serif" font-weight="bold" text-anchor="end" >400</text>
<polyline fill="none" stroke="#4a4a4a" stroke-width="2.4" stroke-linejoin="round" points="736.5,944.5 738,942.5 741,941.6 745,941.05 750,940.63 755,940.18 758.7,939.75 777.58,938.81 796.46,937.95 815.34,937.1 834.22,936.25 853.1,935.22 871.98,934.16 890.86,933.1 909.74,931.93 928.62,930.73 947.5,929.52 966.38,928.26 985.26,926.99 1004.14,925.72 1023.02,924.56 1041.9,923.42 1060.78,922.28 1079.66,921.07 1098.54,919.85 1117.42,918.63 1136.3,917.4 1155.18,916.08 1174.06,914.71 1192.94,913.35 1211.82,911.91 1230.7,910.38 1244,908 1252,906 1260,903 1267,898.5 1272,893"/>
<rect x="732.59" y="940.59" width="7.82" height="7.82" fill="#4a4a4a"/>
<rect x="734.09" y="938.59" width="7.82" height="7.82" fill="#4a4a4a"/>
<rect x="737.09" y="937.69" width="7.82" height="7.82" fill="#4a4a4a"/>
<rect x="741.09" y="937.14" width="7.82" height="7.82" fill="#4a4a4a"/>
<rect x="746.09" y="936.72" width="7.82" height="7.82" fill="#4a4a4a"/>
<rect x="751.09" y="936.27" width="7.82" height="7.82" fill="#4a4a4a"/>
<rect x="754.79" y="935.84" width="7.82" height="7.82" fill="#4a4a4a"/>
<rect x="773.67" y="934.9" width="7.82" height="7.82" fill="#4a4a4a"/>
<rect x="792.55" y="934.04" width="7.82" height="7.82" fill="#4a4a4a"/>
<rect x="811.43" y="933.19" width="7.82" height="7.82" fill="#4a4a4a"/>
<rect x="830.31" y="932.34" width="7.82" height="7.82" fill="#4a4a4a"/>
<rect x="849.19" y="931.31" width="7.82" height="7.82" fill="#4a4a4a"/>
<rect x="868.07" y="930.25" width="7.82" height="7.82" fill="#4a4a4a"/>
<rect x="886.95" y="929.19" width="7.82" height="7.82" fill="#4a4a4a"/>
<rect x="905.83" y="928.02" width="7.82" height="7.82" fill="#4a4a4a"/>
<rect x="924.71" y="926.82" width="7.82" height="7.82" fill="#4a4a4a"/>
<rect x="943.59" y="925.61" width="7.82" height="7.82" fill="#4a4a4a"/>
<rect x="962.47" y="924.35" width="7.82" height="7.82" fill="#4a4a4a"/>
<rect x="981.35" y="923.08" width="7.82" height="7.82" fill="#4a4a4a"/>
<rect x="1000.23" y="921.81" width="7.82" height="7.82" fill="#4a4a4a"/>
<rect x="1019.11" y="920.65" width="7.82" height="7.82" fill="#4a4a4a"/>
<rect x="1037.99" y="919.51" width="7.82" height="7.82" fill="#4a4a4a"/>
<rect x="1056.87" y="918.37" width="7.82" height="7.82" fill="#4a4a4a"/>
<rect x="1075.75" y="917.16" width="7.82" height="7.82" fill="#4a4a4a"/>
<rect x="1094.63" y="915.94" width="7.82" height="7.82" fill="#4a4a4a"/>
<rect x="1113.51" y="914.72" width="7.82" height="7.82" fill="#4a4a4a"/>
<rect x="1132.39" y="913.49" width="7.82" height="7.82" fill="#4a4a4a"/>
<rect x="1151.27" y="912.17" width="7.82" height="7.82" fill="#4a4a4a"/>
<rect x="1170.15" y="910.8" width="7.82" height="7.82" fill="#4a4a4a"/>
<rect x="1189.03" y="909.44" width="7.82" height="7.82" fill="#4a4a4a"/>
<rect x="1207.91" y="908" width="7.82" height="7.82" fill="#4a4a4a"/>
<rect x="1226.79" y="906.47" width="7.82" height="7.82" fill="#4a4a4a"/>
<rect x="1240.09" y="904.09" width="7.82" height="7.82" fill="#4a4a4a"/>
<rect x="1248.09" y="902.09" width="7.82" height="7.82" fill="#4a4a4a"/>
<rect x="1256.09" y="899.09" width="7.82" height="7.82" fill="#4a4a4a"/>
<rect x="1263.09" y="894.59" width="7.82" height="7.82" fill="#4a4a4a"/>
<rect x="1268.09" y="889.09" width="7.82" height="7.82" fill="#4a4a4a"/>
<polyline fill="none" stroke="#f53b3b" stroke-width="2.4" stroke-linejoin="round" points="761.7,941.9 780.58,940.83 799.46,939.76 818.34,938.69 837.22,937.62 856.1,936.56 874.98,935.5 893.86,934.44 912.74,933.24 931.62,932.03 950.5,930.83 969.38,929.56 988.26,928.29 1007.14,927.02 1026.02,925.88 1044.9,924.74 1063.78,923.59 1082.66,921.97 1101.54,920.47 1120.42,919.57 1139.3,918.68 1158.18,917.61 1177.06,916.12 1195.94,914.64 1214.82,912.27 1233.7,909.3 1248.6,904.5 1256.6,899 1264.1,892.5 1270.6,885.5"/>
<circle cx="761.7" cy="941.9" r="5" fill="#f53b3b"/>
<circle cx="780.58" cy="940.83" r="5" fill="#f53b3b"/>
<circle cx="799.46" cy="939.76" r="5" fill="#f53b3b"/>
<circle cx="818.34" cy="938.69" r="5" fill="#f53b3b"/>
<circle cx="837.22" cy="937.62" r="5" fill="#f53b3b"/>
<circle cx="856.1" cy="936.56" r="5" fill="#f53b3b"/>
<circle cx="874.98" cy="935.5" r="5" fill="#f53b3b"/>
<circle cx="893.86" cy="934.44" r="5" fill="#f53b3b"/>
<circle cx="912.74" cy="933.24" r="5" fill="#f53b3b"/>
<circle cx="931.62" cy="932.03" r="5" fill="#f53b3b"/>
<circle cx="950.5" cy="930.83" r="5" fill="#f53b3b"/>
<circle cx="969.38" cy="929.56" r="5" fill="#f53b3b"/>
<circle cx="988.26" cy="928.29" r="5" fill="#f53b3b"/>
<circle cx="1007.14" cy="927.02" r="5" fill="#f53b3b"/>
<circle cx="1026.02" cy="925.88" r="5" fill="#f53b3b"/>
<circle cx="1044.9" cy="924.74" r="5" fill="#f53b3b"/>
<circle cx="1063.78" cy="923.59" r="5" fill="#f53b3b"/>
<circle cx="1082.66" cy="921.97" r="5" fill="#f53b3b"/>
<circle cx="1101.54" cy="920.47" r="5" fill="#f53b3b"/>
<circle cx="1120.42" cy="919.57" r="5" fill="#f53b3b"/>
<circle cx="1139.3" cy="918.68" r="5" fill="#f53b3b"/>
<circle cx="1158.18" cy="917.61" r="5" fill="#f53b3b"/>
<circle cx="1177.06" cy="916.12" r="5" fill="#f53b3b"/>
<circle cx="1195.94" cy="914.64" r="5" fill="#f53b3b"/>
<circle cx="1214.82" cy="912.27" r="5" fill="#f53b3b"/>
<circle cx="1233.7" cy="909.3" r="5" fill="#f53b3b"/>
<circle cx="1248.6" cy="904.5" r="5" fill="#f53b3b"/>
<circle cx="1256.6" cy="899" r="5" fill="#f53b3b"/>
<circle cx="1264.1" cy="892.5" r="5" fill="#f53b3b"/>
<circle cx="1270.6" cy="885.5" r="5" fill="#f53b3b"/>
<polyline fill="none" stroke="#1759e4" stroke-width="2.2" stroke-linejoin="round" points="738.2,944 739.6,928 740.6,915 741.6,906.5 745.3,902 752.3,900.3 761.7,898.3 780.58,896.74 799.46,895.18 818.34,893.62 837.22,892.06 856.1,890.41 874.98,888.74 893.86,887.08 912.74,885.62 931.62,884.17 950.5,882.72 969.38,881.27 988.26,879.82 1007.14,878 1026.02,876.17 1044.9,874.34 1063.78,872.51 1082.66,871.18 1101.54,869.73 1120.42,868.29 1139.3,866.84 1158.18,865.36 1177.06,863.88 1195.94,862.4 1214.82,860.57 1233.7,858.01 1250.9,853.8 1260.7,846.5 1268,839.2 1271.7,822.1"/>
<polygon points="738.2,938.06 743.6,947.78 732.8,947.78" fill="#1759e4"/>
<polygon points="739.6,922.06 745,931.78 734.2,931.78" fill="#1759e4"/>
<polygon points="740.6,909.06 746,918.78 735.2,918.78" fill="#1759e4"/>
<polygon points="741.6,900.56 747,910.28 736.2,910.28" fill="#1759e4"/>
<polygon points="745.3,896.06 750.7,905.78 739.9,905.78" fill="#1759e4"/>
<polygon points="752.3,894.36 757.7,904.08 746.9,904.08" fill="#1759e4"/>
<polygon points="761.7,892.36 767.1,902.08 756.3,902.08" fill="#1759e4"/>
<polygon points="780.58,890.8 785.98,900.52 775.18,900.52" fill="#1759e4"/>
<polygon points="799.46,889.24 804.86,898.96 794.06,898.96" fill="#1759e4"/>
<polygon points="818.34,887.68 823.74,897.4 812.94,897.4" fill="#1759e4"/>
<polygon points="837.22,886.12 842.62,895.84 831.82,895.84" fill="#1759e4"/>
<polygon points="856.1,884.47 861.5,894.19 850.7,894.19" fill="#1759e4"/>
<polygon points="874.98,882.8 880.38,892.52 869.58,892.52" fill="#1759e4"/>
<polygon points="893.86,881.14 899.26,890.86 888.46,890.86" fill="#1759e4"/>
<polygon points="912.74,879.68 918.14,889.4 907.34,889.4" fill="#1759e4"/>
<polygon points="931.62,878.23 937.02,887.95 926.22,887.95" fill="#1759e4"/>
<polygon points="950.5,876.78 955.9,886.5 945.1,886.5" fill="#1759e4"/>
<polygon points="969.38,875.33 974.78,885.05 963.98,885.05" fill="#1759e4"/>
<polygon points="988.26,873.88 993.66,883.6 982.86,883.6" fill="#1759e4"/>
<polygon points="1007.14,872.06 1012.54,881.78 1001.74,881.78" fill="#1759e4"/>
<polygon points="1026.02,870.23 1031.42,879.95 1020.62,879.95" fill="#1759e4"/>
<polygon points="1044.9,868.4 1050.3,878.12 1039.5,878.12" fill="#1759e4"/>
<polygon points="1063.78,866.57 1069.18,876.29 1058.38,876.29" fill="#1759e4"/>
<polygon points="1082.66,865.24 1088.06,874.96 1077.26,874.96" fill="#1759e4"/>
<polygon points="1101.54,863.79 1106.94,873.51 1096.14,873.51" fill="#1759e4"/>
<polygon points="1120.42,862.35 1125.82,872.07 1115.02,872.07" fill="#1759e4"/>
<polygon points="1139.3,860.9 1144.7,870.62 1133.9,870.62" fill="#1759e4"/>
<polygon points="1158.18,859.42 1163.58,869.14 1152.78,869.14" fill="#1759e4"/>
<polygon points="1177.06,857.94 1182.46,867.66 1171.66,867.66" fill="#1759e4"/>
<polygon points="1195.94,856.46 1201.34,866.18 1190.54,866.18" fill="#1759e4"/>
<polygon points="1214.82,854.63 1220.22,864.35 1209.42,864.35" fill="#1759e4"/>
<polygon points="1233.7,852.07 1239.1,861.79 1228.3,861.79" fill="#1759e4"/>
<polygon points="1250.9,847.86 1256.3,857.58 1245.5,857.58" fill="#1759e4"/>
<polygon points="1260.7,840.56 1266.1,850.28 1255.3,850.28" fill="#1759e4"/>
<polygon points="1268,833.26 1273.4,842.98 1262.6,842.98" fill="#1759e4"/>
<polygon points="1271.7,816.16 1277.1,825.88 1266.3,825.88" fill="#1759e4"/>
<polyline fill="none" stroke="#28a05c" stroke-width="2.6" stroke-linejoin="round" points="761.7,900 780.58,898.52 799.46,897.03 818.34,895.55 837.22,894.06 856.1,892.73 874.98,891.4 893.86,890.07 912.74,888.95 931.62,887.84 950.5,886.73 969.38,885.62 988.26,884.51 1007.14,883.57 1026.02,882.63 1044.9,881.68 1063.78,880.54 1082.66,879.19 1101.54,877.86 1120.42,876.55 1139.3,875.19 1158.18,873.74 1177.06,872 1195.94,869.75 1214.82,866.62 1233.7,859.31 1245,850.02 1252.2,844.1 1260.7,829.4 1265.6,826.5 1271.7,822.1"/>
<polygon points="761.7,905.94 767.1,896.22 756.3,896.22" fill="#28a05c"/>
<polygon points="780.58,904.46 785.98,894.74 775.18,894.74" fill="#28a05c"/>
<polygon points="799.46,902.97 804.86,893.25 794.06,893.25" fill="#28a05c"/>
<polygon points="818.34,901.49 823.74,891.77 812.94,891.77" fill="#28a05c"/>
<polygon points="837.22,900 842.62,890.28 831.82,890.28" fill="#28a05c"/>
<polygon points="856.1,898.67 861.5,888.95 850.7,888.95" fill="#28a05c"/>
<polygon points="874.98,897.34 880.38,887.62 869.58,887.62" fill="#28a05c"/>
<polygon points="893.86,896.01 899.26,886.29 888.46,886.29" fill="#28a05c"/>
<polygon points="912.74,894.89 918.14,885.17 907.34,885.17" fill="#28a05c"/>
<polygon points="931.62,893.78 937.02,884.06 926.22,884.06" fill="#28a05c"/>
<polygon points="950.5,892.67 955.9,882.95 945.1,882.95" fill="#28a05c"/>
<polygon points="969.38,891.56 974.78,881.84 963.98,881.84" fill="#28a05c"/>
<polygon points="988.26,890.45 993.66,880.73 982.86,880.73" fill="#28a05c"/>
<polygon points="1007.14,889.51 1012.54,879.79 1001.74,879.79" fill="#28a05c"/>
<polygon points="1026.02,888.57 1031.42,878.85 1020.62,878.85" fill="#28a05c"/>
<polygon points="1044.9,887.62 1050.3,877.9 1039.5,877.9" fill="#28a05c"/>
<polygon points="1063.78,886.48 1069.18,876.76 1058.38,876.76" fill="#28a05c"/>
<polygon points="1082.66,885.13 1088.06,875.41 1077.26,875.41" fill="#28a05c"/>
<polygon points="1101.54,883.8 1106.94,874.08 1096.14,874.08" fill="#28a05c"/>
<polygon points="1120.42,882.49 1125.82,872.77 1115.02,872.77" fill="#28a05c"/>
<polygon points="1139.3,881.13 1144.7,871.41 1133.9,871.41" fill="#28a05c"/>
<polygon points="1158.18,879.68 1163.58,869.96 1152.78,869.96" fill="#28a05c"/>
<polygon points="1177.06,877.94 1182.46,868.22 1171.66,868.22" fill="#28a05c"/>
<polygon points="1195.94,875.69 1201.34,865.97 1190.54,865.97" fill="#28a05c"/>
<polygon points="1214.82,872.56 1220.22,862.84 1209.42,862.84" fill="#28a05c"/>
<polygon points="1233.7,865.25 1239.1,855.53 1228.3,855.53" fill="#28a05c"/>
<polygon points="1245,855.96 1250.4,846.24 1239.6,846.24" fill="#28a05c"/>
<polygon points="1252.2,850.04 1257.6,840.32 1246.8,840.32" fill="#28a05c"/>
<polygon points="1260.7,835.34 1266.1,825.62 1255.3,825.62" fill="#28a05c"/>
<polygon points="1265.6,832.44 1271,822.72 1260.2,822.72" fill="#28a05c"/>
<polygon points="1271.7,828.04 1277.1,818.32 1266.3,818.32" fill="#28a05c"/>
<polyline fill="none" stroke="#b16ae8" stroke-width="2.2" stroke-linejoin="round" points="738.4,944 739.2,915 740,893 741.4,884.4 744.1,877.3 751.1,873.8 761.7,871.5 780.58,869.61 799.46,867.29 818.34,864.94 837.22,862.6 856.1,860.97 874.98,859.37 893.86,857.78 912.74,856.38 931.62,854.99 950.5,853.59 969.38,852.2 988.26,850.81 1007.14,848.55 1026.02,846.28 1044.9,844.01 1063.78,841.74 1082.66,839.47 1101.54,837.17 1120.42,834.86 1139.3,832.56 1158.18,829.99 1177.06,827.42 1195.94,824.78 1214.82,820.64 1233.7,810 1250.9,792.8 1254.6,778.1 1259.5,766 1264.4,748.8 1268,729.3 1271.7,717.1"/>
<polygon points="738.4,938.75 743.65,944 738.4,949.25 733.15,944" fill="#b16ae8"/>
<polygon points="739.2,909.75 744.45,915 739.2,920.25 733.95,915" fill="#b16ae8"/>
<polygon points="740,887.75 745.25,893 740,898.25 734.75,893" fill="#b16ae8"/>
<polygon points="741.4,879.15 746.65,884.4 741.4,889.65 736.15,884.4" fill="#b16ae8"/>
<polygon points="744.1,872.05 749.35,877.3 744.1,882.55 738.85,877.3" fill="#b16ae8"/>
<polygon points="751.1,868.55 756.35,873.8 751.1,879.05 745.85,873.8" fill="#b16ae8"/>
<polygon points="761.7,866.25 766.95,871.5 761.7,876.75 756.45,871.5" fill="#b16ae8"/>
<polygon points="780.58,864.36 785.83,869.61 780.58,874.86 775.33,869.61" fill="#b16ae8"/>
<polygon points="799.46,862.04 804.71,867.29 799.46,872.54 794.21,867.29" fill="#b16ae8"/>
<polygon points="818.34,859.69 823.59,864.94 818.34,870.19 813.09,864.94" fill="#b16ae8"/>
<polygon points="837.22,857.35 842.47,862.6 837.22,867.85 831.97,862.6" fill="#b16ae8"/>
<polygon points="856.1,855.72 861.35,860.97 856.1,866.22 850.85,860.97" fill="#b16ae8"/>
<polygon points="874.98,854.12 880.23,859.37 874.98,864.62 869.73,859.37" fill="#b16ae8"/>
<polygon points="893.86,852.53 899.11,857.78 893.86,863.03 888.61,857.78" fill="#b16ae8"/>
<polygon points="912.74,851.13 917.99,856.38 912.74,861.63 907.49,856.38" fill="#b16ae8"/>
<polygon points="931.62,849.74 936.87,854.99 931.62,860.24 926.37,854.99" fill="#b16ae8"/>
<polygon points="950.5,848.34 955.75,853.59 950.5,858.84 945.25,853.59" fill="#b16ae8"/>
<polygon points="969.38,846.95 974.63,852.2 969.38,857.45 964.13,852.2" fill="#b16ae8"/>
<polygon points="988.26,845.56 993.51,850.81 988.26,856.06 983.01,850.81" fill="#b16ae8"/>
<polygon points="1007.14,843.3 1012.39,848.55 1007.14,853.8 1001.89,848.55" fill="#b16ae8"/>
<polygon points="1026.02,841.03 1031.27,846.28 1026.02,851.53 1020.77,846.28" fill="#b16ae8"/>
<polygon points="1044.9,838.76 1050.15,844.01 1044.9,849.26 1039.65,844.01" fill="#b16ae8"/>
<polygon points="1063.78,836.49 1069.03,841.74 1063.78,846.99 1058.53,841.74" fill="#b16ae8"/>
<polygon points="1082.66,834.22 1087.91,839.47 1082.66,844.72 1077.41,839.47" fill="#b16ae8"/>
<polygon points="1101.54,831.92 1106.79,837.17 1101.54,842.42 1096.29,837.17" fill="#b16ae8"/>
<polygon points="1120.42,829.61 1125.67,834.86 1120.42,840.11 1115.17,834.86" fill="#b16ae8"/>
<polygon points="1139.3,827.31 1144.55,832.56 1139.3,837.81 1134.05,832.56" fill="#b16ae8"/>
<polygon points="1158.18,824.74 1163.43,829.99 1158.18,835.24 1152.93,829.99" fill="#b16ae8"/>
<polygon points="1177.06,822.17 1182.31,827.42 1177.06,832.67 1171.81,827.42" fill="#b16ae8"/>
<polygon points="1195.94,819.53 1201.19,824.78 1195.94,830.03 1190.69,824.78" fill="#b16ae8"/>
<polygon points="1214.82,815.39 1220.07,820.64 1214.82,825.89 1209.57,820.64" fill="#b16ae8"/>
<polygon points="1233.7,804.75 1238.95,810 1233.7,815.25 1228.45,810" fill="#b16ae8"/>
<polygon points="1250.9,787.55 1256.15,792.8 1250.9,798.05 1245.65,792.8" fill="#b16ae8"/>
<polygon points="1254.6,772.85 1259.85,778.1 1254.6,783.35 1249.35,778.1" fill="#b16ae8"/>
<polygon points="1259.5,760.75 1264.75,766 1259.5,771.25 1254.25,766" fill="#b16ae8"/>
<polygon points="1264.4,743.55 1269.65,748.8 1264.4,754.05 1259.15,748.8" fill="#b16ae8"/>
<polygon points="1268,724.05 1273.25,729.3 1268,734.55 1262.75,729.3" fill="#b16ae8"/>
<polygon points="1271.7,711.85 1276.95,717.1 1271.7,722.35 1266.45,717.1" fill="#b16ae8"/>
<polyline fill="none" stroke="#d19e14" stroke-width="2.2" stroke-linejoin="round" points="838.72,865.85 857.6,864.38 876.48,862.91 895.36,861.43 914.24,859.89 933.12,858.35 952,856.8 970.88,855.26 989.76,853.56 1008.64,851.7 1027.52,849.84 1046.4,847.98 1065.28,846.12 1084.16,844.26 1103.04,842.19 1121.92,839.96 1140.8,837.75 1159.68,835.54 1178.56,832.38 1197.44,826.39 1216.32,815.57 1235.2,794.3 1253.4,753.7 1259.5,739.1 1261.9,724.4 1269.3,706.1"/>
<polygon points="832.56,865.85 842.64,860.25 842.64,871.45" fill="#d19e14"/>
<polygon points="851.44,864.38 861.52,858.78 861.52,869.98" fill="#d19e14"/>
<polygon points="870.32,862.91 880.4,857.31 880.4,868.51" fill="#d19e14"/>
<polygon points="889.2,861.43 899.28,855.83 899.28,867.03" fill="#d19e14"/>
<polygon points="908.08,859.89 918.16,854.29 918.16,865.49" fill="#d19e14"/>
<polygon points="926.96,858.35 937.04,852.75 937.04,863.95" fill="#d19e14"/>
<polygon points="945.84,856.8 955.92,851.2 955.92,862.4" fill="#d19e14"/>
<polygon points="964.72,855.26 974.8,849.66 974.8,860.86" fill="#d19e14"/>
<polygon points="983.6,853.56 993.68,847.96 993.68,859.16" fill="#d19e14"/>
<polygon points="1002.48,851.7 1012.56,846.1 1012.56,857.3" fill="#d19e14"/>
<polygon points="1021.36,849.84 1031.44,844.24 1031.44,855.44" fill="#d19e14"/>
<polygon points="1040.24,847.98 1050.32,842.38 1050.32,853.58" fill="#d19e14"/>
<polygon points="1059.12,846.12 1069.2,840.52 1069.2,851.72" fill="#d19e14"/>
<polygon points="1078,844.26 1088.08,838.66 1088.08,849.86" fill="#d19e14"/>
<polygon points="1096.88,842.19 1106.96,836.59 1106.96,847.79" fill="#d19e14"/>
<polygon points="1115.76,839.96 1125.84,834.36 1125.84,845.56" fill="#d19e14"/>
<polygon points="1134.64,837.75 1144.72,832.15 1144.72,843.35" fill="#d19e14"/>
<polygon points="1153.52,835.54 1163.6,829.94 1163.6,841.14" fill="#d19e14"/>
<polygon points="1172.4,832.38 1182.48,826.78 1182.48,837.98" fill="#d19e14"/>
<polygon points="1191.28,826.39 1201.36,820.79 1201.36,831.99" fill="#d19e14"/>
<polygon points="1210.16,815.57 1220.24,809.97 1220.24,821.17" fill="#d19e14"/>
<polygon points="1229.04,794.3 1239.12,788.7 1239.12,799.9" fill="#d19e14"/>
<polygon points="1247.24,753.7 1257.32,748.1 1257.32,759.3" fill="#d19e14"/>
<polygon points="1253.34,739.1 1263.42,733.5 1263.42,744.7" fill="#d19e14"/>
<polygon points="1255.74,724.4 1265.82,718.8 1265.82,730" fill="#d19e14"/>
<polygon points="1263.14,706.1 1273.22,700.5 1273.22,711.7" fill="#d19e14"/>
<polyline fill="none" stroke="#22d2d2" stroke-width="2.2" stroke-linejoin="round" points="739.2,944 739.6,900 740.2,867.9 740.8,795.1 745.3,767 752.3,762.3 757,761 776.58,759.22 795.46,758.04 814.34,756.93 833.22,755.77 852.1,754.6 870.98,753.43 889.86,752.26 908.74,751.29 927.62,750.39 946.5,749.49 965.38,748.58 984.26,747.68 1003.14,746.46 1022.02,745.17 1040.9,743.88 1059.78,742.58 1078.66,741.29 1097.54,739.85 1116.42,738.47 1135.3,737.13 1154.18,735.78 1173.06,734.41 1191.94,733.04 1210.82,731.67 1229.7,728.33 1250.9,722.5 1260.7,717.5 1270.5,709.8"/>
<polygon points="745.14,944 735.42,938.6 735.42,949.4" fill="#22d2d2"/>
<polygon points="745.54,900 735.82,894.6 735.82,905.4" fill="#22d2d2"/>
<polygon points="746.14,867.9 736.42,862.5 736.42,873.3" fill="#22d2d2"/>
<polygon points="746.74,795.1 737.02,789.7 737.02,800.5" fill="#22d2d2"/>
<polygon points="751.24,767 741.52,761.6 741.52,772.4" fill="#22d2d2"/>
<polygon points="758.24,762.3 748.52,756.9 748.52,767.7" fill="#22d2d2"/>
<polygon points="762.94,761 753.22,755.6 753.22,766.4" fill="#22d2d2"/>
<polygon points="782.52,759.22 772.8,753.82 772.8,764.62" fill="#22d2d2"/>
<polygon points="801.4,758.04 791.68,752.64 791.68,763.44" fill="#22d2d2"/>
<polygon points="820.28,756.93 810.56,751.53 810.56,762.33" fill="#22d2d2"/>
<polygon points="839.16,755.77 829.44,750.37 829.44,761.17" fill="#22d2d2"/>
<polygon points="858.04,754.6 848.32,749.2 848.32,760" fill="#22d2d2"/>
<polygon points="876.92,753.43 867.2,748.03 867.2,758.83" fill="#22d2d2"/>
<polygon points="895.8,752.26 886.08,746.86 886.08,757.66" fill="#22d2d2"/>
<polygon points="914.68,751.29 904.96,745.89 904.96,756.69" fill="#22d2d2"/>
<polygon points="933.56,750.39 923.84,744.99 923.84,755.79" fill="#22d2d2"/>
<polygon points="952.44,749.49 942.72,744.09 942.72,754.89" fill="#22d2d2"/>
<polygon points="971.32,748.58 961.6,743.18 961.6,753.98" fill="#22d2d2"/>
<polygon points="990.2,747.68 980.48,742.28 980.48,753.08" fill="#22d2d2"/>
<polygon points="1009.08,746.46 999.36,741.06 999.36,751.86" fill="#22d2d2"/>
<polygon points="1027.96,745.17 1018.24,739.77 1018.24,750.57" fill="#22d2d2"/>
<polygon points="1046.84,743.88 1037.12,738.48 1037.12,749.28" fill="#22d2d2"/>
<polygon points="1065.72,742.58 1056,737.18 1056,747.98" fill="#22d2d2"/>
<polygon points="1084.6,741.29 1074.88,735.89 1074.88,746.69" fill="#22d2d2"/>
<polygon points="1103.48,739.85 1093.76,734.45 1093.76,745.25" fill="#22d2d2"/>
<polygon points="1122.36,738.47 1112.64,733.07 1112.64,743.87" fill="#22d2d2"/>
<polygon points="1141.24,737.13 1131.52,731.73 1131.52,742.53" fill="#22d2d2"/>
<polygon points="1160.12,735.78 1150.4,730.38 1150.4,741.18" fill="#22d2d2"/>
<polygon points="1179,734.41 1169.28,729.01 1169.28,739.81" fill="#22d2d2"/>
<polygon points="1197.88,733.04 1188.16,727.64 1188.16,738.44" fill="#22d2d2"/>
<polygon points="1216.76,731.67 1207.04,726.27 1207.04,737.07" fill="#22d2d2"/>
<polygon points="1235.64,728.33 1225.92,722.93 1225.92,733.73" fill="#22d2d2"/>
<polygon points="1256.84,722.5 1247.12,717.1 1247.12,727.9" fill="#22d2d2"/>
<polygon points="1266.64,717.5 1256.92,712.1 1256.92,722.9" fill="#22d2d2"/>
<polygon points="1276.44,709.8 1266.72,704.4 1266.72,715.2" fill="#22d2d2"/>
<polyline fill="none" stroke="#6a2a2a" stroke-width="2" stroke-linejoin="round" points="761.7,762.8 780.58,761.16 799.46,759.76 818.34,758.83 837.22,757.7 856.1,756.55 874.98,755.41 893.86,754.29 912.74,753.18 931.62,752.08 950.5,750.98 969.38,749.87 988.26,748.81 1007.14,747.79 1026.02,746.77 1044.9,745.74 1063.78,744.72 1082.66,743.7 1101.54,742.66 1120.42,741.61 1139.3,740.47 1158.18,739.22 1177.06,737.66 1195.94,735.66 1214.82,732.08 1233.7,728.37 1246,723.2 1254.6,717.1 1263.1,708.5 1270.5,703.7"/>
<polygon points="761.7,757.23 767.27,762.8 761.7,768.37 756.13,762.8" fill="#744646"/>
<polygon points="780.58,755.59 786.15,761.16 780.58,766.72 775.01,761.16" fill="#744646"/>
<polygon points="799.46,754.19 805.03,759.76 799.46,765.32 793.89,759.76" fill="#744646"/>
<polygon points="818.34,753.27 823.91,758.83 818.34,764.4 812.77,758.83" fill="#744646"/>
<polygon points="837.22,752.13 842.79,757.7 837.22,763.26 831.65,757.7" fill="#744646"/>
<polygon points="856.1,750.99 861.67,756.55 856.1,762.12 850.53,756.55" fill="#744646"/>
<polygon points="874.98,749.84 880.55,755.41 874.98,760.97 869.41,755.41" fill="#744646"/>
<polygon points="893.86,748.72 899.43,754.29 893.86,759.85 888.29,754.29" fill="#744646"/>
<polygon points="912.74,747.62 918.31,753.18 912.74,758.75 907.17,753.18" fill="#744646"/>
<polygon points="931.62,746.52 937.19,752.08 931.62,757.65 926.05,752.08" fill="#744646"/>
<polygon points="950.5,745.41 956.07,750.98 950.5,756.54 944.93,750.98" fill="#744646"/>
<polygon points="969.38,744.31 974.95,749.87 969.38,755.44 963.81,749.87" fill="#744646"/>
<polygon points="988.26,743.24 993.83,748.81 988.26,754.37 982.69,748.81" fill="#744646"/>
<polygon points="1007.14,742.22 1012.71,747.79 1007.14,753.35 1001.58,747.79" fill="#744646"/>
<polygon points="1026.02,741.2 1031.59,746.77 1026.02,752.33 1020.45,746.77" fill="#744646"/>
<polygon points="1044.9,740.18 1050.47,745.74 1044.9,751.31 1039.34,745.74" fill="#744646"/>
<polygon points="1063.78,739.16 1069.35,744.72 1063.78,750.29 1058.21,744.72" fill="#744646"/>
<polygon points="1082.66,738.14 1088.23,743.7 1082.66,749.27 1077.1,743.7" fill="#744646"/>
<polygon points="1101.54,737.1 1107.11,742.66 1101.54,748.23 1095.97,742.66" fill="#744646"/>
<polygon points="1120.42,736.04 1125.99,741.61 1120.42,747.17 1114.86,741.61" fill="#744646"/>
<polygon points="1139.3,734.91 1144.87,740.47 1139.3,746.04 1133.73,740.47" fill="#744646"/>
<polygon points="1158.18,733.66 1163.75,739.22 1158.18,744.79 1152.62,739.22" fill="#744646"/>
<polygon points="1177.06,732.09 1182.62,737.66 1177.06,743.22 1171.49,737.66" fill="#744646"/>
<polygon points="1195.94,730.1 1201.51,735.66 1195.94,741.23 1190.38,735.66" fill="#744646"/>
<polygon points="1214.82,726.52 1220.39,732.08 1214.82,737.65 1209.26,732.08" fill="#744646"/>
<polygon points="1233.7,722.81 1239.27,728.37 1233.7,733.94 1228.13,728.37" fill="#744646"/>
<polygon points="1246,717.63 1251.57,723.2 1246,728.77 1240.43,723.2" fill="#744646"/>
<polygon points="1254.6,711.53 1260.16,717.1 1254.6,722.67 1249.03,717.1" fill="#744646"/>
<polygon points="1263.1,702.93 1268.66,708.5 1263.1,714.07 1257.53,708.5" fill="#744646"/>
<polygon points="1270.5,698.13 1276.07,703.7 1270.5,709.27 1264.93,703.7" fill="#744646"/>
<polyline fill="none" stroke="#808000" stroke-width="2.6" stroke-linejoin="round" points="737.4,946 737.5,880 738.4,809.6 740.7,679.9 746.4,669.5 752.8,630.8 767.5,626 782.6,623.7 801.4,621.4 819.2,619.8 838,618.3 856.7,617.1 874.98,615.54 893.86,614.75 912.74,613.98 931.62,613.21 950.5,612.44 969.38,611.57 988.26,610.69 1007.14,609.81 1026.02,608.93 1044.9,608.05 1063.78,607.19 1082.66,606.33 1101.54,605.48 1120.42,604.62 1139.3,603.77 1158.18,602.69 1177.06,601.6 1195.94,600.5 1214.82,598.94 1233.7,597.09 1252.6,594.8 1262,592 1270.1,589.5"/>
<polygon points="738.4,803.16 740.05,807.33 744.52,807.61 741.06,810.47 742.19,814.81 738.4,812.4 734.61,814.81 735.74,810.47 732.28,807.61 736.75,807.33" fill="#808000"/>
<polygon points="740.7,673.46 742.35,677.63 746.82,677.91 743.36,680.77 744.49,685.11 740.7,682.7 736.91,685.11 738.04,680.77 734.58,677.91 739.05,677.63" fill="#808000"/>
<polygon points="746.4,663.06 748.05,667.23 752.52,667.51 749.06,670.37 750.19,674.71 746.4,672.3 742.61,674.71 743.74,670.37 740.28,667.51 744.75,667.23" fill="#808000"/>
<polygon points="752.8,624.36 754.45,628.53 758.92,628.81 755.46,631.67 756.59,636.01 752.8,633.6 749.01,636.01 750.14,631.67 746.68,628.81 751.15,628.53" fill="#808000"/>
<polygon points="767.5,619.56 769.15,623.73 773.62,624.01 770.16,626.87 771.29,631.21 767.5,628.8 763.71,631.21 764.84,626.87 761.38,624.01 765.85,623.73" fill="#808000"/>
<polygon points="782.6,617.26 784.25,621.43 788.72,621.71 785.26,624.57 786.39,628.91 782.6,626.5 778.81,628.91 779.94,624.57 776.48,621.71 780.95,621.43" fill="#808000"/>
<polygon points="801.4,614.96 803.05,619.13 807.52,619.41 804.06,622.27 805.19,626.61 801.4,624.2 797.61,626.61 798.74,622.27 795.28,619.41 799.75,619.13" fill="#808000"/>
<polygon points="819.2,613.36 820.85,617.53 825.32,617.81 821.86,620.67 822.99,625.01 819.2,622.6 815.41,625.01 816.54,620.67 813.08,617.81 817.55,617.53" fill="#808000"/>
<polygon points="838,611.86 839.65,616.03 844.12,616.31 840.66,619.17 841.79,623.51 838,621.1 834.21,623.51 835.34,619.17 831.88,616.31 836.35,616.03" fill="#808000"/>
<polygon points="856.7,610.66 858.35,614.83 862.82,615.11 859.36,617.97 860.49,622.31 856.7,619.9 852.91,622.31 854.04,617.97 850.58,615.11 855.05,614.83" fill="#808000"/>
<polygon points="874.98,609.1 876.63,613.27 881.1,613.55 877.64,616.4 878.77,620.75 874.98,618.34 871.19,620.75 872.32,616.4 868.86,613.55 873.33,613.27" fill="#808000"/>
<polygon points="893.86,608.31 895.51,612.48 899.98,612.76 896.52,615.61 897.65,619.96 893.86,617.55 890.07,619.96 891.2,615.61 887.74,612.76 892.21,612.48" fill="#808000"/>
<polygon points="912.74,607.54 914.39,611.71 918.86,611.99 915.4,614.84 916.53,619.19 912.74,616.78 908.95,619.19 910.08,614.84 906.62,611.99 911.09,611.71" fill="#808000"/>
<polygon points="931.62,606.77 933.27,610.94 937.74,611.22 934.28,614.08 935.41,618.42 931.62,616.01 927.83,618.42 928.96,614.08 925.5,611.22 929.97,610.94" fill="#808000"/>
<polygon points="950.5,606 952.15,610.18 956.62,610.45 953.16,613.31 954.29,617.65 950.5,615.24 946.71,617.65 947.84,613.31 944.38,610.45 948.85,610.18" fill="#808000"/>
<polygon points="969.38,605.13 971.03,609.3 975.5,609.58 972.04,612.43 973.17,616.78 969.38,614.37 965.59,616.78 966.72,612.43 963.26,609.58 967.73,609.3" fill="#808000"/>
<polygon points="988.26,604.25 989.91,608.42 994.38,608.7 990.92,611.55 992.05,615.9 988.26,613.49 984.47,615.9 985.6,611.55 982.14,608.7 986.61,608.42" fill="#808000"/>
<polygon points="1007.14,603.37 1008.79,607.54 1013.26,607.82 1009.8,610.67 1010.93,615.02 1007.14,612.61 1003.35,615.02 1004.48,610.67 1001.02,607.82 1005.49,607.54" fill="#808000"/>
<polygon points="1026.02,602.49 1027.67,606.66 1032.14,606.94 1028.68,609.79 1029.81,614.14 1026.02,611.73 1022.23,614.14 1023.36,609.79 1019.9,606.94 1024.37,606.66" fill="#808000"/>
<polygon points="1044.9,601.61 1046.55,605.78 1051.02,606.06 1047.56,608.91 1048.69,613.26 1044.9,610.85 1041.11,613.26 1042.24,608.91 1038.78,606.06 1043.25,605.78" fill="#808000"/>
<polygon points="1063.78,600.75 1065.43,604.92 1069.9,605.2 1066.44,608.06 1067.57,612.4 1063.78,609.99 1059.99,612.4 1061.12,608.06 1057.66,605.2 1062.13,604.92" fill="#808000"/>
<polygon points="1082.66,599.89 1084.31,604.07 1088.78,604.34 1085.32,607.2 1086.45,611.54 1082.66,609.13 1078.87,611.54 1080,607.2 1076.54,604.34 1081.01,604.07" fill="#808000"/>
<polygon points="1101.54,599.04 1103.19,603.21 1107.66,603.49 1104.2,606.34 1105.33,610.69 1101.54,608.28 1097.75,610.69 1098.88,606.34 1095.42,603.49 1099.89,603.21" fill="#808000"/>
<polygon points="1120.42,598.18 1122.07,602.36 1126.54,602.63 1123.08,605.49 1124.21,609.83 1120.42,607.42 1116.63,609.83 1117.76,605.49 1114.3,602.63 1118.77,602.36" fill="#808000"/>
<polygon points="1139.3,597.33 1140.95,601.5 1145.42,601.78 1141.96,604.63 1143.09,608.98 1139.3,606.57 1135.51,608.98 1136.64,604.63 1133.18,601.78 1137.65,601.5" fill="#808000"/>
<polygon points="1158.18,596.25 1159.83,600.43 1164.3,600.7 1160.84,603.56 1161.97,607.9 1158.18,605.49 1154.39,607.9 1155.52,603.56 1152.06,600.7 1156.53,600.43" fill="#808000"/>
<polygon points="1177.06,595.16 1178.71,599.33 1183.18,599.61 1179.72,602.46 1180.85,606.81 1177.06,604.4 1173.27,606.81 1174.4,602.46 1170.94,599.61 1175.41,599.33" fill="#808000"/>
<polygon points="1195.94,594.06 1197.59,598.24 1202.06,598.51 1198.6,601.37 1199.73,605.71 1195.94,603.3 1192.15,605.71 1193.28,601.37 1189.82,598.51 1194.29,598.24" fill="#808000"/>
<polygon points="1214.82,592.5 1216.47,596.68 1220.94,596.95 1217.48,599.81 1218.61,604.15 1214.82,601.74 1211.03,604.15 1212.16,599.81 1208.7,596.95 1213.17,596.68" fill="#808000"/>
<polygon points="1233.7,590.65 1235.35,594.83 1239.82,595.1 1236.36,597.96 1237.49,602.3 1233.7,599.89 1229.91,602.3 1231.04,597.96 1227.58,595.1 1232.05,594.83" fill="#808000"/>
<polygon points="1252.6,588.36 1254.25,592.53 1258.72,592.81 1255.26,595.67 1256.39,600.01 1252.6,597.6 1248.81,600.01 1249.94,595.67 1246.48,592.81 1250.95,592.53" fill="#808000"/>
<polygon points="1262,585.56 1263.65,589.73 1268.12,590.01 1264.66,592.87 1265.79,597.21 1262,594.8 1258.21,597.21 1259.34,592.87 1255.88,590.01 1260.35,589.73" fill="#808000"/>
<polygon points="1270.1,583.06 1271.75,587.23 1276.22,587.51 1272.76,590.37 1273.89,594.71 1270.1,592.3 1266.31,594.71 1267.44,590.37 1263.98,587.51 1268.45,587.23" fill="#808000"/>
<polyline fill="none" stroke="#ff5c0c" stroke-width="2.4" stroke-linejoin="round" points="874.98,613.5 893.86,612.76 912.74,611.99 931.62,611.21 950.5,610.44 969.38,609.57 988.26,608.69 1007.14,607.81 1026.02,606.93 1044.9,606.05 1063.78,605.19 1082.66,604.33 1101.54,603.48 1120.42,602.62 1139.3,601.77 1158.18,600.69 1177.06,599.6 1195.94,598.5 1206.8,597.7 1214.82,596.91 1233.7,594.95 1252.6,592.8 1262,590.1 1270.1,587.9 1272.8,585.6"/>
<polygon points="874.98,606.99 881.17,611.49 878.81,618.77 871.15,618.77 868.79,611.49" fill="#ff5c0c"/>
<polygon points="893.86,606.25 900.05,610.75 897.69,618.03 890.03,618.03 887.67,610.75" fill="#ff5c0c"/>
<polygon points="912.74,605.48 918.93,609.98 916.57,617.25 908.91,617.25 906.55,609.98" fill="#ff5c0c"/>
<polygon points="931.62,604.7 937.81,609.2 935.45,616.48 927.79,616.48 925.43,609.2" fill="#ff5c0c"/>
<polygon points="950.5,603.93 956.69,608.43 954.33,615.71 946.67,615.71 944.31,608.43" fill="#ff5c0c"/>
<polygon points="969.38,603.06 975.57,607.55 973.21,614.83 965.55,614.83 963.19,607.55" fill="#ff5c0c"/>
<polygon points="988.26,602.18 994.45,606.67 992.09,613.95 984.43,613.95 982.07,606.67" fill="#ff5c0c"/>
<polygon points="1007.14,601.3 1013.33,605.79 1010.97,613.07 1003.31,613.07 1000.95,605.79" fill="#ff5c0c"/>
<polygon points="1026.02,600.42 1032.21,604.91 1029.85,612.19 1022.19,612.19 1019.83,604.91" fill="#ff5c0c"/>
<polygon points="1044.9,599.54 1051.09,604.03 1048.73,611.31 1041.07,611.31 1038.71,604.03" fill="#ff5c0c"/>
<polygon points="1063.78,598.68 1069.97,603.18 1067.61,610.46 1059.95,610.46 1057.59,603.18" fill="#ff5c0c"/>
<polygon points="1082.66,597.82 1088.85,602.32 1086.49,609.6 1078.83,609.6 1076.47,602.32" fill="#ff5c0c"/>
<polygon points="1101.54,596.97 1107.73,601.47 1105.37,608.75 1097.71,608.75 1095.35,601.47" fill="#ff5c0c"/>
<polygon points="1120.42,596.11 1126.61,600.61 1124.25,607.89 1116.59,607.89 1114.23,600.61" fill="#ff5c0c"/>
<polygon points="1139.3,595.26 1145.49,599.76 1143.13,607.03 1135.47,607.03 1133.11,599.76" fill="#ff5c0c"/>
<polygon points="1158.18,594.18 1164.37,598.68 1162.01,605.96 1154.35,605.96 1151.99,598.68" fill="#ff5c0c"/>
<polygon points="1177.06,593.09 1183.25,597.59 1180.89,604.86 1173.23,604.86 1170.87,597.59" fill="#ff5c0c"/>
<polygon points="1195.94,591.99 1202.13,596.49 1199.77,603.77 1192.11,603.77 1189.75,596.49" fill="#ff5c0c"/>
<polygon points="1206.8,591.19 1212.99,595.69 1210.63,602.97 1202.97,602.97 1200.61,595.69" fill="#ff5c0c"/>
<polygon points="1214.82,590.4 1221.01,594.9 1218.65,602.18 1210.99,602.18 1208.63,594.9" fill="#ff5c0c"/>
<polygon points="1233.7,588.44 1239.89,592.94 1237.53,600.21 1229.87,600.21 1227.51,592.94" fill="#ff5c0c"/>
<polygon points="1252.6,586.29 1258.79,590.79 1256.43,598.07 1248.77,598.07 1246.41,590.79" fill="#ff5c0c"/>
<polygon points="1262,583.59 1268.19,588.09 1265.83,595.37 1258.17,595.37 1255.81,588.09" fill="#ff5c0c"/>
<polygon points="1270.1,581.39 1276.29,585.89 1273.93,593.17 1266.27,593.17 1263.91,585.89" fill="#ff5c0c"/>
<polygon points="1272.8,579.09 1278.99,583.59 1276.63,590.87 1268.97,590.87 1266.61,583.59" fill="#ff5c0c"/>
<rect x="735.5" y="535.4" width="538.7" height="433.8" fill="none" stroke="#000" stroke-width="2"/>
<text x="1167.3" y="639.5" font-size="30" font-family="Liberation Serif" font-weight="bold" text-anchor="middle" >ZIF-8</text>
<text x="1056.6" y="774.3" font-size="30" font-family="Liberation Serif" font-weight="bold" text-anchor="start" textLength="187.6" lengthAdjust="spacingAndGlyphs">CS/ZIF-8-60%</text>
<text x="1058.9" y="863.6" font-size="30" font-family="Liberation Serif" font-weight="bold" text-anchor="start" textLength="187.6" lengthAdjust="spacingAndGlyphs">CS/ZIF-8-51%</text>
<text x="1057.7" y="907.4" font-size="30" font-family="Liberation Serif" font-weight="bold" text-anchor="start" textLength="187.6" lengthAdjust="spacingAndGlyphs">CS/ZIF-8-36%</text>
<text x="1184.4" y="957.6" font-size="30" font-family="Liberation Serif" font-weight="bold" text-anchor="middle" >CS</text>
<text x="1005.5" y="1047.5" font-size="38" font-family="Liberation Serif" font-weight="bold" text-anchor="middle" >Relative Pressure (P/P<tspan dy="8" font-size="25">0</tspan><tspan dy="-8">)</tspan></text>
<text transform="translate(658.2,778) rotate(-90)" font-size="40.5" font-family="Liberation Serif" font-weight="bold" text-anchor="middle" textLength="507" lengthAdjust="spacingAndGlyphs">Quantity adsorbed (cm<tspan dy="-17" font-size="25">3</tspan><tspan dy="17">g</tspan><tspan dy="-17" font-size="25">-1</tspan><tspan dy="17">STP)</tspan></text>
<text x="641.8" y="511.5" font-size="33" font-family="Liberation Sans" font-weight="bold" text-anchor="start" >D</text>
</g>
</svg></body></html>
